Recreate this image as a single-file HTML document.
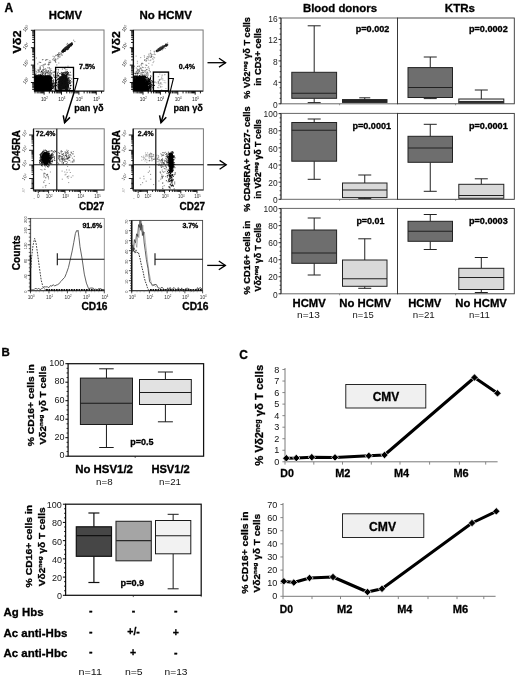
<!DOCTYPE html>
<html><head><meta charset="utf-8"><title>Figure</title>
<style>
html,body{margin:0;padding:0;background:#fff;}
body{width:520px;height:680px;overflow:hidden;font-family:'Liberation Sans', sans-serif;}
svg{display:block;font-family:"Liberation Sans",sans-serif;will-change:transform;}
</style></head><body>
<svg width="520" height="680" viewBox="0 0 520 680">
<rect width="520" height="680" fill="#fff"/>
<text x="4.60" y="11.60" font-size="12.0" font-weight="bold" stroke="#000" stroke-width="0.3">A</text>
<text x="48.80" y="19.00" font-size="11.2" font-weight="bold" stroke="#000" stroke-width="0.3" textLength="33.20" lengthAdjust="spacingAndGlyphs">HCMV</text>
<text x="139.60" y="19.00" font-size="11.2" font-weight="bold" stroke="#000" stroke-width="0.3" textLength="52.20" lengthAdjust="spacingAndGlyphs">No HCMV</text>
<text x="302.90" y="11.80" font-size="11.4" font-weight="bold" stroke="#000" stroke-width="0.3" textLength="74.20" lengthAdjust="spacingAndGlyphs">Blood donors</text>
<text x="444.80" y="11.80" font-size="11.5" font-weight="bold" stroke="#000" stroke-width="0.3" textLength="30.20" lengthAdjust="spacingAndGlyphs">KTRs</text>
<rect x="281.00" y="18.00" width="116.50" height="85.80" fill="none" stroke="#686868" stroke-width="1.0"/>
<rect x="397.50" y="18.00" width="116.80" height="85.80" fill="none" stroke="#333" stroke-width="0.9"/>
<line x1="281.00" y1="18.00" x2="281.00" y2="103.80" stroke="#333" stroke-width="0.9"/>
<line x1="339.60" y1="103.80" x2="339.60" y2="105.30" stroke="#555" stroke-width="0.6"/>
<line x1="455.60" y1="103.80" x2="455.60" y2="105.30" stroke="#555" stroke-width="0.6"/>
<rect x="281.00" y="113.40" width="116.50" height="85.90" fill="none" stroke="#686868" stroke-width="1.0"/>
<rect x="397.50" y="113.40" width="116.80" height="85.90" fill="none" stroke="#333" stroke-width="0.9"/>
<line x1="281.00" y1="113.40" x2="281.00" y2="199.30" stroke="#333" stroke-width="0.9"/>
<line x1="339.60" y1="199.30" x2="339.60" y2="200.80" stroke="#555" stroke-width="0.6"/>
<line x1="455.60" y1="199.30" x2="455.60" y2="200.80" stroke="#555" stroke-width="0.6"/>
<rect x="281.00" y="208.40" width="116.50" height="85.40" fill="none" stroke="#686868" stroke-width="1.0"/>
<rect x="397.50" y="208.40" width="116.80" height="85.40" fill="none" stroke="#333" stroke-width="0.9"/>
<line x1="281.00" y1="208.40" x2="281.00" y2="293.80" stroke="#333" stroke-width="0.9"/>
<line x1="339.60" y1="293.80" x2="339.60" y2="295.30" stroke="#555" stroke-width="0.6"/>
<line x1="455.60" y1="293.80" x2="455.60" y2="295.30" stroke="#555" stroke-width="0.6"/>
<line x1="278.60" y1="103.80" x2="281.00" y2="103.80" stroke="#111" stroke-width="0.9"/>
<text x="277.60" y="107.52" font-size="8.4" text-anchor="end" fill="#1a1a1a">0</text>
<line x1="279.60" y1="98.44" x2="281.00" y2="98.44" stroke="#111" stroke-width="0.7200000000000001"/>
<line x1="279.60" y1="93.08" x2="281.00" y2="93.08" stroke="#111" stroke-width="0.7200000000000001"/>
<line x1="279.60" y1="87.71" x2="281.00" y2="87.71" stroke="#111" stroke-width="0.7200000000000001"/>
<line x1="278.60" y1="82.35" x2="281.00" y2="82.35" stroke="#111" stroke-width="0.9"/>
<text x="277.60" y="86.07" font-size="8.4" text-anchor="end" fill="#1a1a1a">4</text>
<line x1="279.60" y1="76.99" x2="281.00" y2="76.99" stroke="#111" stroke-width="0.7200000000000001"/>
<line x1="279.60" y1="71.62" x2="281.00" y2="71.62" stroke="#111" stroke-width="0.7200000000000001"/>
<line x1="279.60" y1="66.26" x2="281.00" y2="66.26" stroke="#111" stroke-width="0.7200000000000001"/>
<line x1="278.60" y1="60.90" x2="281.00" y2="60.90" stroke="#111" stroke-width="0.9"/>
<text x="277.60" y="64.62" font-size="8.4" text-anchor="end" fill="#1a1a1a">8</text>
<line x1="279.60" y1="55.54" x2="281.00" y2="55.54" stroke="#111" stroke-width="0.7200000000000001"/>
<line x1="279.60" y1="50.17" x2="281.00" y2="50.17" stroke="#111" stroke-width="0.7200000000000001"/>
<line x1="279.60" y1="44.81" x2="281.00" y2="44.81" stroke="#111" stroke-width="0.7200000000000001"/>
<line x1="278.60" y1="39.45" x2="281.00" y2="39.45" stroke="#111" stroke-width="0.9"/>
<text x="277.60" y="43.17" font-size="8.4" text-anchor="end" fill="#1a1a1a">12</text>
<line x1="279.60" y1="34.09" x2="281.00" y2="34.09" stroke="#111" stroke-width="0.7200000000000001"/>
<line x1="279.60" y1="28.73" x2="281.00" y2="28.73" stroke="#111" stroke-width="0.7200000000000001"/>
<line x1="279.60" y1="23.36" x2="281.00" y2="23.36" stroke="#111" stroke-width="0.7200000000000001"/>
<line x1="278.60" y1="18.00" x2="281.00" y2="18.00" stroke="#111" stroke-width="0.9"/>
<text x="277.60" y="21.72" font-size="8.4" text-anchor="end" fill="#1a1a1a">16</text>
<line x1="278.60" y1="199.30" x2="281.00" y2="199.30" stroke="#111" stroke-width="0.9"/>
<text x="277.60" y="203.02" font-size="8.4" text-anchor="end" fill="#1a1a1a">0</text>
<line x1="279.60" y1="195.02" x2="281.00" y2="195.02" stroke="#111" stroke-width="0.7200000000000001"/>
<line x1="279.60" y1="190.73" x2="281.00" y2="190.73" stroke="#111" stroke-width="0.7200000000000001"/>
<line x1="279.60" y1="186.44" x2="281.00" y2="186.44" stroke="#111" stroke-width="0.7200000000000001"/>
<line x1="278.60" y1="182.16" x2="281.00" y2="182.16" stroke="#111" stroke-width="0.9"/>
<text x="277.60" y="185.88" font-size="8.4" text-anchor="end" fill="#1a1a1a">20</text>
<line x1="279.60" y1="177.88" x2="281.00" y2="177.88" stroke="#111" stroke-width="0.7200000000000001"/>
<line x1="279.60" y1="173.59" x2="281.00" y2="173.59" stroke="#111" stroke-width="0.7200000000000001"/>
<line x1="279.60" y1="169.31" x2="281.00" y2="169.31" stroke="#111" stroke-width="0.7200000000000001"/>
<line x1="278.60" y1="165.02" x2="281.00" y2="165.02" stroke="#111" stroke-width="0.9"/>
<text x="277.60" y="168.74" font-size="8.4" text-anchor="end" fill="#1a1a1a">40</text>
<line x1="279.60" y1="160.74" x2="281.00" y2="160.74" stroke="#111" stroke-width="0.7200000000000001"/>
<line x1="279.60" y1="156.45" x2="281.00" y2="156.45" stroke="#111" stroke-width="0.7200000000000001"/>
<line x1="279.60" y1="152.17" x2="281.00" y2="152.17" stroke="#111" stroke-width="0.7200000000000001"/>
<line x1="278.60" y1="147.88" x2="281.00" y2="147.88" stroke="#111" stroke-width="0.9"/>
<text x="277.60" y="151.60" font-size="8.4" text-anchor="end" fill="#1a1a1a">60</text>
<line x1="279.60" y1="143.59" x2="281.00" y2="143.59" stroke="#111" stroke-width="0.7200000000000001"/>
<line x1="279.60" y1="139.31" x2="281.00" y2="139.31" stroke="#111" stroke-width="0.7200000000000001"/>
<line x1="279.60" y1="135.02" x2="281.00" y2="135.02" stroke="#111" stroke-width="0.7200000000000001"/>
<line x1="278.60" y1="130.74" x2="281.00" y2="130.74" stroke="#111" stroke-width="0.9"/>
<text x="277.60" y="134.46" font-size="8.4" text-anchor="end" fill="#1a1a1a">80</text>
<line x1="279.60" y1="126.46" x2="281.00" y2="126.46" stroke="#111" stroke-width="0.7200000000000001"/>
<line x1="279.60" y1="122.17" x2="281.00" y2="122.17" stroke="#111" stroke-width="0.7200000000000001"/>
<line x1="279.60" y1="117.89" x2="281.00" y2="117.89" stroke="#111" stroke-width="0.7200000000000001"/>
<line x1="278.60" y1="113.60" x2="281.00" y2="113.60" stroke="#111" stroke-width="0.9"/>
<text x="277.60" y="117.32" font-size="8.4" text-anchor="end" fill="#1a1a1a">100</text>
<line x1="278.60" y1="293.80" x2="281.00" y2="293.80" stroke="#111" stroke-width="0.9"/>
<text x="277.60" y="297.52" font-size="8.4" text-anchor="end" fill="#1a1a1a">0</text>
<line x1="279.60" y1="289.54" x2="281.00" y2="289.54" stroke="#111" stroke-width="0.7200000000000001"/>
<line x1="279.60" y1="285.28" x2="281.00" y2="285.28" stroke="#111" stroke-width="0.7200000000000001"/>
<line x1="279.60" y1="281.02" x2="281.00" y2="281.02" stroke="#111" stroke-width="0.7200000000000001"/>
<line x1="278.60" y1="276.76" x2="281.00" y2="276.76" stroke="#111" stroke-width="0.9"/>
<text x="277.60" y="280.48" font-size="8.4" text-anchor="end" fill="#1a1a1a">20</text>
<line x1="279.60" y1="272.50" x2="281.00" y2="272.50" stroke="#111" stroke-width="0.7200000000000001"/>
<line x1="279.60" y1="268.24" x2="281.00" y2="268.24" stroke="#111" stroke-width="0.7200000000000001"/>
<line x1="279.60" y1="263.98" x2="281.00" y2="263.98" stroke="#111" stroke-width="0.7200000000000001"/>
<line x1="278.60" y1="259.72" x2="281.00" y2="259.72" stroke="#111" stroke-width="0.9"/>
<text x="277.60" y="263.44" font-size="8.4" text-anchor="end" fill="#1a1a1a">40</text>
<line x1="279.60" y1="255.46" x2="281.00" y2="255.46" stroke="#111" stroke-width="0.7200000000000001"/>
<line x1="279.60" y1="251.20" x2="281.00" y2="251.20" stroke="#111" stroke-width="0.7200000000000001"/>
<line x1="279.60" y1="246.94" x2="281.00" y2="246.94" stroke="#111" stroke-width="0.7200000000000001"/>
<line x1="278.60" y1="242.68" x2="281.00" y2="242.68" stroke="#111" stroke-width="0.9"/>
<text x="277.60" y="246.40" font-size="8.4" text-anchor="end" fill="#1a1a1a">60</text>
<line x1="279.60" y1="238.42" x2="281.00" y2="238.42" stroke="#111" stroke-width="0.7200000000000001"/>
<line x1="279.60" y1="234.16" x2="281.00" y2="234.16" stroke="#111" stroke-width="0.7200000000000001"/>
<line x1="279.60" y1="229.90" x2="281.00" y2="229.90" stroke="#111" stroke-width="0.7200000000000001"/>
<line x1="278.60" y1="225.64" x2="281.00" y2="225.64" stroke="#111" stroke-width="0.9"/>
<text x="277.60" y="229.36" font-size="8.4" text-anchor="end" fill="#1a1a1a">80</text>
<line x1="279.60" y1="221.38" x2="281.00" y2="221.38" stroke="#111" stroke-width="0.7200000000000001"/>
<line x1="279.60" y1="217.12" x2="281.00" y2="217.12" stroke="#111" stroke-width="0.7200000000000001"/>
<line x1="279.60" y1="212.86" x2="281.00" y2="212.86" stroke="#111" stroke-width="0.7200000000000001"/>
<line x1="278.60" y1="208.60" x2="281.00" y2="208.60" stroke="#111" stroke-width="0.9"/>
<text x="277.60" y="212.32" font-size="8.4" text-anchor="end" fill="#1a1a1a">100</text>
<line x1="314.20" y1="25.80" x2="314.20" y2="72.30" stroke="#222" stroke-width="1.0"/>
<line x1="307.70" y1="25.80" x2="320.70" y2="25.80" stroke="#222" stroke-width="1.0"/>
<line x1="314.20" y1="98.30" x2="314.20" y2="102.60" stroke="#222" stroke-width="1.0"/>
<line x1="307.70" y1="102.60" x2="320.70" y2="102.60" stroke="#222" stroke-width="1.0"/>
<rect x="291.80" y="72.30" width="44.80" height="26.00" fill="#6e6e6e" stroke="#222" stroke-width="1.0"/>
<line x1="291.80" y1="93.30" x2="336.60" y2="93.30" stroke="#222" stroke-width="1.1"/>
<line x1="364.75" y1="97.80" x2="364.75" y2="99.60" stroke="#222" stroke-width="1.0"/>
<line x1="359.25" y1="97.80" x2="370.25" y2="97.80" stroke="#222" stroke-width="1.0"/>
<rect x="342.50" y="99.60" width="44.50" height="2.80" fill="#2a2a2a" stroke="#222" stroke-width="1.0"/>
<line x1="342.50" y1="101.00" x2="387.00" y2="101.00" stroke="#222" stroke-width="1.1"/>
<line x1="430.25" y1="57.00" x2="430.25" y2="67.60" stroke="#222" stroke-width="1.0"/>
<line x1="423.75" y1="57.00" x2="436.75" y2="57.00" stroke="#222" stroke-width="1.0"/>
<line x1="430.25" y1="97.50" x2="430.25" y2="98.60" stroke="#222" stroke-width="1.0"/>
<line x1="423.75" y1="98.60" x2="436.75" y2="98.60" stroke="#222" stroke-width="1.0"/>
<rect x="408.00" y="67.60" width="44.50" height="29.90" fill="#6e6e6e" stroke="#222" stroke-width="1.0"/>
<line x1="408.00" y1="87.50" x2="452.50" y2="87.50" stroke="#222" stroke-width="1.1"/>
<line x1="481.30" y1="90.00" x2="481.30" y2="99.00" stroke="#222" stroke-width="1.0"/>
<line x1="474.80" y1="90.00" x2="487.80" y2="90.00" stroke="#222" stroke-width="1.0"/>
<rect x="458.80" y="99.00" width="45.00" height="4.00" fill="#efefef" stroke="#222" stroke-width="1.0"/>
<line x1="458.80" y1="101.60" x2="503.80" y2="101.60" stroke="#222" stroke-width="1.1"/>
<line x1="458.80" y1="102.20" x2="503.80" y2="102.20" stroke="#333" stroke-width="1.6"/>
<line x1="314.20" y1="119.00" x2="314.20" y2="122.50" stroke="#222" stroke-width="1.0"/>
<line x1="307.70" y1="119.00" x2="320.70" y2="119.00" stroke="#222" stroke-width="1.0"/>
<line x1="314.20" y1="161.20" x2="314.20" y2="179.30" stroke="#222" stroke-width="1.0"/>
<line x1="307.70" y1="179.30" x2="320.70" y2="179.30" stroke="#222" stroke-width="1.0"/>
<rect x="291.80" y="122.50" width="44.80" height="38.70" fill="#6e6e6e" stroke="#222" stroke-width="1.0"/>
<line x1="291.80" y1="130.20" x2="336.60" y2="130.20" stroke="#222" stroke-width="1.1"/>
<line x1="364.75" y1="175.00" x2="364.75" y2="183.00" stroke="#222" stroke-width="1.0"/>
<line x1="358.25" y1="175.00" x2="371.25" y2="175.00" stroke="#222" stroke-width="1.0"/>
<line x1="364.75" y1="197.60" x2="364.75" y2="198.60" stroke="#222" stroke-width="1.0"/>
<line x1="358.25" y1="198.60" x2="371.25" y2="198.60" stroke="#222" stroke-width="1.0"/>
<rect x="342.50" y="183.00" width="44.50" height="14.60" fill="#d9d9d9" stroke="#222" stroke-width="1.0"/>
<line x1="342.50" y1="190.00" x2="387.00" y2="190.00" stroke="#222" stroke-width="1.1"/>
<line x1="430.25" y1="124.30" x2="430.25" y2="136.30" stroke="#222" stroke-width="1.0"/>
<line x1="423.75" y1="124.30" x2="436.75" y2="124.30" stroke="#222" stroke-width="1.0"/>
<line x1="430.25" y1="162.30" x2="430.25" y2="191.30" stroke="#222" stroke-width="1.0"/>
<line x1="423.75" y1="191.30" x2="436.75" y2="191.30" stroke="#222" stroke-width="1.0"/>
<rect x="408.00" y="136.30" width="44.50" height="26.00" fill="#6e6e6e" stroke="#222" stroke-width="1.0"/>
<line x1="408.00" y1="148.00" x2="452.50" y2="148.00" stroke="#222" stroke-width="1.1"/>
<line x1="481.30" y1="178.80" x2="481.30" y2="184.30" stroke="#222" stroke-width="1.0"/>
<line x1="474.80" y1="178.80" x2="487.80" y2="178.80" stroke="#222" stroke-width="1.0"/>
<rect x="458.80" y="184.30" width="45.00" height="14.00" fill="#d9d9d9" stroke="#222" stroke-width="1.0"/>
<line x1="458.80" y1="195.50" x2="503.80" y2="195.50" stroke="#222" stroke-width="1.1"/>
<line x1="314.20" y1="218.00" x2="314.20" y2="230.00" stroke="#222" stroke-width="1.0"/>
<line x1="307.70" y1="218.00" x2="320.70" y2="218.00" stroke="#222" stroke-width="1.0"/>
<line x1="314.20" y1="263.30" x2="314.20" y2="275.00" stroke="#222" stroke-width="1.0"/>
<line x1="307.70" y1="275.00" x2="320.70" y2="275.00" stroke="#222" stroke-width="1.0"/>
<rect x="291.80" y="230.00" width="44.80" height="33.30" fill="#6e6e6e" stroke="#222" stroke-width="1.0"/>
<line x1="291.80" y1="253.00" x2="336.60" y2="253.00" stroke="#222" stroke-width="1.1"/>
<line x1="364.75" y1="238.80" x2="364.75" y2="260.00" stroke="#222" stroke-width="1.0"/>
<line x1="358.25" y1="238.80" x2="371.25" y2="238.80" stroke="#222" stroke-width="1.0"/>
<line x1="364.75" y1="286.30" x2="364.75" y2="288.30" stroke="#222" stroke-width="1.0"/>
<line x1="358.25" y1="288.30" x2="371.25" y2="288.30" stroke="#222" stroke-width="1.0"/>
<rect x="342.50" y="260.00" width="44.50" height="26.30" fill="#d9d9d9" stroke="#222" stroke-width="1.0"/>
<line x1="342.50" y1="278.70" x2="387.00" y2="278.70" stroke="#222" stroke-width="1.1"/>
<line x1="430.25" y1="214.50" x2="430.25" y2="221.30" stroke="#222" stroke-width="1.0"/>
<line x1="423.75" y1="214.50" x2="436.75" y2="214.50" stroke="#222" stroke-width="1.0"/>
<line x1="430.25" y1="241.30" x2="430.25" y2="249.50" stroke="#222" stroke-width="1.0"/>
<line x1="423.75" y1="249.50" x2="436.75" y2="249.50" stroke="#222" stroke-width="1.0"/>
<rect x="408.00" y="221.30" width="44.50" height="20.00" fill="#6e6e6e" stroke="#222" stroke-width="1.0"/>
<line x1="408.00" y1="231.30" x2="452.50" y2="231.30" stroke="#222" stroke-width="1.1"/>
<line x1="481.30" y1="257.50" x2="481.30" y2="268.30" stroke="#222" stroke-width="1.0"/>
<line x1="474.80" y1="257.50" x2="487.80" y2="257.50" stroke="#222" stroke-width="1.0"/>
<line x1="481.30" y1="289.50" x2="481.30" y2="292.50" stroke="#222" stroke-width="1.0"/>
<line x1="474.80" y1="292.50" x2="487.80" y2="292.50" stroke="#222" stroke-width="1.0"/>
<rect x="458.80" y="268.30" width="45.00" height="21.20" fill="#d9d9d9" stroke="#222" stroke-width="1.0"/>
<line x1="458.80" y1="277.50" x2="503.80" y2="277.50" stroke="#222" stroke-width="1.1"/>
<text x="355.80" y="31.80" font-size="8.8" font-weight="bold" stroke="#000" stroke-width="0.3" textLength="33.50" lengthAdjust="spacingAndGlyphs">p=0.002</text>
<text x="469.00" y="31.90" font-size="8.8" font-weight="bold" stroke="#000" stroke-width="0.3" textLength="38.70" lengthAdjust="spacingAndGlyphs">p=0.0002</text>
<text x="352.40" y="129.20" font-size="8.8" font-weight="bold" stroke="#000" stroke-width="0.3" textLength="38.70" lengthAdjust="spacingAndGlyphs">p=0.0001</text>
<text x="469.00" y="129.20" font-size="8.8" font-weight="bold" stroke="#000" stroke-width="0.3" textLength="38.70" lengthAdjust="spacingAndGlyphs">p=0.0001</text>
<text x="356.40" y="223.70" font-size="8.8" font-weight="bold" stroke="#000" stroke-width="0.3" textLength="28.00" lengthAdjust="spacingAndGlyphs">p=0.01</text>
<text x="469.00" y="223.70" font-size="8.8" font-weight="bold" stroke="#000" stroke-width="0.3" textLength="38.70" lengthAdjust="spacingAndGlyphs">p=0.0003</text>
<text x="292.50" y="306.50" font-size="11.6" font-weight="bold" stroke="#000" stroke-width="0.3" textLength="33.20" lengthAdjust="spacingAndGlyphs">HCMV</text>
<text x="339.30" y="306.50" font-size="11.6" font-weight="bold" stroke="#000" stroke-width="0.3" textLength="51.80" lengthAdjust="spacingAndGlyphs">No HCMV</text>
<text x="408.20" y="306.50" font-size="11.6" font-weight="bold" stroke="#000" stroke-width="0.3" textLength="33.20" lengthAdjust="spacingAndGlyphs">HCMV</text>
<text x="455.30" y="306.50" font-size="11.6" font-weight="bold" stroke="#000" stroke-width="0.3" textLength="51.60" lengthAdjust="spacingAndGlyphs">No HCMV</text>
<text x="297.00" y="318.00" font-size="9.6" fill="#151515" textLength="22.80" lengthAdjust="spacingAndGlyphs">n=13</text>
<text x="352.60" y="318.00" font-size="9.6" fill="#151515" textLength="21.20" lengthAdjust="spacingAndGlyphs">n=15</text>
<text x="412.80" y="318.00" font-size="9.6" fill="#151515" textLength="22.00" lengthAdjust="spacingAndGlyphs">n=21</text>
<text x="468.90" y="318.00" font-size="9.6" fill="#151515" textLength="20.90" lengthAdjust="spacingAndGlyphs">n=11</text>
<text transform="translate(250.30,98.70) rotate(-90)" font-size="9.1" font-weight="bold" stroke="#000" stroke-width="0.3" textLength="81.60" lengthAdjust="spacingAndGlyphs">% Vδ2<tspan font-size="5.64" dy="-3.00">neg</tspan><tspan dy="3.00"> </tspan>γδ T cells</text>
<text transform="translate(261.30,85.70) rotate(-90)" font-size="9.1" font-weight="bold" stroke="#000" stroke-width="0.3" textLength="57.60" lengthAdjust="spacingAndGlyphs">in CD3+ cells</text>
<text transform="translate(250.30,211.80) rotate(-90)" font-size="9.1" font-weight="bold" stroke="#000" stroke-width="0.3" textLength="105.40" lengthAdjust="spacingAndGlyphs">% CD45RA+ CD27- cells</text>
<text transform="translate(261.30,198.80) rotate(-90)" font-size="9.1" font-weight="bold" stroke="#000" stroke-width="0.3" textLength="79.60" lengthAdjust="spacingAndGlyphs">in Vδ2<tspan font-size="5.64" dy="-3.00">neg</tspan><tspan dy="3.00"> </tspan>γδ T cells</text>
<text transform="translate(250.30,294.50) rotate(-90)" font-size="9.1" font-weight="bold" stroke="#000" stroke-width="0.3" textLength="74.00" lengthAdjust="spacingAndGlyphs">% CD16+ cells in</text>
<text transform="translate(261.30,291.50) rotate(-90)" font-size="9.1" font-weight="bold" stroke="#000" stroke-width="0.3" textLength="68.50" lengthAdjust="spacingAndGlyphs">Vδ2<tspan font-size="5.64" dy="-3.00">neg</tspan><tspan dy="3.00"> </tspan>γδ T cells</text>
<rect x="34.50" y="30.00" width="69.50" height="61.10" fill="none" stroke="#777" stroke-width="1.0"/>
<line x1="34.50" y1="30.00" x2="34.50" y2="91.60" stroke="#111" stroke-width="1.3"/>
<line x1="34.50" y1="91.10" x2="104.00" y2="91.10" stroke="#333" stroke-width="1.1"/>
<line x1="35.00" y1="91.10" x2="35.00" y2="93.40" stroke="#000" stroke-width="0.9"/>
<line x1="37.18" y1="91.10" x2="37.18" y2="93.40" stroke="#000" stroke-width="0.9"/>
<line x1="38.86" y1="91.10" x2="38.86" y2="93.40" stroke="#000" stroke-width="0.9"/>
<line x1="40.24" y1="91.10" x2="40.24" y2="93.40" stroke="#000" stroke-width="0.9"/>
<line x1="41.40" y1="91.10" x2="41.40" y2="93.40" stroke="#000" stroke-width="0.9"/>
<line x1="42.41" y1="91.10" x2="42.41" y2="93.40" stroke="#000" stroke-width="0.9"/>
<line x1="43.30" y1="91.10" x2="43.30" y2="93.40" stroke="#000" stroke-width="0.9"/>
<line x1="44.10" y1="91.10" x2="44.10" y2="94.70" stroke="#000" stroke-width="0.9"/>
<line x1="49.34" y1="91.10" x2="49.34" y2="93.40" stroke="#000" stroke-width="0.9"/>
<line x1="52.40" y1="91.10" x2="52.40" y2="93.40" stroke="#000" stroke-width="0.9"/>
<line x1="54.58" y1="91.10" x2="54.58" y2="93.40" stroke="#000" stroke-width="0.9"/>
<line x1="56.26" y1="91.10" x2="56.26" y2="93.40" stroke="#000" stroke-width="0.9"/>
<line x1="57.64" y1="91.10" x2="57.64" y2="93.40" stroke="#000" stroke-width="0.9"/>
<line x1="58.80" y1="91.10" x2="58.80" y2="93.40" stroke="#000" stroke-width="0.9"/>
<line x1="59.81" y1="91.10" x2="59.81" y2="93.40" stroke="#000" stroke-width="0.9"/>
<line x1="60.70" y1="91.10" x2="60.70" y2="93.40" stroke="#000" stroke-width="0.9"/>
<line x1="61.50" y1="91.10" x2="61.50" y2="94.70" stroke="#000" stroke-width="0.9"/>
<line x1="66.74" y1="91.10" x2="66.74" y2="93.40" stroke="#000" stroke-width="0.9"/>
<line x1="69.80" y1="91.10" x2="69.80" y2="93.40" stroke="#000" stroke-width="0.9"/>
<line x1="71.98" y1="91.10" x2="71.98" y2="93.40" stroke="#000" stroke-width="0.9"/>
<line x1="73.66" y1="91.10" x2="73.66" y2="93.40" stroke="#000" stroke-width="0.9"/>
<line x1="75.04" y1="91.10" x2="75.04" y2="93.40" stroke="#000" stroke-width="0.9"/>
<line x1="76.20" y1="91.10" x2="76.20" y2="93.40" stroke="#000" stroke-width="0.9"/>
<line x1="77.21" y1="91.10" x2="77.21" y2="93.40" stroke="#000" stroke-width="0.9"/>
<line x1="78.10" y1="91.10" x2="78.10" y2="93.40" stroke="#000" stroke-width="0.9"/>
<line x1="78.90" y1="91.10" x2="78.90" y2="94.70" stroke="#000" stroke-width="0.9"/>
<line x1="84.14" y1="91.10" x2="84.14" y2="93.40" stroke="#000" stroke-width="0.9"/>
<line x1="87.20" y1="91.10" x2="87.20" y2="93.40" stroke="#000" stroke-width="0.9"/>
<line x1="89.38" y1="91.10" x2="89.38" y2="93.40" stroke="#000" stroke-width="0.9"/>
<line x1="91.06" y1="91.10" x2="91.06" y2="93.40" stroke="#000" stroke-width="0.9"/>
<line x1="92.44" y1="91.10" x2="92.44" y2="93.40" stroke="#000" stroke-width="0.9"/>
<line x1="93.60" y1="91.10" x2="93.60" y2="93.40" stroke="#000" stroke-width="0.9"/>
<line x1="94.61" y1="91.10" x2="94.61" y2="93.40" stroke="#000" stroke-width="0.9"/>
<line x1="95.50" y1="91.10" x2="95.50" y2="93.40" stroke="#000" stroke-width="0.9"/>
<line x1="96.30" y1="91.10" x2="96.30" y2="94.70" stroke="#000" stroke-width="0.9"/>
<line x1="101.54" y1="91.10" x2="101.54" y2="93.40" stroke="#000" stroke-width="0.9"/>
<line x1="32.20" y1="89.42" x2="34.50" y2="89.42" stroke="#000" stroke-width="0.9"/>
<line x1="32.20" y1="87.74" x2="34.50" y2="87.74" stroke="#000" stroke-width="0.9"/>
<line x1="32.20" y1="86.36" x2="34.50" y2="86.36" stroke="#000" stroke-width="0.9"/>
<line x1="32.20" y1="85.20" x2="34.50" y2="85.20" stroke="#000" stroke-width="0.9"/>
<line x1="32.20" y1="84.19" x2="34.50" y2="84.19" stroke="#000" stroke-width="0.9"/>
<line x1="32.20" y1="83.30" x2="34.50" y2="83.30" stroke="#000" stroke-width="0.9"/>
<line x1="30.90" y1="82.50" x2="34.50" y2="82.50" stroke="#000" stroke-width="0.9"/>
<line x1="32.20" y1="77.26" x2="34.50" y2="77.26" stroke="#000" stroke-width="0.9"/>
<line x1="32.20" y1="74.20" x2="34.50" y2="74.20" stroke="#000" stroke-width="0.9"/>
<line x1="32.20" y1="72.02" x2="34.50" y2="72.02" stroke="#000" stroke-width="0.9"/>
<line x1="32.20" y1="70.34" x2="34.50" y2="70.34" stroke="#000" stroke-width="0.9"/>
<line x1="32.20" y1="68.96" x2="34.50" y2="68.96" stroke="#000" stroke-width="0.9"/>
<line x1="32.20" y1="67.80" x2="34.50" y2="67.80" stroke="#000" stroke-width="0.9"/>
<line x1="32.20" y1="66.79" x2="34.50" y2="66.79" stroke="#000" stroke-width="0.9"/>
<line x1="32.20" y1="65.90" x2="34.50" y2="65.90" stroke="#000" stroke-width="0.9"/>
<line x1="30.90" y1="65.10" x2="34.50" y2="65.10" stroke="#000" stroke-width="0.9"/>
<line x1="32.20" y1="59.86" x2="34.50" y2="59.86" stroke="#000" stroke-width="0.9"/>
<line x1="32.20" y1="56.80" x2="34.50" y2="56.80" stroke="#000" stroke-width="0.9"/>
<line x1="32.20" y1="54.62" x2="34.50" y2="54.62" stroke="#000" stroke-width="0.9"/>
<line x1="32.20" y1="52.94" x2="34.50" y2="52.94" stroke="#000" stroke-width="0.9"/>
<line x1="32.20" y1="51.56" x2="34.50" y2="51.56" stroke="#000" stroke-width="0.9"/>
<line x1="32.20" y1="50.40" x2="34.50" y2="50.40" stroke="#000" stroke-width="0.9"/>
<line x1="32.20" y1="49.39" x2="34.50" y2="49.39" stroke="#000" stroke-width="0.9"/>
<line x1="32.20" y1="48.50" x2="34.50" y2="48.50" stroke="#000" stroke-width="0.9"/>
<line x1="30.90" y1="47.70" x2="34.50" y2="47.70" stroke="#000" stroke-width="0.9"/>
<line x1="32.20" y1="42.46" x2="34.50" y2="42.46" stroke="#000" stroke-width="0.9"/>
<line x1="32.20" y1="39.40" x2="34.50" y2="39.40" stroke="#000" stroke-width="0.9"/>
<line x1="32.20" y1="37.22" x2="34.50" y2="37.22" stroke="#000" stroke-width="0.9"/>
<line x1="32.20" y1="35.54" x2="34.50" y2="35.54" stroke="#000" stroke-width="0.9"/>
<line x1="32.20" y1="34.16" x2="34.50" y2="34.16" stroke="#000" stroke-width="0.9"/>
<line x1="32.20" y1="33.00" x2="34.50" y2="33.00" stroke="#000" stroke-width="0.9"/>
<line x1="32.20" y1="31.99" x2="34.50" y2="31.99" stroke="#000" stroke-width="0.9"/>
<line x1="32.20" y1="31.10" x2="34.50" y2="31.10" stroke="#000" stroke-width="0.9"/>
<line x1="30.90" y1="30.30" x2="34.50" y2="30.30" stroke="#000" stroke-width="0.9"/>
<text x="44.40" y="100.50" font-size="4.8" fill="#222" text-anchor="middle">10<tspan font-size="2.8" dy="-1.6">2</tspan></text>
<text transform="translate(27.10,81.70) rotate(-55)" font-size="4.8" fill="#222" text-anchor="middle">10<tspan font-size="2.8" dy="-1.6">2</tspan></text>
<text x="61.80" y="100.50" font-size="4.8" fill="#222" text-anchor="middle">10<tspan font-size="2.8" dy="-1.6">3</tspan></text>
<text transform="translate(27.10,64.30) rotate(-55)" font-size="4.8" fill="#222" text-anchor="middle">10<tspan font-size="2.8" dy="-1.6">3</tspan></text>
<text x="79.20" y="100.50" font-size="4.8" fill="#222" text-anchor="middle">10<tspan font-size="2.8" dy="-1.6">4</tspan></text>
<text transform="translate(27.10,46.90) rotate(-55)" font-size="4.8" fill="#222" text-anchor="middle">10<tspan font-size="2.8" dy="-1.6">4</tspan></text>
<text x="96.60" y="100.50" font-size="4.8" fill="#222" text-anchor="middle">10<tspan font-size="2.8" dy="-1.6">5</tspan></text>
<text transform="translate(27.10,29.50) rotate(-55)" font-size="4.8" fill="#222" text-anchor="middle">10<tspan font-size="2.8" dy="-1.6">5</tspan></text>
<rect x="133.40" y="30.00" width="69.70" height="61.10" fill="none" stroke="#777" stroke-width="1.0"/>
<line x1="133.40" y1="30.00" x2="133.40" y2="91.60" stroke="#111" stroke-width="1.3"/>
<line x1="133.40" y1="91.10" x2="203.10" y2="91.10" stroke="#333" stroke-width="1.1"/>
<line x1="133.90" y1="91.10" x2="133.90" y2="93.40" stroke="#000" stroke-width="0.9"/>
<line x1="136.08" y1="91.10" x2="136.08" y2="93.40" stroke="#000" stroke-width="0.9"/>
<line x1="137.76" y1="91.10" x2="137.76" y2="93.40" stroke="#000" stroke-width="0.9"/>
<line x1="139.14" y1="91.10" x2="139.14" y2="93.40" stroke="#000" stroke-width="0.9"/>
<line x1="140.30" y1="91.10" x2="140.30" y2="93.40" stroke="#000" stroke-width="0.9"/>
<line x1="141.31" y1="91.10" x2="141.31" y2="93.40" stroke="#000" stroke-width="0.9"/>
<line x1="142.20" y1="91.10" x2="142.20" y2="93.40" stroke="#000" stroke-width="0.9"/>
<line x1="143.00" y1="91.10" x2="143.00" y2="94.70" stroke="#000" stroke-width="0.9"/>
<line x1="148.24" y1="91.10" x2="148.24" y2="93.40" stroke="#000" stroke-width="0.9"/>
<line x1="151.30" y1="91.10" x2="151.30" y2="93.40" stroke="#000" stroke-width="0.9"/>
<line x1="153.48" y1="91.10" x2="153.48" y2="93.40" stroke="#000" stroke-width="0.9"/>
<line x1="155.16" y1="91.10" x2="155.16" y2="93.40" stroke="#000" stroke-width="0.9"/>
<line x1="156.54" y1="91.10" x2="156.54" y2="93.40" stroke="#000" stroke-width="0.9"/>
<line x1="157.70" y1="91.10" x2="157.70" y2="93.40" stroke="#000" stroke-width="0.9"/>
<line x1="158.71" y1="91.10" x2="158.71" y2="93.40" stroke="#000" stroke-width="0.9"/>
<line x1="159.60" y1="91.10" x2="159.60" y2="93.40" stroke="#000" stroke-width="0.9"/>
<line x1="160.40" y1="91.10" x2="160.40" y2="94.70" stroke="#000" stroke-width="0.9"/>
<line x1="165.64" y1="91.10" x2="165.64" y2="93.40" stroke="#000" stroke-width="0.9"/>
<line x1="168.70" y1="91.10" x2="168.70" y2="93.40" stroke="#000" stroke-width="0.9"/>
<line x1="170.88" y1="91.10" x2="170.88" y2="93.40" stroke="#000" stroke-width="0.9"/>
<line x1="172.56" y1="91.10" x2="172.56" y2="93.40" stroke="#000" stroke-width="0.9"/>
<line x1="173.94" y1="91.10" x2="173.94" y2="93.40" stroke="#000" stroke-width="0.9"/>
<line x1="175.10" y1="91.10" x2="175.10" y2="93.40" stroke="#000" stroke-width="0.9"/>
<line x1="176.11" y1="91.10" x2="176.11" y2="93.40" stroke="#000" stroke-width="0.9"/>
<line x1="177.00" y1="91.10" x2="177.00" y2="93.40" stroke="#000" stroke-width="0.9"/>
<line x1="177.80" y1="91.10" x2="177.80" y2="94.70" stroke="#000" stroke-width="0.9"/>
<line x1="183.04" y1="91.10" x2="183.04" y2="93.40" stroke="#000" stroke-width="0.9"/>
<line x1="186.10" y1="91.10" x2="186.10" y2="93.40" stroke="#000" stroke-width="0.9"/>
<line x1="188.28" y1="91.10" x2="188.28" y2="93.40" stroke="#000" stroke-width="0.9"/>
<line x1="189.96" y1="91.10" x2="189.96" y2="93.40" stroke="#000" stroke-width="0.9"/>
<line x1="191.34" y1="91.10" x2="191.34" y2="93.40" stroke="#000" stroke-width="0.9"/>
<line x1="192.50" y1="91.10" x2="192.50" y2="93.40" stroke="#000" stroke-width="0.9"/>
<line x1="193.51" y1="91.10" x2="193.51" y2="93.40" stroke="#000" stroke-width="0.9"/>
<line x1="194.40" y1="91.10" x2="194.40" y2="93.40" stroke="#000" stroke-width="0.9"/>
<line x1="195.20" y1="91.10" x2="195.20" y2="94.70" stroke="#000" stroke-width="0.9"/>
<line x1="200.44" y1="91.10" x2="200.44" y2="93.40" stroke="#000" stroke-width="0.9"/>
<line x1="131.10" y1="89.42" x2="133.40" y2="89.42" stroke="#000" stroke-width="0.9"/>
<line x1="131.10" y1="87.74" x2="133.40" y2="87.74" stroke="#000" stroke-width="0.9"/>
<line x1="131.10" y1="86.36" x2="133.40" y2="86.36" stroke="#000" stroke-width="0.9"/>
<line x1="131.10" y1="85.20" x2="133.40" y2="85.20" stroke="#000" stroke-width="0.9"/>
<line x1="131.10" y1="84.19" x2="133.40" y2="84.19" stroke="#000" stroke-width="0.9"/>
<line x1="131.10" y1="83.30" x2="133.40" y2="83.30" stroke="#000" stroke-width="0.9"/>
<line x1="129.80" y1="82.50" x2="133.40" y2="82.50" stroke="#000" stroke-width="0.9"/>
<line x1="131.10" y1="77.26" x2="133.40" y2="77.26" stroke="#000" stroke-width="0.9"/>
<line x1="131.10" y1="74.20" x2="133.40" y2="74.20" stroke="#000" stroke-width="0.9"/>
<line x1="131.10" y1="72.02" x2="133.40" y2="72.02" stroke="#000" stroke-width="0.9"/>
<line x1="131.10" y1="70.34" x2="133.40" y2="70.34" stroke="#000" stroke-width="0.9"/>
<line x1="131.10" y1="68.96" x2="133.40" y2="68.96" stroke="#000" stroke-width="0.9"/>
<line x1="131.10" y1="67.80" x2="133.40" y2="67.80" stroke="#000" stroke-width="0.9"/>
<line x1="131.10" y1="66.79" x2="133.40" y2="66.79" stroke="#000" stroke-width="0.9"/>
<line x1="131.10" y1="65.90" x2="133.40" y2="65.90" stroke="#000" stroke-width="0.9"/>
<line x1="129.80" y1="65.10" x2="133.40" y2="65.10" stroke="#000" stroke-width="0.9"/>
<line x1="131.10" y1="59.86" x2="133.40" y2="59.86" stroke="#000" stroke-width="0.9"/>
<line x1="131.10" y1="56.80" x2="133.40" y2="56.80" stroke="#000" stroke-width="0.9"/>
<line x1="131.10" y1="54.62" x2="133.40" y2="54.62" stroke="#000" stroke-width="0.9"/>
<line x1="131.10" y1="52.94" x2="133.40" y2="52.94" stroke="#000" stroke-width="0.9"/>
<line x1="131.10" y1="51.56" x2="133.40" y2="51.56" stroke="#000" stroke-width="0.9"/>
<line x1="131.10" y1="50.40" x2="133.40" y2="50.40" stroke="#000" stroke-width="0.9"/>
<line x1="131.10" y1="49.39" x2="133.40" y2="49.39" stroke="#000" stroke-width="0.9"/>
<line x1="131.10" y1="48.50" x2="133.40" y2="48.50" stroke="#000" stroke-width="0.9"/>
<line x1="129.80" y1="47.70" x2="133.40" y2="47.70" stroke="#000" stroke-width="0.9"/>
<line x1="131.10" y1="42.46" x2="133.40" y2="42.46" stroke="#000" stroke-width="0.9"/>
<line x1="131.10" y1="39.40" x2="133.40" y2="39.40" stroke="#000" stroke-width="0.9"/>
<line x1="131.10" y1="37.22" x2="133.40" y2="37.22" stroke="#000" stroke-width="0.9"/>
<line x1="131.10" y1="35.54" x2="133.40" y2="35.54" stroke="#000" stroke-width="0.9"/>
<line x1="131.10" y1="34.16" x2="133.40" y2="34.16" stroke="#000" stroke-width="0.9"/>
<line x1="131.10" y1="33.00" x2="133.40" y2="33.00" stroke="#000" stroke-width="0.9"/>
<line x1="131.10" y1="31.99" x2="133.40" y2="31.99" stroke="#000" stroke-width="0.9"/>
<line x1="131.10" y1="31.10" x2="133.40" y2="31.10" stroke="#000" stroke-width="0.9"/>
<line x1="129.80" y1="30.30" x2="133.40" y2="30.30" stroke="#000" stroke-width="0.9"/>
<text x="143.30" y="100.50" font-size="4.8" fill="#222" text-anchor="middle">10<tspan font-size="2.8" dy="-1.6">2</tspan></text>
<text transform="translate(126.00,81.70) rotate(-55)" font-size="4.8" fill="#222" text-anchor="middle">10<tspan font-size="2.8" dy="-1.6">2</tspan></text>
<text x="160.70" y="100.50" font-size="4.8" fill="#222" text-anchor="middle">10<tspan font-size="2.8" dy="-1.6">3</tspan></text>
<text transform="translate(126.00,64.30) rotate(-55)" font-size="4.8" fill="#222" text-anchor="middle">10<tspan font-size="2.8" dy="-1.6">3</tspan></text>
<text x="178.10" y="100.50" font-size="4.8" fill="#222" text-anchor="middle">10<tspan font-size="2.8" dy="-1.6">4</tspan></text>
<text transform="translate(126.00,46.90) rotate(-55)" font-size="4.8" fill="#222" text-anchor="middle">10<tspan font-size="2.8" dy="-1.6">4</tspan></text>
<text x="195.50" y="100.50" font-size="4.8" fill="#222" text-anchor="middle">10<tspan font-size="2.8" dy="-1.6">5</tspan></text>
<text transform="translate(126.00,29.50) rotate(-55)" font-size="4.8" fill="#222" text-anchor="middle">10<tspan font-size="2.8" dy="-1.6">5</tspan></text>
<path d="M34.5 91.1 L34.5 90.1 L34.5 89.2 L34.5 88.2 L34.5 87.3 L34.5 86.3 L34.5 85.3 L34.5 84.4 L34.5 83.4 L34.5 82.4 L34.5 81.5 L34.5 80.5 L34.5 79.6 L34.5 78.6 L35.3 77.3 L36.7 76.4 L37.6 76.7 L37.9 76.8 L38.9 76.6 L39.9 76.0 L41.4 77.0 L42.0 76.0 L43.7 77.1 L44.6 76.4 L46.2 76.0 L47.0 76.4 L47.0 76.3 L48.0 77.8 L48.5 78.1 L49.9 78.4 L50.0 79.1 L49.5 80.4 L50.6 81.8 L50.2 83.1 L50.4 83.7 L50.9 85.3 L50.1 86.1 L50.5 87.6 L50.8 87.8 L51.2 88.5 L50.4 90.4 L50.5 91.1 L49.6 91.1 L48.6 91.1 L47.7 91.1 L46.7 91.1 L45.8 91.1 L44.9 91.1 L43.9 91.1 L43.0 91.1 L42.0 91.1 L41.1 91.1 L40.1 91.1 L39.2 91.1 L38.3 91.1 L37.3 91.1 L36.4 91.1 L35.4 91.1 Z" fill="#000"/>
<path d="M46.4 88.4h.01M50.9 85.7h.01M43.2 78.0h.01M46.1 81.2h.01M39.9 78.2h.01M36.9 81.6h.01M50.0 74.7h.01M50.9 86.7h.01M44.6 80.6h.01M36.0 88.5h.01M48.9 84.7h.01M43.9 86.0h.01M51.7 86.8h.01M45.5 86.5h.01M48.0 86.4h.01M47.4 75.7h.01M41.4 88.7h.01M45.7 83.3h.01M44.4 87.0h.01M43.2 89.3h.01M38.7 82.1h.01M48.5 84.1h.01M37.4 88.4h.01M51.0 82.0h.01M41.6 82.6h.01M50.6 79.3h.01M49.8 78.2h.01M37.9 86.9h.01M49.0 88.0h.01M44.5 84.7h.01M43.4 86.6h.01M41.5 85.3h.01M45.8 84.0h.01M46.9 86.6h.01M54.2 85.5h.01M40.0 82.3h.01M42.4 88.2h.01M40.5 85.8h.01M53.2 72.2h.01M36.0 85.1h.01M44.8 85.1h.01M40.0 87.0h.01M44.1 81.6h.01M56.6 85.6h.01M39.3 83.5h.01M41.2 83.7h.01M48.3 78.6h.01M42.1 88.4h.01M40.5 86.9h.01M48.8 71.7h.01M48.8 77.3h.01M46.5 77.1h.01M43.5 89.5h.01M41.6 84.9h.01M47.1 84.7h.01M48.6 82.6h.01M58.4 78.7h.01M47.8 82.8h.01M43.3 87.2h.01M43.8 86.9h.01M46.1 79.6h.01M36.5 77.2h.01M49.8 87.4h.01M51.0 79.7h.01M42.5 78.8h.01M48.2 83.2h.01M41.9 81.2h.01M44.8 85.9h.01M51.2 79.3h.01M50.9 83.2h.01M38.2 88.7h.01M43.2 84.6h.01M50.8 82.8h.01M44.3 81.2h.01M42.4 87.8h.01M43.0 90.1h.01M42.1 88.8h.01M38.6 88.0h.01M35.4 83.9h.01M41.4 83.9h.01M39.1 85.1h.01M52.9 84.2h.01M45.6 88.6h.01M41.4 78.2h.01M39.3 88.9h.01M48.3 87.6h.01M42.5 87.7h.01M43.5 78.6h.01M47.9 81.4h.01M37.3 80.5h.01M35.7 85.7h.01M38.8 75.1h.01M46.7 82.7h.01M44.2 81.9h.01M47.0 87.4h.01M46.4 85.5h.01M50.2 87.0h.01M45.1 74.4h.01M47.7 90.0h.01M40.8 81.8h.01M53.8 75.9h.01M37.1 87.2h.01M53.4 83.4h.01M45.8 88.2h.01M37.2 83.6h.01M44.2 87.8h.01M42.3 83.1h.01M36.6 82.3h.01M47.7 84.5h.01M37.6 80.1h.01M58.0 89.2h.01M46.2 72.1h.01M46.1 86.2h.01M52.3 86.0h.01M42.1 86.4h.01M44.4 80.8h.01M44.2 84.8h.01M40.2 79.5h.01M54.8 88.8h.01M35.6 77.8h.01M52.4 88.6h.01M53.1 87.7h.01M37.4 85.2h.01M42.2 86.4h.01M38.3 83.4h.01M45.2 85.7h.01M46.2 85.0h.01M40.6 87.6h.01M42.8 80.2h.01M38.9 84.0h.01M41.9 84.7h.01M42.5 84.8h.01M41.7 78.2h.01M44.9 88.8h.01M45.0 83.1h.01M45.1 79.6h.01M37.1 87.4h.01M36.2 71.9h.01M40.3 77.7h.01M38.1 86.4h.01M45.4 84.8h.01M51.1 87.2h.01M42.4 86.7h.01M52.1 88.5h.01M48.4 79.0h.01M41.6 87.4h.01M40.8 88.9h.01M46.0 88.2h.01M49.7 83.0h.01M40.5 88.0h.01M48.2 84.0h.01M35.7 84.9h.01M44.6 89.2h.01M47.0 84.1h.01M47.5 86.5h.01M43.7 84.3h.01M41.1 87.2h.01M36.4 81.1h.01M42.5 77.3h.01M40.0 74.8h.01M38.5 86.6h.01M45.8 83.7h.01M41.2 77.5h.01M53.1 86.4h.01M48.8 79.9h.01M41.4 75.6h.01M47.0 88.3h.01M46.2 75.9h.01M38.9 77.5h.01M42.7 85.1h.01M46.2 87.2h.01M51.2 89.4h.01M36.4 79.0h.01M42.0 84.0h.01M45.3 76.7h.01M35.3 83.9h.01M41.3 82.6h.01M42.1 80.5h.01M46.6 85.6h.01M42.0 80.9h.01M41.5 71.5h.01M36.8 84.2h.01M43.4 77.7h.01M41.0 82.6h.01M45.2 86.8h.01M42.3 80.1h.01M41.7 83.7h.01M46.8 85.4h.01M38.3 77.8h.01M40.3 80.6h.01M36.1 83.5h.01M39.7 84.5h.01M45.5 82.1h.01M56.0 82.5h.01M48.9 84.6h.01M49.0 73.1h.01M38.1 85.1h.01M44.4 89.9h.01M46.9 88.4h.01M45.5 83.3h.01M45.5 79.0h.01M49.4 79.3h.01M41.2 84.1h.01M49.2 84.1h.01M37.8 85.2h.01M45.9 87.3h.01M52.2 84.1h.01M44.1 82.0h.01M50.7 80.8h.01M46.4 81.8h.01M38.5 87.3h.01M50.2 84.0h.01M38.6 87.7h.01M42.2 85.4h.01M51.3 89.2h.01M42.5 87.6h.01M38.7 83.8h.01M50.4 78.4h.01M49.3 81.9h.01M42.1 82.6h.01M41.8 79.0h.01M42.6 77.4h.01M42.1 85.4h.01M45.2 82.9h.01M37.3 84.7h.01M47.0 83.5h.01M39.8 80.8h.01M37.1 82.4h.01M44.2 86.4h.01M38.4 84.1h.01M58.7 75.4h.01M39.5 84.8h.01M43.4 85.9h.01M41.1 85.7h.01M42.8 87.5h.01M42.5 79.3h.01M36.4 86.9h.01M38.7 86.9h.01M46.8 85.4h.01M45.4 83.5h.01M45.1 81.6h.01M41.9 87.4h.01M37.4 86.9h.01M53.3 81.4h.01M43.3 83.3h.01M51.4 85.5h.01M47.7 80.8h.01M42.4 84.0h.01M47.7 76.0h.01M46.8 83.4h.01M45.1 85.7h.01M51.2 81.4h.01M36.6 77.7h.01M35.4 85.5h.01M52.3 86.0h.01M39.5 80.9h.01M45.6 86.5h.01M36.6 78.6h.01M44.2 85.1h.01M34.9 83.1h.01M39.4 86.1h.01M41.8 83.6h.01M40.4 88.8h.01M50.6 82.3h.01M47.4 80.5h.01M42.9 87.4h.01M51.3 82.2h.01M42.1 84.9h.01M38.6 85.7h.01M35.9 74.9h.01M42.7 85.2h.01M39.3 88.1h.01M40.9 81.2h.01M45.3 76.8h.01M38.6 83.9h.01M47.4 83.3h.01M44.3 81.0h.01M38.8 84.1h.01M43.5 88.7h.01M35.3 74.3h.01M46.0 87.7h.01M43.7 85.2h.01M47.9 85.7h.01M52.1 78.3h.01M40.3 68.2h.01M47.2 82.3h.01M42.5 82.8h.01M39.6 80.1h.01M38.8 86.9h.01M42.7 84.3h.01M41.5 88.2h.01M45.4 83.3h.01M46.4 83.3h.01M35.8 90.7h.01M45.2 79.6h.01M48.8 85.6h.01M44.4 88.1h.01M43.6 83.3h.01M42.7 82.7h.01M44.5 84.4h.01M46.4 82.3h.01M42.3 74.2h.01M40.0 87.1h.01M50.3 82.3h.01M40.6 87.4h.01M52.2 84.2h.01M49.6 80.7h.01M43.7 83.6h.01M43.2 89.2h.01M56.4 80.9h.01M39.2 86.3h.01M36.4 86.3h.01M45.8 82.7h.01M45.6 76.9h.01M46.9 76.9h.01M38.5 81.4h.01M40.2 88.0h.01M43.0 82.2h.01M42.5 85.7h.01M49.7 85.2h.01M55.3 74.9h.01M42.3 85.9h.01M48.1 87.1h.01M40.9 79.2h.01M43.1 88.8h.01M36.2 79.3h.01M42.4 75.1h.01M41.0 82.0h.01M45.1 80.8h.01M37.4 82.2h.01M42.2 80.9h.01M42.6 87.5h.01M38.0 82.1h.01M38.3 83.8h.01M45.5 77.8h.01M45.2 83.9h.01M49.4 75.4h.01M47.2 85.0h.01M45.3 86.0h.01M50.1 83.0h.01M47.6 82.1h.01M46.7 80.3h.01M45.1 83.3h.01M35.9 80.4h.01M43.6 88.3h.01M45.0 86.4h.01M42.3 90.2h.01M40.2 81.5h.01M47.7 84.3h.01M40.9 81.3h.01M41.0 86.9h.01M44.6 78.4h.01M45.0 84.8h.01M36.7 87.6h.01M40.9 82.5h.01M47.1 90.1h.01M38.5 86.0h.01M39.6 89.5h.01M38.7 87.7h.01M55.4 72.3h.01M40.0 86.3h.01M42.0 80.9h.01M55.0 84.4h.01M39.1 84.7h.01M49.8 84.5h.01M49.4 87.4h.01M37.8 88.0h.01M45.4 87.0h.01M47.7 87.4h.01M47.6 72.7h.01M43.5 86.3h.01M57.3 79.6h.01M40.6 84.2h.01M47.6 82.0h.01M49.2 80.4h.01M44.0 81.6h.01M43.4 80.8h.01M44.3 81.4h.01M43.7 88.6h.01M36.8 83.5h.01M45.6 86.4h.01M40.6 74.3h.01M49.7 85.5h.01M42.6 82.7h.01M44.0 82.0h.01M36.6 80.6h.01M39.0 81.2h.01M35.8 86.9h.01M34.9 87.0h.01M36.6 85.6h.01M50.5 84.9h.01M38.3 84.2h.01M43.4 76.0h.01M39.0 84.7h.01M39.8 84.4h.01M46.8 87.5h.01M47.8 86.7h.01M40.8 83.9h.01M40.9 82.6h.01M41.5 76.1h.01M40.6 83.9h.01M36.9 83.9h.01M45.5 83.2h.01M54.5 72.0h.01M41.3 75.6h.01M45.5 82.6h.01M45.7 73.7h.01M47.4 85.7h.01M42.6 81.3h.01M46.2 81.8h.01M43.8 81.7h.01M43.7 87.5h.01M37.4 83.8h.01M46.1 84.7h.01M37.2 75.2h.01M47.8 87.7h.01M38.9 80.7h.01M47.7 79.8h.01M38.5 80.6h.01M43.8 80.6h.01M51.1 77.2h.01M40.9 77.8h.01M42.2 75.9h.01M47.1 75.5h.01M48.4 76.2h.01M45.4 78.5h.01M44.5 77.5h.01M40.1 75.4h.01M35.6 75.9h.01M45.0 76.7h.01M43.4 78.2h.01M37.2 76.1h.01M45.6 75.5h.01M35.0 76.5h.01M36.7 76.5h.01M38.7 77.2h.01M44.6 76.0h.01M45.2 76.9h.01M37.2 78.3h.01M39.0 75.9h.01M36.6 77.4h.01M49.2 77.8h.01M41.6 76.2h.01M35.2 77.4h.01M44.2 76.5h.01M45.5 76.8h.01M50.3 77.7h.01M39.1 78.2h.01M35.7 77.0h.01M41.6 76.1h.01M36.0 77.8h.01M35.2 77.1h.01M50.3 75.8h.01M38.3 77.3h.01M43.3 77.4h.01M48.3 75.9h.01M40.0 76.3h.01M35.8 78.2h.01M47.8 77.6h.01M35.1 78.0h.01M47.1 76.8h.01M47.1 76.8h.01M38.7 75.7h.01M38.8 75.5h.01M40.5 77.7h.01M46.3 78.0h.01M46.6 76.2h.01M44.0 76.8h.01M47.9 77.0h.01M39.3 77.4h.01M50.7 76.1h.01M49.3 75.4h.01M39.2 76.1h.01M47.1 78.3h.01M47.2 76.4h.01M49.3 76.4h.01M38.9 78.2h.01M45.3 77.5h.01M45.8 78.4h.01M42.7 78.0h.01M46.4 78.1h.01M42.1 77.6h.01M44.3 76.4h.01M38.5 77.3h.01M36.3 78.2h.01M37.4 75.5h.01M36.7 78.3h.01M40.6 75.8h.01M35.5 75.5h.01M46.3 77.4h.01M46.4 77.7h.01M36.1 77.2h.01M40.9 77.9h.01M48.4 78.2h.01M36.1 78.1h.01M49.9 78.3h.01M36.7 76.0h.01M36.8 75.5h.01M48.8 77.9h.01M45.3 78.0h.01M45.3 76.3h.01M36.6 75.7h.01M47.3 76.0h.01M40.2 76.7h.01M35.3 76.2h.01M39.6 77.6h.01M41.0 76.4h.01M50.7 77.0h.01M48.9 77.3h.01M35.5 76.7h.01M42.1 77.8h.01M40.7 77.6h.01M43.8 76.1h.01M49.1 75.7h.01M48.4 75.9h.01M35.0 76.0h.01M47.4 78.4h.01M35.1 76.9h.01M43.0 77.9h.01M38.0 76.9h.01M40.7 78.0h.01M39.2 78.3h.01M39.6 76.1h.01M46.4 76.9h.01M36.8 77.4h.01M36.3 77.8h.01M46.4 77.8h.01M45.2 76.5h.01M41.5 76.6h.01M49.5 75.7h.01M49.5 75.5h.01M38.4 76.2h.01M49.7 77.0h.01M41.2 78.1h.01M38.8 76.8h.01M43.7 77.7h.01M47.3 77.4h.01M40.7 76.4h.01M37.5 78.0h.01M45.8 77.7h.01M37.8 76.8h.01M47.6 77.2h.01M37.1 76.8h.01M49.4 76.1h.01M38.1 76.3h.01M46.5 78.0h.01M37.5 75.9h.01M39.0 76.4h.01M43.5 75.9h.01M40.3 76.0h.01M50.9 77.7h.01M36.7 78.4h.01M36.7 76.6h.01M51.0 77.9h.01M47.0 76.7h.01M38.2 77.4h.01M36.7 76.0h.01M41.3 75.5h.01M41.5 77.9h.01M46.3 77.0h.01M45.3 76.8h.01M37.3 77.3h.01M41.6 77.7h.01M49.8 76.7h.01M44.4 77.7h.01M41.9 76.1h.01M46.8 78.1h.01M47.6 77.6h.01M48.9 77.5h.01M45.5 76.8h.01M40.1 77.3h.01M36.6 76.7h.01M47.8 77.6h.01M45.3 76.2h.01M41.9 76.8h.01M45.1 76.7h.01M46.0 78.3h.01M38.0 77.4h.01M47.7 76.6h.01M43.0 78.4h.01M35.6 77.1h.01M37.6 77.8h.01M50.3 77.0h.01M36.6 77.2h.01M43.8 77.6h.01M43.3 77.4h.01M48.5 77.0h.01M41.7 78.3h.01M38.4 77.5h.01M41.4 77.8h.01M37.0 78.5h.01M40.8 75.6h.01M39.5 76.6h.01M35.2 76.7h.01M41.9 77.6h.01M40.7 76.2h.01M38.7 77.7h.01M50.3 77.0h.01M38.6 77.9h.01M41.4 76.1h.01M37.1 77.8h.01M48.2 77.4h.01M42.6 77.1h.01M38.7 78.4h.01M40.8 77.4h.01M48.3 77.9h.01M42.6 76.3h.01M43.9 75.8h.01M48.6 76.5h.01M48.9 76.2h.01M41.1 76.2h.01M41.9 76.0h.01M35.0 77.6h.01M39.6 76.2h.01M39.9 76.9h.01M42.0 77.4h.01M45.7 76.5h.01M50.1 78.0h.01M35.9 78.0h.01M49.8 77.8h.01M49.4 88.5h.01M51.0 77.2h.01M49.0 90.1h.01M51.0 80.5h.01M49.3 79.0h.01M49.7 87.7h.01M50.1 79.1h.01M51.8 87.9h.01M49.5 89.3h.01M50.9 87.8h.01M51.1 89.3h.01M51.4 88.6h.01M49.6 86.6h.01M50.6 87.2h.01M50.4 89.2h.01M50.7 80.7h.01M49.7 78.9h.01M50.5 77.8h.01M50.4 79.0h.01M50.5 83.9h.01M50.7 88.9h.01M49.0 88.6h.01M50.5 84.8h.01M51.1 88.6h.01M50.2 82.8h.01M52.0 78.0h.01M51.0 85.8h.01M49.1 85.4h.01M51.1 89.9h.01M50.0 90.5h.01M50.6 83.7h.01M51.8 77.5h.01M51.2 85.6h.01M50.0 88.9h.01M50.1 83.5h.01M50.6 87.6h.01M49.7 83.0h.01M50.3 84.6h.01M51.6 81.0h.01M51.6 82.6h.01M50.6 80.7h.01M50.6 90.5h.01M51.0 87.9h.01M50.0 81.4h.01M49.9 85.1h.01M51.0 87.8h.01M49.1 87.0h.01M51.7 84.5h.01M49.2 81.1h.01M49.0 79.6h.01M51.9 85.4h.01M51.0 87.9h.01M51.8 85.4h.01M50.9 85.7h.01M51.2 85.2h.01M51.1 79.9h.01M51.1 83.3h.01M51.4 78.4h.01M49.6 77.5h.01M51.4 89.6h.01M51.0 82.1h.01M51.6 87.9h.01M50.7 80.6h.01M49.9 82.8h.01M50.0 82.9h.01M51.0 89.9h.01M49.2 84.8h.01M49.1 78.6h.01M51.5 84.9h.01M51.8 83.2h.01M49.0 82.3h.01M50.8 89.9h.01M52.0 83.6h.01M50.3 78.4h.01M51.0 79.9h.01M49.5 77.2h.01M49.0 86.4h.01M49.4 90.3h.01M49.3 89.0h.01M49.4 77.2h.01M51.2 80.3h.01M51.3 79.6h.01M49.2 87.7h.01M51.2 88.8h.01M51.3 78.2h.01M50.9 86.8h.01M50.4 89.9h.01M49.8 90.3h.01M51.2 77.2h.01M49.0 86.0h.01M51.5 78.1h.01M50.0 87.1h.01M49.5 88.9h.01M50.5 77.8h.01M50.1 84.9h.01M50.4 86.3h.01M49.4 88.0h.01M50.1 85.9h.01M51.0 82.8h.01M50.2 87.9h.01M51.9 87.8h.01M50.8 81.0h.01M49.2 90.4h.01M51.2 88.4h.01M50.0 85.4h.01M52.0 88.5h.01M50.9 81.3h.01M50.3 89.3h.01M50.2 86.5h.01M50.9 89.4h.01M51.5 80.9h.01M49.0 80.6h.01M50.3 85.1h.01M51.5 89.2h.01M49.1 88.5h.01M51.5 89.0h.01M50.8 80.8h.01M51.6 88.1h.01M51.1 89.6h.01M50.1 78.2h.01M50.7 88.0h.01M49.6 87.4h.01M51.9 80.2h.01M50.9 86.4h.01M50.4 79.9h.01M49.8 87.4h.01M51.5 83.3h.01M49.3 88.1h.01M51.4 80.2h.01M50.8 89.4h.01" stroke="#000" stroke-width="0.9" stroke-linecap="square" fill="none" opacity="1.0"/>
<path d="M59.3 90.2 L58.5 89.4 L58.0 87.8 L57.9 87.8 L58.2 86.6 L58.2 85.6 L57.7 83.9 L59.2 83.5 L57.6 83.1 L58.8 81.3 L58.4 80.7 L58.5 79.2 L57.8 80.0 L59.6 78.2 L59.3 76.9 L59.9 76.3 L61.1 76.2 L61.7 75.9 L61.6 73.6 L62.5 73.6 L63.3 73.2 L65.1 74.5 L65.7 75.1 L67.3 74.1 L67.6 75.2 L66.9 77.1 L67.3 77.4 L68.1 79.0 L68.3 78.9 L68.1 79.4 L69.1 81.9 L67.8 81.2 L68.0 82.7 L69.2 84.7 L69.1 84.2 L69.1 86.4 L68.7 87.9 L67.5 87.5 L68.6 89.9 L68.3 89.8 L67.2 90.7 L65.4 89.9 L64.7 89.5 L64.2 89.6 L62.8 89.6 L62.7 89.3 L61.8 89.7 L59.6 91.0 L59.0 91.0 Z" fill="#111"/>
<path d="M68.6 74.2h.01M66.0 86.2h.01M70.4 88.6h.01M66.3 76.1h.01M60.2 83.3h.01M65.3 76.9h.01M62.0 80.0h.01M63.6 83.7h.01M62.3 75.8h.01M68.0 90.0h.01M63.0 87.1h.01M65.0 85.3h.01M65.2 78.2h.01M65.5 87.1h.01M70.8 85.7h.01M62.1 79.0h.01M60.4 82.6h.01M63.3 85.4h.01M71.8 81.9h.01M65.9 84.4h.01M64.4 81.0h.01M62.9 77.9h.01M64.1 81.9h.01M64.6 77.7h.01M63.5 82.2h.01M65.6 76.7h.01M65.0 86.9h.01M65.6 80.2h.01M61.6 80.8h.01M66.1 89.8h.01M62.8 78.8h.01M64.8 83.0h.01M60.0 78.3h.01M63.0 85.4h.01M59.0 76.9h.01M65.2 75.9h.01M63.8 83.8h.01M63.0 76.9h.01M63.2 80.3h.01M64.6 77.8h.01M67.4 73.6h.01M62.7 82.0h.01M67.0 79.0h.01M65.4 79.2h.01M61.9 84.2h.01M60.0 86.9h.01M67.9 82.2h.01M59.2 84.0h.01M67.7 87.4h.01M66.4 72.8h.01M60.9 89.1h.01M58.9 87.7h.01M70.4 85.8h.01M67.5 80.3h.01M58.9 81.5h.01M62.7 81.8h.01M66.0 81.3h.01M64.1 84.1h.01M65.0 82.4h.01M62.6 78.9h.01M68.4 82.8h.01M59.4 79.2h.01M62.9 79.8h.01M67.4 76.2h.01M65.2 82.7h.01M59.0 82.2h.01M63.1 84.5h.01M61.7 83.5h.01M57.2 76.6h.01M66.3 87.2h.01M63.4 79.0h.01M67.4 71.5h.01M60.4 85.4h.01M65.8 76.8h.01M56.4 89.3h.01M64.0 77.5h.01M63.6 86.5h.01M66.1 71.6h.01M66.3 73.1h.01M67.6 84.0h.01M71.7 78.9h.01M63.4 87.2h.01M61.0 78.5h.01M62.0 81.6h.01M59.4 84.4h.01M65.4 82.4h.01M69.7 80.4h.01M68.2 79.3h.01M66.2 72.3h.01M64.1 81.1h.01M61.6 78.9h.01M62.1 78.4h.01M61.4 79.4h.01M59.5 81.3h.01M66.3 80.7h.01M61.6 88.8h.01M67.0 86.6h.01M67.7 80.4h.01M62.9 87.6h.01M61.3 81.4h.01M64.8 83.9h.01M62.4 86.9h.01M62.7 85.6h.01M67.4 85.3h.01M66.1 76.2h.01M58.5 78.9h.01M65.2 89.5h.01M58.9 83.5h.01M60.2 78.3h.01M62.4 85.5h.01M64.2 87.9h.01M59.8 86.4h.01M66.8 82.3h.01M65.2 79.2h.01M59.4 80.0h.01M61.6 90.3h.01M64.1 83.6h.01M66.2 78.1h.01M66.8 83.9h.01M57.8 85.0h.01M65.4 84.3h.01M69.3 79.9h.01M65.3 85.7h.01M60.1 88.0h.01M58.0 75.5h.01M65.3 76.6h.01M63.0 73.8h.01M63.7 76.3h.01M64.7 74.3h.01M65.1 80.7h.01M63.6 81.7h.01M63.9 75.4h.01M59.9 79.7h.01M65.0 72.1h.01M60.6 78.9h.01M59.5 83.6h.01M62.9 77.9h.01M59.8 86.0h.01M61.0 84.9h.01M65.1 72.5h.01M59.4 82.0h.01M64.7 85.9h.01M66.4 87.2h.01M62.0 80.9h.01M66.3 79.9h.01M67.3 74.1h.01M65.8 81.1h.01M64.6 82.1h.01M59.4 79.7h.01M69.0 77.9h.01M59.0 81.3h.01M61.9 77.4h.01M60.3 87.2h.01M61.4 76.5h.01M66.3 84.8h.01M59.5 85.7h.01M56.6 77.4h.01M67.6 80.7h.01M58.6 84.6h.01M66.8 81.9h.01M56.7 80.3h.01M64.9 85.8h.01M70.3 80.7h.01M61.6 81.8h.01M67.9 77.3h.01M66.4 78.6h.01M65.1 85.4h.01M59.0 81.6h.01M64.3 84.9h.01M60.0 77.0h.01M62.7 80.9h.01M57.9 86.6h.01M61.4 89.2h.01M66.6 82.1h.01M66.1 76.4h.01M62.2 79.1h.01M58.7 82.1h.01M62.9 89.2h.01M60.0 79.7h.01M65.0 84.0h.01M63.5 79.6h.01M65.2 83.8h.01M56.6 80.7h.01M58.3 76.1h.01M63.9 82.3h.01M63.8 77.6h.01M62.7 77.4h.01M64.8 85.4h.01M69.9 88.3h.01M60.4 79.7h.01M59.9 83.5h.01M70.7 85.5h.01M58.6 84.6h.01M63.4 83.5h.01M70.0 77.9h.01M64.7 78.1h.01M63.6 87.0h.01M62.9 78.5h.01M56.9 82.9h.01M63.5 85.1h.01M61.9 84.5h.01M66.4 81.3h.01M61.7 81.1h.01M59.8 81.0h.01M62.3 83.1h.01M68.3 88.5h.01M61.8 85.0h.01M64.5 85.8h.01M63.5 83.3h.01M61.7 78.1h.01M66.6 88.5h.01M65.9 84.2h.01M64.4 79.7h.01M56.8 85.3h.01M64.1 79.2h.01M59.8 88.4h.01M60.7 81.9h.01M61.5 82.8h.01M62.6 78.3h.01M67.4 78.1h.01M61.5 84.8h.01M61.4 79.8h.01M64.7 80.2h.01M58.8 81.5h.01M59.3 86.8h.01M60.5 80.2h.01M62.2 83.4h.01M61.0 88.6h.01M67.1 86.1h.01M60.6 86.5h.01M63.0 83.8h.01M62.4 85.3h.01M67.5 87.7h.01M62.6 87.0h.01M68.8 77.3h.01M68.8 75.3h.01M65.4 85.0h.01M68.9 83.4h.01M61.6 78.0h.01M58.8 85.8h.01M62.5 78.4h.01M65.4 78.2h.01M61.8 79.7h.01M69.5 89.3h.01M62.8 74.1h.01M64.4 82.4h.01M64.7 84.8h.01M62.2 86.6h.01M66.5 83.1h.01M61.9 79.6h.01M66.0 76.5h.01M62.8 78.3h.01M58.2 85.0h.01M63.3 82.2h.01M66.6 74.5h.01M63.2 83.4h.01M66.5 76.6h.01M66.0 83.1h.01M68.4 87.7h.01M63.4 79.9h.01M62.1 77.3h.01M63.3 72.6h.01M63.1 84.1h.01M67.1 80.3h.01M68.5 78.7h.01M62.9 72.6h.01M60.6 78.0h.01M68.8 84.6h.01M59.4 84.6h.01M65.1 80.9h.01M63.5 80.5h.01M61.4 73.3h.01M63.1 88.3h.01M68.6 80.6h.01M60.7 81.0h.01M66.6 83.7h.01M61.3 83.8h.01M62.7 84.5h.01M61.9 74.8h.01M63.6 85.7h.01M59.4 81.5h.01M66.6 80.2h.01M66.4 87.0h.01M60.0 90.0h.01M57.4 79.5h.01M66.1 88.5h.01M60.1 78.8h.01M64.1 72.6h.01M65.7 84.7h.01M61.8 84.6h.01M66.2 83.5h.01M65.3 89.4h.01M61.7 82.8h.01M61.5 87.0h.01M61.9 84.3h.01M63.9 82.3h.01M69.6 81.6h.01M68.5 86.0h.01M68.1 81.2h.01M66.7 85.7h.01M61.2 83.3h.01M62.9 81.8h.01M68.1 78.5h.01M57.4 73.6h.01M61.8 78.9h.01M63.5 84.7h.01M69.7 83.5h.01M65.1 78.5h.01M65.5 88.6h.01M68.2 72.6h.01M66.6 89.6h.01M66.3 74.8h.01M62.3 84.8h.01M64.9 78.1h.01M60.2 86.7h.01M58.6 88.9h.01M63.5 83.4h.01M58.6 79.1h.01M65.9 74.9h.01M70.8 75.2h.01M59.0 82.2h.01M65.1 85.5h.01M62.1 81.0h.01M62.6 79.2h.01M64.3 82.8h.01M61.2 83.2h.01M63.4 81.6h.01M67.3 73.7h.01M64.3 76.9h.01M62.3 89.2h.01M64.0 79.7h.01M61.5 80.0h.01M66.2 87.1h.01M69.6 75.0h.01M60.9 80.1h.01M64.7 78.4h.01M59.4 73.6h.01M61.3 80.4h.01M70.6 88.6h.01M69.1 89.8h.01M70.5 83.3h.01M68.3 73.1h.01M66.3 83.1h.01M60.9 82.5h.01M70.3 80.8h.01M65.9 77.5h.01M61.5 88.2h.01M57.0 75.5h.01M66.4 80.2h.01M57.8 84.1h.01M62.0 82.6h.01M62.6 81.7h.01M64.7 79.3h.01M58.2 75.3h.01M69.4 82.0h.01M58.2 87.8h.01M60.3 73.7h.01M64.2 76.6h.01M63.6 82.1h.01M59.9 82.5h.01M58.2 81.4h.01M65.1 73.5h.01M62.5 73.3h.01M62.9 87.8h.01M64.5 85.1h.01M67.5 74.1h.01M70.9 85.2h.01M58.1 87.2h.01M62.2 75.1h.01M70.4 82.3h.01M67.8 74.5h.01M67.8 73.1h.01M60.0 78.8h.01M56.8 82.9h.01M59.7 77.5h.01M66.8 79.8h.01M69.4 83.4h.01M69.2 82.3h.01M69.8 87.9h.01M59.0 85.6h.01M61.5 86.0h.01M66.4 87.1h.01M58.4 78.8h.01M67.2 89.3h.01M67.0 72.8h.01M65.3 73.8h.01M64.5 86.7h.01M58.2 88.9h.01M66.3 76.7h.01M59.4 80.2h.01M68.7 82.6h.01M58.2 72.4h.01M58.2 86.7h.01M59.3 82.1h.01M60.8 84.6h.01M62.1 74.6h.01M69.2 81.9h.01M66.5 86.8h.01M70.3 72.3h.01M61.5 74.8h.01M63.8 88.0h.01M68.1 72.6h.01M59.2 87.0h.01M66.4 79.2h.01M63.5 74.9h.01M68.8 79.2h.01M69.2 83.2h.01M57.7 78.0h.01M59.7 88.4h.01M65.1 72.8h.01M59.0 78.6h.01M63.3 82.6h.01M62.2 78.5h.01M56.7 82.6h.01M61.4 72.4h.01M63.2 90.1h.01M57.3 74.7h.01M66.3 77.0h.01M60.5 81.2h.01M60.4 82.4h.01" stroke="#111" stroke-width="0.8" stroke-linecap="square" fill="none" opacity="1.0"/>
<path d="M50.4 83.2h.01M53.9 84.9h.01M51.5 82.4h.01M55.2 80.0h.01M52.4 80.8h.01M52.9 87.5h.01M54.3 77.2h.01M55.4 82.7h.01M53.5 80.2h.01M52.8 82.2h.01M52.3 83.7h.01M54.7 86.3h.01M52.4 85.4h.01M53.6 87.9h.01M53.2 86.8h.01M56.2 85.4h.01M52.2 86.3h.01M52.6 83.6h.01M53.8 86.3h.01M53.2 88.3h.01M53.4 80.0h.01M54.7 83.6h.01M55.1 82.5h.01M54.3 86.2h.01M50.2 79.3h.01M52.2 90.4h.01M51.2 88.5h.01M55.0 86.9h.01M54.4 83.1h.01M53.6 85.9h.01M54.1 87.7h.01M53.3 82.3h.01M52.9 86.6h.01M51.5 80.2h.01M53.1 82.9h.01M53.3 74.8h.01M53.2 84.0h.01M54.6 77.4h.01M53.2 86.8h.01M54.2 89.6h.01" stroke="#111" stroke-width="0.65" stroke-linecap="square" fill="none" opacity="1.0"/>
<path d="M49.6 69.0h.01M47.0 70.9h.01M38.0 75.9h.01M39.1 69.5h.01M40.5 69.5h.01M49.3 72.8h.01M51.8 72.9h.01M39.2 74.6h.01M38.9 70.6h.01M42.0 71.9h.01M50.5 70.2h.01M45.2 71.7h.01M35.1 68.9h.01M41.6 72.9h.01M45.0 73.1h.01M43.3 70.6h.01M45.7 69.1h.01M38.3 70.3h.01M42.7 69.6h.01M40.4 67.2h.01M43.9 69.4h.01M45.5 64.2h.01M38.0 72.5h.01M43.6 72.1h.01M43.9 69.2h.01M47.7 71.7h.01M43.1 70.6h.01M46.4 72.1h.01M50.1 73.0h.01M39.1 71.2h.01M48.8 70.8h.01M45.4 73.2h.01M41.9 65.5h.01M43.8 72.4h.01M43.9 69.7h.01M50.6 71.4h.01M39.1 69.9h.01M45.3 68.8h.01M51.2 74.7h.01M51.6 73.4h.01M50.8 73.1h.01M51.6 70.5h.01M43.8 73.9h.01M42.5 74.8h.01M43.5 73.7h.01M43.5 67.8h.01M44.8 75.4h.01M46.5 70.2h.01M43.1 66.6h.01M41.8 74.3h.01M48.2 75.4h.01M37.2 70.0h.01M35.8 75.5h.01M45.7 70.5h.01M56.8 64.9h.01M42.6 72.4h.01M57.3 72.2h.01M49.2 75.5h.01M46.2 72.8h.01M41.8 70.7h.01M40.2 66.1h.01M44.7 71.7h.01M42.3 71.1h.01M38.3 71.7h.01M40.2 72.4h.01M48.5 74.0h.01M47.5 74.0h.01M47.3 75.6h.01M49.4 75.5h.01M39.8 71.8h.01M38.4 74.4h.01M48.3 70.5h.01M50.8 68.8h.01M42.4 73.5h.01M42.8 72.9h.01M50.5 72.7h.01M36.1 73.7h.01M42.4 72.1h.01M39.4 68.0h.01M35.1 70.8h.01M55.3 59.0h.01M43.4 64.8h.01M43.1 65.2h.01M45.0 64.0h.01M48.7 63.0h.01M36.4 58.0h.01M47.7 67.8h.01M44.5 64.8h.01M49.0 64.6h.01M54.3 57.9h.01M49.7 62.4h.01M46.0 60.1h.01M43.0 59.5h.01M58.8 63.0h.01M52.7 59.7h.01M48.9 67.9h.01M47.7 59.6h.01M46.5 59.6h.01M39.2 62.2h.01M45.5 60.2h.01M42.4 59.8h.01M49.5 67.8h.01M37.8 63.9h.01M40.7 62.5h.01M48.6 64.9h.01M55.2 61.1h.01M40.1 62.4h.01M49.9 60.6h.01M67.5 71.5h.01M58.5 69.5h.01M68.0 66.2h.01M64.8 68.7h.01M58.5 70.9h.01M64.8 68.3h.01M65.7 69.9h.01M67.0 69.8h.01M65.6 67.3h.01M62.4 69.2h.01M62.5 67.5h.01M56.9 69.4h.01M64.1 68.1h.01M62.4 67.7h.01" stroke="#333" stroke-width="0.6" stroke-linecap="square" fill="none" opacity="1.0"/>
<path d="M61.2 50.9 L61.7 50.5 L62.3 49.6 L62.7 49.6 L63.1 48.6 L64.4 48.2 L64.6 47.6 L65.8 46.9 L66.1 47.2 L66.3 46.2 L67.6 45.9 L67.7 44.8 L68.4 44.6 L69.3 44.0 L69.6 43.9 L70.7 43.1 L70.9 42.8 L72.1 41.9 L72.7 43.1 L72.6 43.8 L73.1 43.8 L72.9 44.8 L72.1 45.5 L71.8 46.3 L70.2 46.8 L70.1 47.2 L69.8 47.7 L68.8 48.8 L68.1 49.0 L67.6 49.9 L67.1 50.4 L66.1 50.1 L65.8 51.3 L65.2 52.0 L63.9 52.0 L63.2 53.2 L62.6 52.9 L62.7 52.7 L61.3 52.1 Z" fill="#0a0a0a"/>
<path d="M65.7 47.0h.01M71.2 45.0h.01M64.8 50.3h.01M71.8 43.7h.01M67.9 46.3h.01M66.4 49.5h.01M74.8 41.6h.01M67.4 48.3h.01M66.9 48.6h.01M68.5 44.9h.01M64.5 49.4h.01M69.4 46.0h.01M69.3 43.9h.01M68.0 45.9h.01M67.7 47.5h.01M64.7 49.1h.01M64.5 49.9h.01M64.8 48.6h.01M67.3 46.4h.01M69.6 44.7h.01M69.5 46.0h.01M64.5 49.2h.01M64.9 48.7h.01M67.7 49.4h.01M67.2 49.5h.01M67.4 45.4h.01M62.0 52.4h.01M62.8 51.8h.01M70.0 45.7h.01M66.5 47.6h.01M67.6 46.6h.01M65.7 48.1h.01M69.6 44.6h.01M67.4 45.7h.01M64.6 47.6h.01M67.2 48.4h.01M67.6 46.4h.01M68.5 45.9h.01M68.3 46.9h.01M66.9 44.3h.01M64.5 50.6h.01M68.4 49.5h.01M66.3 47.4h.01M71.2 45.0h.01M72.1 44.2h.01M67.2 48.4h.01M65.0 48.5h.01M65.7 48.3h.01M68.8 45.5h.01M67.7 46.4h.01M67.5 43.4h.01M66.8 47.9h.01M65.3 50.3h.01M68.6 48.1h.01M70.0 46.1h.01M66.1 46.8h.01M66.4 47.4h.01M67.5 46.5h.01M73.6 40.2h.01M69.7 44.8h.01M67.2 48.6h.01M66.4 46.4h.01M68.1 46.4h.01M62.3 51.5h.01M55.9 55.4h.01M59.5 54.2h.01M59.8 57.3h.01M58.6 53.3h.01M58.7 54.1h.01M53.1 56.3h.01M57.7 58.8h.01M57.8 54.6h.01M58.3 56.5h.01M59.9 56.3h.01M61.2 55.1h.01M58.5 55.2h.01M57.5 55.1h.01M54.8 56.6h.01M56.1 55.3h.01M60.8 53.1h.01M61.3 53.7h.01M60.9 54.3h.01M58.0 56.3h.01M57.4 54.5h.01M62.4 55.1h.01M58.2 57.9h.01M59.1 52.5h.01M59.2 54.6h.01M53.4 58.8h.01M50.1 62.7h.01M55.9 59.2h.01M55.8 60.0h.01M50.7 62.0h.01M54.9 60.6h.01M54.0 60.3h.01M55.8 62.4h.01M48.0 64.6h.01M58.9 55.1h.01M49.0 64.0h.01M49.0 62.2h.01M55.5 61.7h.01M54.8 59.9h.01" stroke="#2a2a2a" stroke-width="0.6" stroke-linecap="square" fill="none" opacity="1.0"/>
<rect x="55.60" y="67.40" width="17.90" height="23.20" fill="none" stroke="#000" stroke-width="1.3"/>
<polyline points="73.5,78.5 77.9,78.5 74.3,91.6" fill="none" stroke="#000" stroke-width="1.1"/>
<line x1="74.30" y1="91.60" x2="64.60" y2="122.80" stroke="#000" stroke-width="1.5"/>
<polyline points="63.25,115.32 64.60,122.80 69.95,117.40" fill="none" stroke="#000" stroke-width="1.5"/>
<text x="79.00" y="69.20" font-size="7.1" font-weight="bold" stroke="#000" stroke-width="0.3">7.5%</text>
<text x="74.20" y="110.50" font-size="9.9" font-weight="bold" stroke="#000" stroke-width="0.3" textLength="29.40" lengthAdjust="spacingAndGlyphs">pan γδ</text>
<text transform="translate(20.60,53.60) rotate(-90)" font-size="10.8" font-weight="bold" stroke="#000" stroke-width="0.3" textLength="23.20" lengthAdjust="spacingAndGlyphs">Vδ2</text>
<path d="M133.4 91.1 L133.4 90.2 L133.4 89.3 L133.4 88.4 L133.4 87.5 L133.4 86.6 L133.4 85.7 L133.4 84.7 L133.4 83.8 L133.4 82.9 L133.4 82.0 L133.4 81.1 L133.4 80.2 L133.5 79.4 L135.0 78.6 L136.4 77.6 L136.9 77.5 L137.9 78.0 L139.0 76.6 L139.3 77.1 L141.3 75.9 L141.8 77.4 L143.2 77.3 L144.3 77.9 L145.0 78.1 L145.6 79.5 L145.3 79.8 L145.7 81.6 L146.9 81.5 L146.7 82.5 L146.9 83.6 L147.4 85.7 L148.8 86.4 L148.4 87.0 L149.0 88.6 L149.2 89.3 L148.5 90.3 L149.2 91.1 L148.3 91.1 L147.3 91.1 L146.4 91.1 L145.5 91.1 L144.6 91.1 L143.6 91.1 L142.7 91.1 L141.8 91.1 L140.8 91.1 L139.9 91.1 L139.0 91.1 L138.0 91.1 L137.1 91.1 L136.2 91.1 L135.3 91.1 L134.3 91.1 Z" fill="#000"/>
<path d="M146.5 77.8h.01M148.3 88.5h.01M139.0 86.7h.01M149.1 83.0h.01M140.8 82.0h.01M147.1 75.0h.01M148.5 80.2h.01M145.9 77.3h.01M135.9 81.9h.01M145.4 77.3h.01M144.1 81.7h.01M147.6 83.1h.01M143.5 83.7h.01M150.6 82.9h.01M141.3 87.5h.01M136.9 85.4h.01M137.4 77.8h.01M143.2 77.8h.01M150.7 81.4h.01M138.9 85.6h.01M134.8 77.3h.01M136.9 89.7h.01M146.0 77.5h.01M147.4 84.7h.01M143.6 84.7h.01M143.1 80.1h.01M136.0 81.4h.01M138.9 87.2h.01M137.5 81.9h.01M144.7 86.4h.01M139.1 79.8h.01M135.5 77.4h.01M147.1 89.3h.01M151.0 86.7h.01M142.7 87.9h.01M146.0 83.4h.01M135.7 87.8h.01M147.3 83.0h.01M144.5 84.3h.01M142.5 82.1h.01M140.8 84.5h.01M140.9 88.8h.01M146.6 88.0h.01M145.3 80.3h.01M147.4 80.3h.01M147.9 87.5h.01M135.6 89.7h.01M137.2 81.2h.01M146.4 81.5h.01M150.9 87.6h.01M138.0 79.1h.01M147.9 79.8h.01M140.9 83.3h.01M139.5 86.7h.01M152.2 81.7h.01M145.5 89.3h.01M139.4 83.8h.01M138.0 81.6h.01M141.3 80.7h.01M135.3 83.2h.01M148.9 83.6h.01M143.7 78.0h.01M138.8 77.7h.01M140.3 87.2h.01M142.3 80.4h.01M145.2 88.8h.01M143.3 82.6h.01M140.6 81.7h.01M140.2 85.9h.01M139.3 88.8h.01M154.9 82.1h.01M142.8 88.2h.01M144.4 83.4h.01M138.3 89.0h.01M144.3 86.7h.01M136.6 87.3h.01M145.2 83.7h.01M134.6 78.4h.01M139.6 86.9h.01M141.2 79.3h.01M141.0 80.8h.01M136.4 83.8h.01M137.9 81.9h.01M141.1 83.2h.01M144.3 79.2h.01M140.5 87.9h.01M147.3 87.0h.01M141.1 77.6h.01M144.6 87.0h.01M135.2 79.2h.01M141.8 79.9h.01M149.5 81.7h.01M137.9 88.4h.01M142.7 80.5h.01M134.2 83.4h.01M135.1 75.8h.01M144.3 87.6h.01M146.2 86.4h.01M137.3 79.2h.01M134.9 87.9h.01M143.5 76.0h.01M145.8 90.1h.01M141.1 79.1h.01M150.5 78.6h.01M140.4 76.0h.01M134.1 76.9h.01M146.8 89.8h.01M138.7 78.4h.01M140.6 86.2h.01M140.3 87.7h.01M141.3 86.5h.01M134.1 73.3h.01M142.6 80.4h.01M140.2 82.8h.01M143.5 81.0h.01M148.8 84.6h.01M143.8 87.3h.01M146.6 86.3h.01M151.1 86.6h.01M144.0 86.6h.01M137.4 81.5h.01M137.4 89.7h.01M143.4 79.2h.01M150.4 86.0h.01M147.4 85.5h.01M139.1 85.3h.01M134.7 79.1h.01M136.0 82.1h.01M151.0 84.3h.01M145.8 83.5h.01M143.0 84.3h.01M137.9 84.8h.01M139.3 79.6h.01M138.9 87.0h.01M137.2 86.6h.01M134.9 84.0h.01M142.3 87.9h.01M150.1 83.2h.01M152.8 81.2h.01M139.4 77.3h.01M144.4 85.7h.01M152.0 85.2h.01M139.5 78.1h.01M140.4 88.8h.01M145.0 90.1h.01M145.7 84.3h.01M144.2 85.3h.01M143.0 79.7h.01M143.0 85.8h.01M149.4 80.2h.01M142.8 86.1h.01M134.8 82.4h.01M142.0 87.9h.01M153.0 85.8h.01M137.6 73.8h.01M146.9 83.9h.01M140.3 80.0h.01M145.0 76.3h.01M141.5 85.1h.01M142.6 90.4h.01M140.4 84.9h.01M145.7 77.4h.01M139.3 84.8h.01M146.2 80.8h.01M145.4 86.3h.01M142.0 87.8h.01M145.5 82.0h.01M146.8 88.2h.01M143.5 86.7h.01M135.2 79.1h.01M139.0 85.1h.01M140.6 83.0h.01M135.3 85.4h.01M136.8 78.1h.01M138.6 79.6h.01M139.3 83.5h.01M141.6 89.1h.01M143.4 76.2h.01M134.8 78.9h.01M143.3 85.0h.01M150.9 83.3h.01M142.6 84.8h.01M148.1 81.7h.01M144.7 82.8h.01M141.5 85.2h.01M141.0 82.3h.01M149.6 83.3h.01M144.4 89.2h.01M148.7 89.5h.01M150.5 78.0h.01M151.8 84.6h.01M142.6 85.2h.01M136.4 83.4h.01M140.3 84.8h.01M140.9 83.5h.01M145.8 77.1h.01M138.1 85.1h.01M138.7 82.0h.01M138.5 85.5h.01M147.9 83.6h.01M139.4 86.1h.01M139.5 75.6h.01M142.4 82.8h.01M137.7 87.4h.01M141.1 81.9h.01M141.0 84.0h.01M143.4 85.5h.01M138.2 78.7h.01M134.8 83.9h.01M134.5 88.0h.01M139.8 76.3h.01M150.0 79.9h.01M140.6 83.4h.01M136.3 76.4h.01M140.8 88.4h.01M138.0 87.8h.01M145.9 87.3h.01M149.0 83.7h.01M149.5 81.3h.01M150.2 71.9h.01M141.0 80.8h.01M140.9 89.2h.01M144.9 84.9h.01M150.4 77.7h.01M142.7 75.0h.01M142.8 79.1h.01M149.2 89.8h.01M137.8 90.4h.01M136.2 88.7h.01M144.1 83.9h.01M135.5 73.3h.01M144.2 86.2h.01M145.2 84.8h.01M137.3 70.9h.01M143.6 88.9h.01M137.6 78.0h.01M140.7 76.8h.01M140.9 88.0h.01M149.4 85.7h.01M142.0 87.9h.01M148.7 83.0h.01M134.0 80.9h.01M133.9 80.4h.01M140.2 86.1h.01M141.8 84.8h.01M138.9 86.4h.01M145.9 88.0h.01M149.3 83.2h.01M142.0 86.4h.01M139.0 89.0h.01M138.6 79.9h.01M140.6 82.5h.01M145.6 82.8h.01M141.6 83.5h.01M142.8 81.6h.01M147.1 78.0h.01M138.7 81.2h.01M144.5 84.7h.01M143.6 83.0h.01M136.9 79.4h.01M139.0 82.0h.01M142.5 86.1h.01M146.4 84.0h.01M136.7 79.6h.01M141.2 86.2h.01M151.8 85.3h.01M135.0 90.1h.01M147.3 90.7h.01M140.8 88.9h.01M138.2 84.2h.01M139.7 88.9h.01M141.3 81.2h.01M142.3 87.5h.01M136.9 87.4h.01M136.9 80.5h.01M142.1 83.4h.01M135.4 77.0h.01M141.0 85.6h.01M138.3 85.4h.01M143.2 85.8h.01M137.5 84.9h.01M141.6 89.4h.01M142.4 85.7h.01M136.8 88.5h.01M147.5 82.2h.01M144.5 85.9h.01M140.6 78.6h.01M150.7 75.9h.01M142.6 82.8h.01M147.3 82.6h.01M141.1 87.3h.01M143.5 82.1h.01M144.7 86.3h.01M146.4 82.2h.01M140.6 82.7h.01M136.2 85.7h.01M139.1 86.3h.01M147.3 84.0h.01M141.3 85.1h.01M137.0 80.0h.01M147.1 85.3h.01M140.5 78.8h.01M141.6 89.9h.01M134.5 80.4h.01M149.6 82.0h.01M144.2 81.1h.01M143.8 82.8h.01M142.0 90.6h.01M142.8 83.4h.01M141.2 85.7h.01M138.0 85.4h.01M134.0 88.5h.01M154.5 85.4h.01M141.6 89.7h.01M138.1 82.3h.01M142.8 81.8h.01M147.1 84.5h.01M138.4 88.7h.01M136.3 90.2h.01M146.3 85.1h.01M148.6 84.5h.01M140.6 89.6h.01M143.6 87.1h.01M142.7 86.5h.01M142.4 83.5h.01M141.2 87.3h.01M135.6 81.9h.01M135.0 76.7h.01M145.2 83.5h.01M146.3 82.8h.01M152.7 87.8h.01M141.7 85.0h.01M139.8 88.2h.01M152.0 82.6h.01M134.9 87.2h.01M146.8 77.7h.01M137.1 80.0h.01M144.0 86.8h.01M136.8 79.4h.01M144.7 75.2h.01M144.5 83.8h.01M151.5 89.0h.01M137.7 83.3h.01M139.4 81.2h.01M141.4 88.9h.01M149.1 87.9h.01M136.4 80.8h.01M136.2 77.2h.01M147.2 84.8h.01M137.1 78.0h.01M138.8 82.2h.01M150.4 82.4h.01M141.5 89.4h.01M144.6 83.7h.01M144.2 82.5h.01M140.4 80.2h.01M135.9 77.8h.01M143.7 86.8h.01M141.9 88.0h.01M143.9 85.1h.01M136.0 87.2h.01M147.4 87.4h.01M147.8 82.4h.01M135.5 90.2h.01M137.7 85.6h.01M139.9 84.6h.01M139.4 82.1h.01M142.0 75.8h.01M135.9 79.4h.01M136.8 73.0h.01M139.5 87.9h.01M144.2 78.9h.01M147.6 76.9h.01M137.7 82.9h.01M147.8 85.0h.01M140.2 80.9h.01M141.4 84.7h.01M144.9 90.8h.01M144.9 84.6h.01M142.0 84.4h.01M144.0 84.0h.01M137.4 89.3h.01M138.4 88.8h.01M136.6 85.0h.01M143.1 85.2h.01M142.2 86.2h.01M134.7 79.5h.01M140.2 80.3h.01M137.3 84.7h.01M147.4 82.0h.01M144.0 85.3h.01M139.0 80.3h.01M140.1 81.3h.01M143.8 76.6h.01M147.1 87.9h.01M144.2 76.8h.01M141.2 86.5h.01M137.2 79.4h.01M143.3 86.8h.01M138.6 83.4h.01M138.1 82.0h.01M140.6 89.3h.01M149.7 85.9h.01M141.7 88.3h.01M135.4 79.1h.01M142.3 88.3h.01M138.6 81.5h.01M143.1 87.3h.01M142.3 76.0h.01M137.9 73.1h.01M142.2 80.7h.01M148.1 86.7h.01M142.4 85.3h.01M137.7 84.3h.01M151.3 80.6h.01M137.3 85.2h.01M145.8 88.2h.01M135.6 83.9h.01M139.5 79.0h.01M141.3 82.3h.01M134.7 77.5h.01M139.5 77.0h.01M141.6 76.9h.01M137.6 77.9h.01M142.1 79.1h.01M138.2 77.8h.01M144.6 79.7h.01M141.0 76.4h.01M139.1 78.5h.01M137.1 76.1h.01M145.2 79.6h.01M135.4 77.9h.01M141.0 77.2h.01M134.7 79.0h.01M142.8 77.7h.01M134.9 77.6h.01M135.0 79.9h.01M134.5 77.2h.01M142.7 76.5h.01M135.1 76.3h.01M135.8 78.1h.01M143.5 76.7h.01M135.9 79.1h.01M138.8 77.4h.01M135.3 77.0h.01M145.1 76.5h.01M136.9 79.0h.01M144.2 79.6h.01M139.3 79.8h.01M140.8 77.2h.01M139.3 78.9h.01M142.3 76.5h.01M136.1 79.8h.01M135.1 79.3h.01M137.8 77.0h.01M136.8 77.9h.01M145.3 76.6h.01M143.7 77.3h.01M135.9 79.0h.01M137.8 76.8h.01M138.7 79.3h.01M143.8 78.3h.01M134.0 79.1h.01M140.9 79.6h.01M144.8 77.3h.01M143.7 79.3h.01M137.0 77.5h.01M138.2 77.4h.01M138.2 76.4h.01M136.5 79.6h.01M138.6 78.5h.01M144.1 79.0h.01M136.7 79.7h.01M143.1 80.0h.01M142.3 79.0h.01M143.2 77.0h.01M141.4 77.5h.01M143.6 76.5h.01M140.1 77.3h.01M143.3 77.4h.01M143.6 79.4h.01M144.0 76.6h.01M144.7 79.0h.01M141.7 78.6h.01M134.5 79.5h.01M140.2 77.8h.01M137.8 79.1h.01M142.9 79.5h.01M136.4 77.4h.01M136.8 76.4h.01M137.7 76.1h.01M143.1 76.9h.01M134.7 76.3h.01M142.4 76.8h.01M139.2 77.6h.01M143.1 79.8h.01M137.5 78.5h.01M144.2 77.9h.01M144.2 78.9h.01M137.5 79.5h.01M140.5 76.4h.01M140.7 79.3h.01M139.9 77.9h.01M138.7 79.5h.01M141.6 76.8h.01M138.1 77.5h.01M144.9 78.8h.01M135.3 79.7h.01M134.3 78.4h.01M138.9 78.9h.01M138.8 76.4h.01M139.9 79.3h.01M143.0 77.4h.01M136.5 79.0h.01M143.1 76.9h.01M144.1 80.0h.01M138.9 77.5h.01M142.1 79.7h.01M136.2 77.2h.01M137.7 78.9h.01M136.0 78.2h.01M139.7 78.7h.01M135.5 79.8h.01M145.4 78.2h.01M143.0 76.7h.01M144.4 78.2h.01M142.6 79.5h.01M138.1 79.7h.01M136.3 76.1h.01M139.7 79.6h.01M144.3 79.8h.01M139.8 79.7h.01M140.3 76.6h.01M141.2 79.2h.01M138.8 78.4h.01M136.9 77.1h.01M138.7 78.1h.01M139.3 76.4h.01M134.0 77.4h.01M142.1 79.0h.01M136.6 77.0h.01M139.8 76.7h.01M140.8 79.6h.01M136.2 78.3h.01M142.2 79.0h.01M142.1 78.8h.01M137.0 79.4h.01M144.5 76.2h.01M144.8 77.8h.01M134.9 76.3h.01M149.4 86.7h.01M144.5 83.9h.01M148.2 90.8h.01M145.9 87.8h.01M145.2 80.5h.01M144.6 83.2h.01M148.0 81.9h.01M144.6 80.8h.01M144.0 80.5h.01M145.8 84.5h.01M144.8 84.1h.01M146.7 90.5h.01M147.0 90.1h.01M146.9 80.5h.01M147.8 79.9h.01M144.7 78.9h.01M148.7 90.4h.01M146.4 82.5h.01M146.6 82.5h.01M148.6 83.0h.01M144.5 89.1h.01M147.7 78.1h.01M149.8 87.3h.01M146.1 86.1h.01M150.3 83.1h.01M146.6 81.8h.01M147.6 86.5h.01M148.9 90.2h.01M144.5 82.7h.01M149.8 88.1h.01M147.8 86.7h.01M146.0 90.1h.01M147.5 83.2h.01M144.8 79.5h.01M150.1 88.2h.01M143.6 82.1h.01M147.0 84.3h.01M146.1 89.5h.01M146.0 84.8h.01M150.4 86.2h.01M147.0 82.3h.01M146.3 85.8h.01M149.3 81.3h.01M146.2 83.0h.01M146.1 89.7h.01M147.4 81.5h.01M145.9 88.5h.01M144.6 86.8h.01M143.6 80.5h.01M143.8 88.3h.01M144.5 80.9h.01M143.8 81.4h.01M148.9 87.2h.01M150.2 90.1h.01M147.5 89.8h.01M144.1 89.8h.01M146.7 80.5h.01M149.0 89.0h.01M146.3 79.2h.01M149.9 87.6h.01M147.9 90.5h.01M143.7 78.7h.01M144.3 78.3h.01M148.7 86.1h.01M144.2 80.1h.01M144.8 85.8h.01M148.4 90.4h.01M146.1 90.5h.01M146.7 83.0h.01M145.3 81.0h.01M150.7 90.7h.01M148.7 80.2h.01M144.7 79.9h.01M146.0 87.4h.01M143.8 84.8h.01M148.5 78.4h.01M146.7 88.1h.01M147.7 83.8h.01M150.0 85.7h.01M145.9 83.1h.01M150.5 89.0h.01M150.3 85.2h.01M144.5 80.2h.01M146.3 86.8h.01M143.4 88.3h.01M149.3 84.6h.01M143.4 88.2h.01M146.5 86.6h.01M147.7 87.3h.01M146.5 90.3h.01M150.6 89.9h.01M148.0 82.0h.01M146.2 81.4h.01M150.2 88.1h.01M149.3 88.5h.01M150.8 86.8h.01M145.8 87.7h.01M145.4 85.8h.01M144.6 89.0h.01M147.1 81.5h.01M150.3 79.1h.01M150.4 87.7h.01M144.5 87.7h.01M147.7 89.6h.01M147.8 83.5h.01M150.4 79.1h.01M149.2 79.3h.01M145.5 79.5h.01M149.9 83.7h.01M148.8 81.3h.01M148.9 86.3h.01M144.1 84.3h.01M148.8 80.7h.01M148.3 81.6h.01M146.2 89.8h.01M150.5 90.8h.01M146.6 85.3h.01M149.5 87.7h.01M146.8 89.1h.01M146.4 90.2h.01M146.9 79.5h.01M149.0 79.9h.01M148.5 78.7h.01M150.8 84.9h.01M149.0 79.7h.01M148.2 82.8h.01M145.3 88.4h.01M143.6 84.1h.01M144.1 88.9h.01M150.1 78.4h.01M146.9 84.0h.01M148.8 87.3h.01M146.0 89.9h.01M144.8 79.7h.01M149.5 79.5h.01M144.8 84.4h.01M145.9 80.1h.01M150.4 84.1h.01M149.3 81.2h.01M150.2 80.8h.01M150.2 85.8h.01M150.7 87.9h.01M148.1 84.8h.01M149.8 83.7h.01M144.1 89.7h.01M149.4 86.7h.01M149.0 81.0h.01M146.9 88.5h.01M150.6 89.8h.01M144.6 86.8h.01" stroke="#000" stroke-width="0.9" stroke-linecap="square" fill="none" opacity="1.0"/>
<path d="M137.2 69.0h.01M143.3 72.6h.01M136.3 71.5h.01M141.5 74.7h.01M134.0 68.0h.01M139.5 69.1h.01M145.6 67.7h.01M146.2 75.0h.01M146.8 69.6h.01M137.9 69.4h.01M145.3 71.0h.01M144.9 73.0h.01M137.6 66.4h.01M149.2 68.4h.01M137.8 66.4h.01M146.8 65.5h.01M137.6 75.1h.01M142.6 70.7h.01M138.8 69.5h.01M139.5 70.4h.01M145.9 64.9h.01M137.4 61.3h.01M149.5 70.2h.01M141.9 70.2h.01M147.0 71.9h.01M146.3 69.8h.01M141.4 70.3h.01M134.1 66.1h.01M145.4 70.7h.01M146.1 78.0h.01M151.3 76.6h.01M137.6 70.1h.01M147.0 69.6h.01M141.4 68.9h.01M148.4 75.2h.01M141.6 73.0h.01M137.2 75.4h.01M149.0 70.3h.01M140.3 68.4h.01M141.1 65.0h.01M135.2 77.8h.01M141.9 72.9h.01M143.6 72.6h.01M134.4 66.3h.01M145.2 74.9h.01M136.3 68.0h.01M136.7 73.4h.01M143.7 70.6h.01M138.8 72.0h.01M142.2 67.2h.01M143.7 67.6h.01M146.8 73.3h.01M138.6 73.1h.01M142.3 67.4h.01M137.4 63.2h.01M136.3 72.0h.01M148.0 67.7h.01M142.8 72.0h.01M145.9 72.4h.01M148.1 73.9h.01M138.2 72.2h.01M142.1 73.0h.01M140.5 74.2h.01M148.6 66.8h.01M139.3 71.6h.01M144.5 71.1h.01M146.2 65.3h.01M145.9 75.6h.01M147.6 72.4h.01M140.8 72.3h.01M141.6 63.5h.01M139.0 70.3h.01M139.4 66.4h.01M140.8 68.9h.01M142.3 70.3h.01M142.9 74.9h.01M142.7 72.3h.01M140.0 73.5h.01M140.3 67.8h.01M135.8 74.4h.01M139.4 71.6h.01M147.7 72.9h.01M146.8 73.6h.01M138.7 70.7h.01M139.2 66.0h.01M148.3 57.7h.01M154.6 57.8h.01M144.6 60.3h.01M144.7 60.2h.01M144.3 55.7h.01M136.1 56.1h.01M153.8 61.3h.01M147.7 58.6h.01M146.3 60.9h.01M140.7 57.6h.01M143.0 63.8h.01M142.2 63.5h.01M146.6 60.1h.01M153.1 62.6h.01M151.2 56.8h.01M152.1 65.0h.01M146.5 58.5h.01M142.1 63.1h.01M148.3 60.0h.01M141.4 64.9h.01M150.9 59.9h.01M153.6 57.1h.01M151.0 57.0h.01M153.3 59.2h.01M152.5 58.8h.01M148.8 63.4h.01" stroke="#444" stroke-width="0.55" stroke-linecap="square" fill="none" opacity="1.0"/>
<path d="M158.5 82.4h.01M158.7 85.7h.01M159.4 80.4h.01M160.6 87.1h.01M158.1 81.9h.01M160.2 79.6h.01M158.8 81.3h.01M161.8 75.2h.01M161.9 76.8h.01M158.3 81.7h.01M160.4 86.3h.01M159.8 74.1h.01M156.4 82.8h.01M162.0 86.7h.01M159.6 84.9h.01M158.0 87.7h.01M161.0 79.0h.01M161.7 89.7h.01M158.7 76.5h.01M158.2 76.9h.01M161.0 83.5h.01M160.7 82.9h.01M164.8 80.7h.01M161.9 79.0h.01M160.5 83.8h.01M162.6 75.1h.01M158.3 82.3h.01M160.8 87.0h.01M164.7 74.8h.01M158.3 83.7h.01M161.9 84.4h.01M162.8 78.8h.01M165.0 74.6h.01M159.4 83.3h.01M161.6 77.8h.01M165.9 88.5h.01M158.4 83.6h.01M159.3 80.1h.01M164.2 82.6h.01M160.9 82.5h.01M157.7 87.4h.01M158.9 87.8h.01M159.8 80.0h.01M165.7 82.8h.01M159.3 79.6h.01M163.0 80.3h.01" stroke="#666" stroke-width="0.5" stroke-linecap="square" fill="none" opacity="1.0"/>
<path d="M155.7 50.7 L156.1 49.7 L156.9 49.8 L157.8 49.2 L158.1 48.4 L159.0 48.1 L159.7 48.2 L160.2 47.8 L161.0 47.2 L161.8 46.4 L162.6 45.4 L163.7 45.8 L163.9 45.3 L164.8 45.0 L165.1 44.0 L166.0 43.8 L167.3 43.5 L167.6 44.1 L168.5 44.8 L167.3 46.0 L166.7 46.7 L165.7 46.7 L165.1 46.7 L164.3 47.3 L163.9 48.1 L163.3 48.5 L162.8 49.2 L162.4 49.3 L161.2 50.0 L160.3 50.8 L159.4 51.3 L158.8 51.2 L158.4 51.8 L157.3 51.8 L157.3 52.5 L155.8 51.8 Z" fill="#151515"/>
<path d="M159.7 48.8h.01M160.5 50.5h.01M161.0 49.2h.01M164.2 46.0h.01M160.9 48.6h.01M159.4 47.7h.01M159.7 49.4h.01M163.4 48.8h.01M157.6 50.8h.01M159.6 50.4h.01M163.8 46.6h.01M165.6 45.0h.01M160.1 47.5h.01M160.4 48.7h.01M164.4 47.7h.01M160.9 47.4h.01M160.9 47.7h.01M160.6 48.0h.01M159.7 48.9h.01M160.6 48.2h.01M158.5 49.8h.01M163.8 47.3h.01M160.0 47.5h.01M158.1 48.6h.01M160.2 48.3h.01M157.8 50.9h.01M157.7 49.4h.01M160.6 49.4h.01M166.5 44.5h.01M161.1 47.7h.01M161.4 47.8h.01M167.7 42.9h.01M161.3 47.1h.01M162.6 46.6h.01M162.9 45.8h.01M167.5 44.6h.01M157.9 50.9h.01M160.2 47.3h.01M162.9 46.5h.01M163.6 46.0h.01M164.4 46.3h.01M163.0 47.2h.01M160.9 47.9h.01M163.5 47.5h.01M162.1 50.1h.01M165.7 44.0h.01M164.7 45.9h.01M162.2 46.6h.01M165.8 44.4h.01M161.4 47.1h.01M167.6 45.7h.01M158.4 49.2h.01M162.7 46.7h.01M160.6 47.2h.01M162.1 46.3h.01M165.3 48.4h.01M162.0 49.5h.01M162.6 46.5h.01M160.6 47.3h.01M162.6 48.0h.01M154.3 51.7h.01M150.0 55.1h.01M156.4 51.3h.01M150.6 50.8h.01M152.2 54.7h.01M151.9 56.5h.01M150.6 53.1h.01M151.3 54.1h.01M154.2 51.2h.01M148.8 56.0h.01M155.1 54.6h.01M151.6 57.0h.01M154.4 53.0h.01M150.2 53.4h.01M151.5 56.0h.01M154.0 54.4h.01M151.5 55.0h.01M150.1 60.6h.01M145.0 59.6h.01M146.9 58.1h.01M147.3 56.6h.01M148.7 54.2h.01M144.5 57.1h.01M146.0 61.1h.01M149.0 56.7h.01M150.3 57.4h.01" stroke="#3a3a3a" stroke-width="0.55" stroke-linecap="square" fill="none" opacity="1.0"/>
<rect x="153.40" y="72.10" width="15.10" height="18.80" fill="none" stroke="#000" stroke-width="1.4"/>
<polyline points="168.5,78.5 173.4,78.5 170.2,91.6" fill="none" stroke="#000" stroke-width="1.1"/>
<line x1="170.20" y1="91.60" x2="161.00" y2="122.80" stroke="#000" stroke-width="1.5"/>
<polyline points="159.54,115.34 161.00,122.80 166.27,117.33" fill="none" stroke="#000" stroke-width="1.5"/>
<text x="178.80" y="69.20" font-size="7.1" font-weight="bold" stroke="#000" stroke-width="0.3">0.4%</text>
<text x="173.40" y="110.50" font-size="9.9" font-weight="bold" stroke="#000" stroke-width="0.3" textLength="29.40" lengthAdjust="spacingAndGlyphs">pan γδ</text>
<text transform="translate(120.40,53.60) rotate(-90)" font-size="10.8" font-weight="bold" stroke="#000" stroke-width="0.3" textLength="22.40" lengthAdjust="spacingAndGlyphs">Vδ2</text>
<line x1="207.50" y1="62.70" x2="225.60" y2="62.70" stroke="#000" stroke-width="1.3"/>
<polyline points="219.00,58.30 225.60,62.70 219.00,67.10" fill="none" stroke="#000" stroke-width="1.3"/>
<rect x="33.50" y="128.80" width="70.70" height="61.20" fill="none" stroke="#777" stroke-width="1.0"/>
<line x1="33.50" y1="128.80" x2="33.50" y2="190.50" stroke="#111" stroke-width="1.3"/>
<line x1="33.50" y1="190.00" x2="104.20" y2="190.00" stroke="#333" stroke-width="1.1"/>
<line x1="56.80" y1="128.80" x2="56.80" y2="190.00" stroke="#111" stroke-width="1.2"/>
<line x1="33.50" y1="164.80" x2="104.20" y2="164.80" stroke="#111" stroke-width="1.1"/>
<line x1="38.30" y1="190.00" x2="38.30" y2="193.40" stroke="#000" stroke-width="0.85"/>
<line x1="48.60" y1="190.00" x2="48.60" y2="193.40" stroke="#000" stroke-width="0.85"/>
<line x1="65.00" y1="190.00" x2="65.00" y2="193.40" stroke="#000" stroke-width="0.85"/>
<line x1="80.40" y1="190.00" x2="80.40" y2="193.40" stroke="#000" stroke-width="0.85"/>
<line x1="97.00" y1="190.00" x2="97.00" y2="193.40" stroke="#000" stroke-width="0.85"/>
<line x1="53.54" y1="190.00" x2="53.54" y2="192.00" stroke="#000" stroke-width="0.85"/>
<line x1="56.42" y1="190.00" x2="56.42" y2="192.00" stroke="#000" stroke-width="0.85"/>
<line x1="58.47" y1="190.00" x2="58.47" y2="192.00" stroke="#000" stroke-width="0.85"/>
<line x1="60.06" y1="190.00" x2="60.06" y2="192.00" stroke="#000" stroke-width="0.85"/>
<line x1="61.36" y1="190.00" x2="61.36" y2="192.00" stroke="#000" stroke-width="0.85"/>
<line x1="62.46" y1="190.00" x2="62.46" y2="192.00" stroke="#000" stroke-width="0.85"/>
<line x1="63.41" y1="190.00" x2="63.41" y2="192.00" stroke="#000" stroke-width="0.85"/>
<line x1="64.25" y1="190.00" x2="64.25" y2="192.00" stroke="#000" stroke-width="0.85"/>
<line x1="69.64" y1="190.00" x2="69.64" y2="192.00" stroke="#000" stroke-width="0.85"/>
<line x1="72.35" y1="190.00" x2="72.35" y2="192.00" stroke="#000" stroke-width="0.85"/>
<line x1="74.27" y1="190.00" x2="74.27" y2="192.00" stroke="#000" stroke-width="0.85"/>
<line x1="75.76" y1="190.00" x2="75.76" y2="192.00" stroke="#000" stroke-width="0.85"/>
<line x1="76.98" y1="190.00" x2="76.98" y2="192.00" stroke="#000" stroke-width="0.85"/>
<line x1="78.01" y1="190.00" x2="78.01" y2="192.00" stroke="#000" stroke-width="0.85"/>
<line x1="78.91" y1="190.00" x2="78.91" y2="192.00" stroke="#000" stroke-width="0.85"/>
<line x1="79.70" y1="190.00" x2="79.70" y2="192.00" stroke="#000" stroke-width="0.85"/>
<line x1="85.40" y1="190.00" x2="85.40" y2="192.00" stroke="#000" stroke-width="0.85"/>
<line x1="88.32" y1="190.00" x2="88.32" y2="192.00" stroke="#000" stroke-width="0.85"/>
<line x1="90.39" y1="190.00" x2="90.39" y2="192.00" stroke="#000" stroke-width="0.85"/>
<line x1="92.00" y1="190.00" x2="92.00" y2="192.00" stroke="#000" stroke-width="0.85"/>
<line x1="93.32" y1="190.00" x2="93.32" y2="192.00" stroke="#000" stroke-width="0.85"/>
<line x1="94.43" y1="190.00" x2="94.43" y2="192.00" stroke="#000" stroke-width="0.85"/>
<line x1="95.39" y1="190.00" x2="95.39" y2="192.00" stroke="#000" stroke-width="0.85"/>
<line x1="96.24" y1="190.00" x2="96.24" y2="192.00" stroke="#000" stroke-width="0.85"/>
<line x1="39.59" y1="190.00" x2="39.59" y2="192.00" stroke="#000" stroke-width="0.85"/>
<line x1="40.88" y1="190.00" x2="40.88" y2="192.00" stroke="#000" stroke-width="0.85"/>
<line x1="42.16" y1="190.00" x2="42.16" y2="192.00" stroke="#000" stroke-width="0.85"/>
<line x1="43.45" y1="190.00" x2="43.45" y2="192.00" stroke="#000" stroke-width="0.85"/>
<line x1="44.74" y1="190.00" x2="44.74" y2="192.00" stroke="#000" stroke-width="0.85"/>
<line x1="46.02" y1="190.00" x2="46.02" y2="192.00" stroke="#000" stroke-width="0.85"/>
<line x1="47.31" y1="190.00" x2="47.31" y2="192.00" stroke="#000" stroke-width="0.85"/>
<line x1="36.90" y1="190.00" x2="36.90" y2="192.00" stroke="#000" stroke-width="0.85"/>
<line x1="35.50" y1="190.00" x2="35.50" y2="192.00" stroke="#000" stroke-width="0.85"/>
<line x1="34.10" y1="190.00" x2="34.10" y2="192.00" stroke="#000" stroke-width="0.85"/>
<text x="38.30" y="198.40" font-size="4.6" fill="#333" text-anchor="middle">0</text>
<text x="34.10" y="198.60" font-size="4.0" fill="#777" text-anchor="middle">-</text>
<text x="49.10" y="198.40" font-size="4.6" fill="#333" text-anchor="middle">10<tspan font-size="2.8" dy="-1.6">2</tspan></text>
<text x="65.50" y="198.40" font-size="4.6" fill="#333" text-anchor="middle">10<tspan font-size="2.8" dy="-1.6">3</tspan></text>
<text x="80.90" y="198.40" font-size="4.6" fill="#333" text-anchor="middle">10<tspan font-size="2.8" dy="-1.6">4</tspan></text>
<text x="97.50" y="198.40" font-size="4.6" fill="#333" text-anchor="middle">10<tspan font-size="2.8" dy="-1.6">5</tspan></text>
<line x1="30.50" y1="188.50" x2="33.50" y2="188.50" stroke="#000" stroke-width="0.85"/>
<line x1="29.10" y1="178.50" x2="33.50" y2="178.50" stroke="#000" stroke-width="0.85"/>
<line x1="29.10" y1="165.00" x2="33.50" y2="165.00" stroke="#000" stroke-width="0.85"/>
<line x1="29.10" y1="150.30" x2="33.50" y2="150.30" stroke="#000" stroke-width="0.85"/>
<line x1="29.10" y1="135.00" x2="33.50" y2="135.00" stroke="#000" stroke-width="0.85"/>
<line x1="31.50" y1="174.44" x2="33.50" y2="174.44" stroke="#000" stroke-width="0.85"/>
<line x1="31.50" y1="172.06" x2="33.50" y2="172.06" stroke="#000" stroke-width="0.85"/>
<line x1="31.50" y1="170.37" x2="33.50" y2="170.37" stroke="#000" stroke-width="0.85"/>
<line x1="31.50" y1="169.06" x2="33.50" y2="169.06" stroke="#000" stroke-width="0.85"/>
<line x1="31.50" y1="167.99" x2="33.50" y2="167.99" stroke="#000" stroke-width="0.85"/>
<line x1="31.50" y1="167.09" x2="33.50" y2="167.09" stroke="#000" stroke-width="0.85"/>
<line x1="31.50" y1="166.31" x2="33.50" y2="166.31" stroke="#000" stroke-width="0.85"/>
<line x1="31.50" y1="165.62" x2="33.50" y2="165.62" stroke="#000" stroke-width="0.85"/>
<line x1="31.50" y1="160.57" x2="33.50" y2="160.57" stroke="#000" stroke-width="0.85"/>
<line x1="31.50" y1="157.99" x2="33.50" y2="157.99" stroke="#000" stroke-width="0.85"/>
<line x1="31.50" y1="156.15" x2="33.50" y2="156.15" stroke="#000" stroke-width="0.85"/>
<line x1="31.50" y1="154.73" x2="33.50" y2="154.73" stroke="#000" stroke-width="0.85"/>
<line x1="31.50" y1="153.56" x2="33.50" y2="153.56" stroke="#000" stroke-width="0.85"/>
<line x1="31.50" y1="152.58" x2="33.50" y2="152.58" stroke="#000" stroke-width="0.85"/>
<line x1="31.50" y1="151.72" x2="33.50" y2="151.72" stroke="#000" stroke-width="0.85"/>
<line x1="31.50" y1="150.97" x2="33.50" y2="150.97" stroke="#000" stroke-width="0.85"/>
<line x1="31.50" y1="145.69" x2="33.50" y2="145.69" stroke="#000" stroke-width="0.85"/>
<line x1="31.50" y1="143.00" x2="33.50" y2="143.00" stroke="#000" stroke-width="0.85"/>
<line x1="31.50" y1="141.09" x2="33.50" y2="141.09" stroke="#000" stroke-width="0.85"/>
<line x1="31.50" y1="139.61" x2="33.50" y2="139.61" stroke="#000" stroke-width="0.85"/>
<line x1="31.50" y1="138.39" x2="33.50" y2="138.39" stroke="#000" stroke-width="0.85"/>
<line x1="31.50" y1="137.37" x2="33.50" y2="137.37" stroke="#000" stroke-width="0.85"/>
<line x1="31.50" y1="136.48" x2="33.50" y2="136.48" stroke="#000" stroke-width="0.85"/>
<line x1="31.50" y1="135.70" x2="33.50" y2="135.70" stroke="#000" stroke-width="0.85"/>
<line x1="31.50" y1="187.25" x2="33.50" y2="187.25" stroke="#000" stroke-width="0.85"/>
<line x1="31.50" y1="186.00" x2="33.50" y2="186.00" stroke="#000" stroke-width="0.85"/>
<line x1="31.50" y1="184.75" x2="33.50" y2="184.75" stroke="#000" stroke-width="0.85"/>
<line x1="31.50" y1="183.50" x2="33.50" y2="183.50" stroke="#000" stroke-width="0.85"/>
<line x1="31.50" y1="182.25" x2="33.50" y2="182.25" stroke="#000" stroke-width="0.85"/>
<line x1="31.50" y1="181.00" x2="33.50" y2="181.00" stroke="#000" stroke-width="0.85"/>
<line x1="31.50" y1="179.75" x2="33.50" y2="179.75" stroke="#000" stroke-width="0.85"/>
<text transform="translate(25.90,177.90) rotate(-55)" font-size="4.6" fill="#333" text-anchor="middle">10<tspan font-size="2.8" dy="-1.6">2</tspan></text>
<text transform="translate(25.90,164.40) rotate(-55)" font-size="4.6" fill="#333" text-anchor="middle">10<tspan font-size="2.8" dy="-1.6">3</tspan></text>
<text transform="translate(25.90,149.70) rotate(-55)" font-size="4.6" fill="#333" text-anchor="middle">10<tspan font-size="2.8" dy="-1.6">4</tspan></text>
<text transform="translate(25.90,134.40) rotate(-55)" font-size="4.6" fill="#333" text-anchor="middle">10<tspan font-size="2.8" dy="-1.6">5</tspan></text>
<text transform="translate(24.90,190.50) rotate(-90)" font-size="3.6" fill="#999" text-anchor="middle">-67</text>
<path d="M41.8 158.5 L41.5 158.5 L41.8 156.5 L41.7 156.1 L41.8 155.0 L42.9 154.2 L43.4 154.0 L43.3 153.4 L44.9 152.0 L47.0 152.5 L47.5 152.5 L48.6 153.1 L49.3 153.4 L49.3 155.0 L49.2 155.7 L49.0 156.9 L50.1 157.1 L49.7 158.9 L48.8 160.1 L49.7 160.0 L48.6 161.0 L48.2 162.0 L48.0 163.3 L47.2 164.5 L46.8 166.0 L46.2 165.2 L44.4 165.1 L43.9 164.3 L43.7 164.3 L43.5 162.6 L41.9 162.4 L42.2 161.6 L41.9 159.7 Z" fill="#000"/>
<path d="M52.3 161.8h.01M42.6 157.7h.01M41.1 160.3h.01M47.5 154.5h.01M47.1 161.2h.01M48.2 155.7h.01M43.8 154.2h.01M42.0 159.1h.01M45.9 162.5h.01M46.6 156.9h.01M41.6 163.3h.01M46.3 157.9h.01M42.8 154.5h.01M47.7 154.7h.01M47.5 160.2h.01M44.7 152.5h.01M47.0 162.8h.01M43.4 153.7h.01M49.0 158.5h.01M44.0 162.2h.01M45.0 159.6h.01M44.6 155.5h.01M46.4 155.1h.01M40.6 156.2h.01M49.4 161.8h.01M52.2 161.4h.01M50.6 158.9h.01M44.5 159.6h.01M43.0 160.5h.01M44.5 158.9h.01M43.3 157.6h.01M48.7 157.3h.01M43.8 159.0h.01M48.4 157.4h.01M42.4 152.7h.01M41.9 161.7h.01M45.5 159.7h.01M49.0 159.0h.01M47.2 156.3h.01M41.1 160.2h.01M45.5 160.0h.01M42.7 157.6h.01M51.7 155.2h.01M46.1 162.5h.01M45.1 158.5h.01M39.5 160.7h.01M44.5 162.4h.01M45.5 156.8h.01M47.1 157.2h.01M44.3 163.3h.01M48.7 158.4h.01M48.2 160.8h.01M47.5 158.2h.01M46.0 159.4h.01M47.5 159.2h.01M44.2 157.8h.01M47.1 154.7h.01M45.8 160.6h.01M46.3 157.1h.01M45.7 156.4h.01M48.7 156.8h.01M40.9 154.0h.01M46.7 158.8h.01M44.4 153.6h.01M45.4 155.2h.01M43.9 158.0h.01M43.5 159.1h.01M43.6 156.5h.01M45.1 163.0h.01M50.4 161.2h.01M43.6 158.1h.01M48.5 160.8h.01M41.0 157.9h.01M43.6 160.6h.01M47.7 156.3h.01M52.1 157.1h.01M53.0 157.5h.01M45.6 164.4h.01M44.3 156.5h.01M50.1 157.9h.01M47.2 153.8h.01M51.1 161.3h.01M46.8 160.4h.01M44.3 156.5h.01M41.2 159.3h.01M49.4 160.9h.01M48.5 160.4h.01M43.1 153.7h.01M47.7 158.6h.01M48.7 157.1h.01M43.2 159.5h.01M44.2 152.6h.01M44.0 155.1h.01M42.5 156.2h.01M48.6 165.9h.01M50.9 156.7h.01M49.2 157.8h.01M47.0 155.8h.01M45.6 152.5h.01M51.1 155.5h.01M47.5 156.1h.01M46.6 154.1h.01M44.7 161.1h.01M47.5 151.6h.01M48.3 153.7h.01M46.6 159.8h.01M43.9 157.0h.01M45.1 159.4h.01M48.5 162.6h.01M46.8 164.7h.01M43.0 164.0h.01M45.0 160.6h.01M45.4 158.3h.01M43.1 159.3h.01M51.7 158.6h.01M45.7 158.1h.01M47.9 157.4h.01M45.8 158.8h.01M49.6 161.2h.01M42.7 156.0h.01M45.9 160.9h.01M48.6 157.4h.01M52.0 157.5h.01M49.9 162.8h.01M50.5 158.7h.01M47.5 153.0h.01M40.6 156.0h.01M47.9 161.6h.01M45.5 161.5h.01M47.5 163.1h.01M41.1 155.3h.01M43.0 154.6h.01M50.6 155.0h.01M43.4 156.7h.01M48.4 156.5h.01M48.0 159.9h.01M43.9 150.2h.01M43.1 153.9h.01M50.6 155.7h.01M42.7 159.3h.01M46.0 154.9h.01M49.0 161.1h.01M46.6 155.5h.01M43.2 151.2h.01M46.9 159.4h.01M43.1 158.1h.01M40.8 160.1h.01M44.5 156.4h.01M47.6 157.6h.01M48.7 159.8h.01M49.2 158.4h.01M40.8 161.5h.01M46.5 153.4h.01M46.0 161.0h.01M42.8 158.2h.01M43.6 154.7h.01M44.0 162.3h.01M47.8 157.9h.01M45.6 158.5h.01M46.6 158.7h.01M40.7 161.1h.01M47.9 154.0h.01M45.4 157.7h.01M44.1 159.8h.01M45.0 157.1h.01M43.0 157.1h.01M42.7 158.2h.01M49.7 161.4h.01M47.1 153.5h.01M48.8 161.1h.01M51.9 150.6h.01M45.8 156.9h.01M49.0 154.4h.01M44.7 165.8h.01M48.7 151.4h.01M45.9 162.6h.01M44.0 160.0h.01M46.1 153.2h.01M44.0 161.8h.01M49.3 156.0h.01M49.1 155.7h.01M46.5 158.0h.01M42.1 159.1h.01M43.4 155.2h.01M43.3 154.8h.01M48.4 158.3h.01M46.6 157.1h.01M46.0 157.2h.01M42.6 153.0h.01M46.0 161.4h.01M46.5 163.4h.01M41.8 157.1h.01M44.0 162.1h.01M50.8 156.3h.01M48.0 157.2h.01M42.9 157.7h.01M42.7 163.2h.01M47.5 162.0h.01M48.2 158.3h.01M48.8 163.7h.01M42.8 160.7h.01M46.8 157.4h.01M45.0 159.8h.01M47.5 160.2h.01M44.6 153.6h.01M49.7 162.4h.01M44.1 157.9h.01M48.2 152.1h.01M47.3 166.1h.01M46.6 155.7h.01M51.8 158.0h.01M46.4 156.6h.01M46.3 152.0h.01M42.0 153.1h.01M48.5 157.7h.01M49.2 151.2h.01M44.0 162.9h.01M43.5 151.8h.01M43.6 156.9h.01M45.8 162.4h.01M49.7 163.2h.01M47.5 156.3h.01M44.3 153.1h.01M49.6 162.2h.01M46.1 155.0h.01M47.8 159.6h.01M46.3 154.1h.01M46.5 156.1h.01M48.0 160.0h.01M47.1 156.6h.01M50.3 160.6h.01M49.5 160.8h.01M47.8 159.3h.01M42.6 151.9h.01M43.0 160.1h.01M48.5 158.6h.01M46.1 164.2h.01M44.6 152.0h.01M41.2 156.9h.01M47.9 160.5h.01M45.1 160.7h.01M45.7 155.6h.01M44.7 160.5h.01M48.6 154.2h.01M42.9 158.4h.01M52.1 154.1h.01M42.1 159.4h.01M47.3 156.0h.01M45.7 159.6h.01M40.7 157.9h.01M47.6 161.1h.01M49.2 157.8h.01M41.6 162.5h.01M48.1 155.9h.01M48.8 161.5h.01M45.4 150.1h.01M44.4 155.5h.01M43.3 157.7h.01M42.6 159.3h.01M51.4 154.0h.01M48.9 156.2h.01M47.4 157.6h.01M49.6 155.6h.01M48.0 155.4h.01M46.5 158.0h.01M49.0 152.7h.01M41.8 162.7h.01M46.9 163.7h.01M42.8 158.7h.01M47.6 163.9h.01M45.6 156.5h.01M47.9 157.7h.01M43.6 160.6h.01M40.2 154.6h.01M49.8 156.3h.01M44.9 159.2h.01M49.1 159.8h.01M43.0 156.1h.01M48.9 157.6h.01M43.9 160.9h.01M49.2 165.3h.01M42.6 155.6h.01M43.8 159.2h.01M44.4 161.7h.01M43.9 157.1h.01M47.5 158.7h.01M42.8 163.0h.01M47.5 156.4h.01M46.4 154.3h.01M42.2 157.0h.01M46.9 158.3h.01M43.5 153.4h.01M40.9 163.4h.01M46.9 155.3h.01M49.3 159.8h.01M44.6 155.9h.01M49.1 159.1h.01M50.6 159.2h.01M44.1 156.0h.01M43.7 158.9h.01M46.5 160.0h.01M47.1 154.5h.01M45.2 154.8h.01M47.2 153.6h.01M44.1 155.1h.01M44.0 157.1h.01M50.2 157.1h.01M41.6 157.0h.01M48.0 159.9h.01M46.5 164.7h.01M49.0 158.3h.01M49.4 153.5h.01M45.3 155.1h.01M46.3 163.4h.01M44.4 163.3h.01M42.8 162.8h.01M40.9 155.2h.01M48.7 157.7h.01M46.2 158.0h.01M46.3 157.4h.01M42.9 157.0h.01M46.1 155.0h.01M47.2 163.9h.01M41.0 156.2h.01M45.0 158.1h.01M46.1 155.6h.01M45.7 158.0h.01M45.5 163.2h.01M46.2 153.0h.01M41.2 160.0h.01M44.8 155.9h.01M41.8 157.0h.01M45.5 155.7h.01M44.8 161.0h.01M48.1 159.8h.01M45.3 153.4h.01M48.1 163.0h.01M49.5 161.9h.01M46.6 159.3h.01M45.8 162.2h.01M45.0 165.2h.01M48.1 156.9h.01M45.8 152.6h.01M43.7 157.0h.01M52.9 155.3h.01M48.5 158.3h.01M44.9 160.1h.01M40.0 161.2h.01M51.4 159.0h.01M45.6 158.5h.01M47.7 156.4h.01M46.2 159.7h.01M44.8 159.3h.01M46.8 160.4h.01M42.9 156.2h.01M44.6 162.0h.01M46.5 152.4h.01M42.1 164.5h.01M46.8 153.7h.01M43.1 158.5h.01M50.0 163.4h.01M44.7 157.0h.01M51.4 154.7h.01M50.4 159.1h.01M46.1 162.3h.01M47.2 155.2h.01M41.4 158.1h.01M47.3 162.6h.01M47.6 163.1h.01M48.1 158.7h.01M47.1 159.3h.01M44.0 157.6h.01M46.2 156.5h.01M41.5 153.1h.01M47.3 159.8h.01M46.1 154.1h.01M48.3 156.7h.01M39.8 163.3h.01M41.5 165.6h.01M47.4 156.5h.01M50.1 162.6h.01M46.6 152.2h.01M44.7 157.0h.01M47.1 157.6h.01M46.8 152.5h.01M43.9 162.8h.01M41.6 161.1h.01M52.5 160.2h.01M41.8 162.2h.01M40.4 159.1h.01M44.6 162.2h.01M49.2 158.6h.01M51.0 161.3h.01M44.4 154.7h.01M53.0 156.6h.01M47.0 157.6h.01M44.4 152.6h.01M45.4 157.6h.01M48.7 156.3h.01M41.2 154.4h.01M45.7 158.8h.01M47.9 156.7h.01M47.4 158.5h.01M50.7 157.8h.01M46.2 159.9h.01M49.4 154.9h.01M44.4 157.1h.01M39.6 162.4h.01M48.9 158.1h.01M51.7 163.3h.01M48.4 153.2h.01M50.3 159.4h.01M42.3 158.2h.01M48.0 161.3h.01M46.3 156.2h.01M48.0 155.4h.01M45.6 160.6h.01M41.6 159.3h.01M40.1 154.9h.01M42.2 157.7h.01M50.6 157.3h.01M51.4 157.9h.01M46.6 159.4h.01M46.5 158.0h.01M52.0 155.3h.01M52.4 153.2h.01M46.6 150.8h.01M45.2 163.6h.01M49.0 162.4h.01M41.2 153.6h.01M49.5 160.7h.01M51.1 151.0h.01M49.7 157.2h.01M48.0 159.3h.01M46.3 151.0h.01M42.9 151.9h.01M41.9 157.0h.01M53.1 154.7h.01M44.2 153.1h.01M40.1 157.8h.01M45.4 156.6h.01M43.4 159.4h.01M42.4 159.6h.01M44.7 160.5h.01M43.7 159.2h.01M49.4 157.2h.01M54.5 158.2h.01M43.7 160.2h.01M44.0 155.4h.01M47.6 158.2h.01M54.8 150.8h.01M46.4 161.9h.01M46.8 158.7h.01M54.0 152.7h.01M47.7 160.6h.01M45.0 150.7h.01M43.2 158.3h.01M48.3 164.6h.01M53.2 151.5h.01M51.9 161.0h.01M54.4 156.9h.01M45.1 158.1h.01M54.1 159.9h.01M54.8 160.5h.01M45.0 153.6h.01M55.4 151.6h.01M46.0 156.3h.01M43.6 155.3h.01M47.5 166.7h.01M47.2 155.5h.01M48.0 161.1h.01M44.0 155.9h.01M40.0 160.2h.01M50.4 163.3h.01M42.4 165.9h.01M51.2 156.4h.01M45.8 156.3h.01M42.3 160.5h.01M44.9 154.7h.01M49.7 157.9h.01" stroke="#000" stroke-width="0.8" stroke-linecap="square" fill="none" opacity="1.0"/>
<path d="M61.8 156.3h.01M62.3 161.2h.01M70.5 154.8h.01M64.8 161.2h.01M63.4 162.5h.01M67.4 159.1h.01M66.9 158.8h.01M67.6 158.6h.01M62.2 159.8h.01M65.3 153.8h.01M59.4 157.5h.01M66.8 150.2h.01M61.7 158.7h.01M72.7 162.0h.01M59.5 160.8h.01M58.4 158.0h.01M65.9 158.9h.01M60.6 161.1h.01M64.6 156.9h.01M63.5 153.7h.01M68.9 158.0h.01M67.5 162.8h.01M60.3 156.1h.01M65.0 159.7h.01M64.0 159.9h.01M67.5 151.5h.01M61.3 150.7h.01M63.4 155.7h.01M68.2 157.5h.01M64.7 160.9h.01M68.3 153.2h.01M61.2 158.0h.01M74.3 156.4h.01M64.1 157.8h.01M69.3 156.7h.01M66.6 155.7h.01M62.0 154.5h.01M68.6 155.3h.01M68.0 158.3h.01M59.7 153.2h.01M64.1 159.5h.01M72.4 158.2h.01M62.9 158.7h.01M65.0 158.9h.01M59.4 153.6h.01M61.5 156.9h.01M66.9 155.9h.01M66.9 159.1h.01M58.7 156.7h.01M69.9 154.8h.01M69.9 157.3h.01M69.7 160.4h.01M65.6 155.4h.01M62.0 163.0h.01M64.0 155.6h.01M61.1 151.8h.01M62.3 158.0h.01M62.3 154.6h.01M67.2 158.4h.01M62.6 158.0h.01M59.7 159.7h.01M59.6 156.0h.01M65.7 155.7h.01M58.7 163.5h.01M73.3 151.6h.01M65.7 153.1h.01M66.7 152.9h.01M68.2 158.7h.01M74.3 160.8h.01M62.5 159.9h.01M62.5 156.6h.01M62.3 151.5h.01M68.3 150.7h.01M63.7 158.6h.01M65.6 152.1h.01M61.4 159.1h.01M71.0 162.0h.01M62.4 159.4h.01M68.9 155.0h.01M63.0 153.9h.01M71.1 152.9h.01M60.0 156.0h.01M63.3 163.6h.01M66.5 154.4h.01M68.2 158.1h.01M66.5 156.8h.01M67.5 153.3h.01M58.4 155.7h.01M59.0 159.2h.01M67.4 158.1h.01M61.3 153.0h.01M68.0 152.4h.01M66.7 156.6h.01M69.1 157.2h.01M65.6 155.2h.01M68.8 160.3h.01M72.5 153.9h.01M59.9 159.2h.01M66.7 152.3h.01M62.0 161.9h.01M65.6 161.4h.01M63.6 162.5h.01M68.8 156.9h.01M66.8 161.5h.01M66.3 163.5h.01M57.7 162.7h.01M69.3 157.4h.01M71.5 152.9h.01M63.1 160.3h.01M71.1 155.8h.01M73.9 159.4h.01M58.3 152.6h.01M58.9 158.4h.01M62.9 154.4h.01M64.9 152.0h.01M72.5 161.9h.01M66.8 156.8h.01M62.7 158.8h.01M63.3 163.7h.01M73.3 160.4h.01M71.1 152.0h.01M59.6 155.5h.01M59.7 156.5h.01M73.8 161.8h.01M73.3 153.9h.01M61.2 151.3h.01" stroke="#2a2a2a" stroke-width="0.6" stroke-linecap="square" fill="none" opacity="1.0"/>
<path d="M45.7 178.0h.01M43.8 175.1h.01M44.4 169.2h.01M44.1 173.1h.01M45.5 166.9h.01M45.2 169.4h.01M43.9 177.1h.01M48.4 177.7h.01M44.7 173.4h.01M48.9 166.5h.01M48.5 167.2h.01M44.3 176.3h.01M45.3 185.7h.01M47.0 175.7h.01M48.0 176.2h.01M43.9 182.6h.01M49.3 183.5h.01M43.0 187.2h.01M44.8 180.5h.01M42.0 170.0h.01M48.6 178.9h.01M46.8 174.9h.01M45.8 177.4h.01M47.6 174.4h.01M43.7 173.9h.01M40.9 169.5h.01M50.4 172.0h.01M45.6 187.1h.01M48.3 176.7h.01M47.5 174.4h.01M43.7 181.9h.01M46.1 185.4h.01M45.2 173.8h.01M46.6 174.9h.01M66.6 169.9h.01M68.2 178.2h.01M72.9 175.8h.01M62.3 179.2h.01M65.1 174.9h.01M69.2 170.0h.01M62.1 171.1h.01M71.2 177.3h.01M66.0 174.2h.01M70.3 172.5h.01M68.7 182.6h.01M64.8 172.0h.01M68.8 176.1h.01M67.1 172.4h.01M67.6 176.6h.01M67.6 166.5h.01M67.1 177.0h.01" stroke="#333" stroke-width="0.55" stroke-linecap="square" fill="none" opacity="1.0"/>
<text x="35.80" y="136.20" font-size="6.9" font-weight="bold" stroke="#000" stroke-width="0.3">72.4%</text>
<text transform="translate(20.40,170.40) rotate(-90)" font-size="10.3" font-weight="bold" stroke="#000" stroke-width="0.3" textLength="40.20" lengthAdjust="spacingAndGlyphs">CD45RA</text>
<text x="79.00" y="209.90" font-size="10.4" font-weight="bold" stroke="#000" stroke-width="0.3" textLength="25.40" lengthAdjust="spacingAndGlyphs">CD27</text>
<rect x="133.20" y="128.80" width="70.20" height="61.20" fill="none" stroke="#777" stroke-width="1.0"/>
<line x1="133.20" y1="128.80" x2="133.20" y2="190.50" stroke="#111" stroke-width="1.3"/>
<line x1="133.20" y1="190.00" x2="203.40" y2="190.00" stroke="#333" stroke-width="1.1"/>
<line x1="155.80" y1="128.80" x2="155.80" y2="190.00" stroke="#111" stroke-width="1.2"/>
<line x1="133.20" y1="164.70" x2="203.40" y2="164.70" stroke="#111" stroke-width="1.1"/>
<line x1="138.20" y1="190.00" x2="138.20" y2="193.40" stroke="#000" stroke-width="0.85"/>
<line x1="147.40" y1="190.00" x2="147.40" y2="193.40" stroke="#000" stroke-width="0.85"/>
<line x1="164.60" y1="190.00" x2="164.60" y2="193.40" stroke="#000" stroke-width="0.85"/>
<line x1="180.80" y1="190.00" x2="180.80" y2="193.40" stroke="#000" stroke-width="0.85"/>
<line x1="197.00" y1="190.00" x2="197.00" y2="193.40" stroke="#000" stroke-width="0.85"/>
<line x1="152.58" y1="190.00" x2="152.58" y2="192.00" stroke="#000" stroke-width="0.85"/>
<line x1="155.61" y1="190.00" x2="155.61" y2="192.00" stroke="#000" stroke-width="0.85"/>
<line x1="157.76" y1="190.00" x2="157.76" y2="192.00" stroke="#000" stroke-width="0.85"/>
<line x1="159.42" y1="190.00" x2="159.42" y2="192.00" stroke="#000" stroke-width="0.85"/>
<line x1="160.78" y1="190.00" x2="160.78" y2="192.00" stroke="#000" stroke-width="0.85"/>
<line x1="161.94" y1="190.00" x2="161.94" y2="192.00" stroke="#000" stroke-width="0.85"/>
<line x1="162.93" y1="190.00" x2="162.93" y2="192.00" stroke="#000" stroke-width="0.85"/>
<line x1="163.81" y1="190.00" x2="163.81" y2="192.00" stroke="#000" stroke-width="0.85"/>
<line x1="169.48" y1="190.00" x2="169.48" y2="192.00" stroke="#000" stroke-width="0.85"/>
<line x1="172.33" y1="190.00" x2="172.33" y2="192.00" stroke="#000" stroke-width="0.85"/>
<line x1="174.35" y1="190.00" x2="174.35" y2="192.00" stroke="#000" stroke-width="0.85"/>
<line x1="175.92" y1="190.00" x2="175.92" y2="192.00" stroke="#000" stroke-width="0.85"/>
<line x1="177.21" y1="190.00" x2="177.21" y2="192.00" stroke="#000" stroke-width="0.85"/>
<line x1="178.29" y1="190.00" x2="178.29" y2="192.00" stroke="#000" stroke-width="0.85"/>
<line x1="179.23" y1="190.00" x2="179.23" y2="192.00" stroke="#000" stroke-width="0.85"/>
<line x1="180.06" y1="190.00" x2="180.06" y2="192.00" stroke="#000" stroke-width="0.85"/>
<line x1="185.68" y1="190.00" x2="185.68" y2="192.00" stroke="#000" stroke-width="0.85"/>
<line x1="188.53" y1="190.00" x2="188.53" y2="192.00" stroke="#000" stroke-width="0.85"/>
<line x1="190.55" y1="190.00" x2="190.55" y2="192.00" stroke="#000" stroke-width="0.85"/>
<line x1="192.12" y1="190.00" x2="192.12" y2="192.00" stroke="#000" stroke-width="0.85"/>
<line x1="193.41" y1="190.00" x2="193.41" y2="192.00" stroke="#000" stroke-width="0.85"/>
<line x1="194.49" y1="190.00" x2="194.49" y2="192.00" stroke="#000" stroke-width="0.85"/>
<line x1="195.43" y1="190.00" x2="195.43" y2="192.00" stroke="#000" stroke-width="0.85"/>
<line x1="196.26" y1="190.00" x2="196.26" y2="192.00" stroke="#000" stroke-width="0.85"/>
<line x1="139.35" y1="190.00" x2="139.35" y2="192.00" stroke="#000" stroke-width="0.85"/>
<line x1="140.50" y1="190.00" x2="140.50" y2="192.00" stroke="#000" stroke-width="0.85"/>
<line x1="141.65" y1="190.00" x2="141.65" y2="192.00" stroke="#000" stroke-width="0.85"/>
<line x1="142.80" y1="190.00" x2="142.80" y2="192.00" stroke="#000" stroke-width="0.85"/>
<line x1="143.95" y1="190.00" x2="143.95" y2="192.00" stroke="#000" stroke-width="0.85"/>
<line x1="145.10" y1="190.00" x2="145.10" y2="192.00" stroke="#000" stroke-width="0.85"/>
<line x1="146.25" y1="190.00" x2="146.25" y2="192.00" stroke="#000" stroke-width="0.85"/>
<line x1="136.80" y1="190.00" x2="136.80" y2="192.00" stroke="#000" stroke-width="0.85"/>
<line x1="135.40" y1="190.00" x2="135.40" y2="192.00" stroke="#000" stroke-width="0.85"/>
<line x1="134.00" y1="190.00" x2="134.00" y2="192.00" stroke="#000" stroke-width="0.85"/>
<text x="138.20" y="198.40" font-size="4.6" fill="#333" text-anchor="middle">0</text>
<text x="134.00" y="198.60" font-size="4.0" fill="#777" text-anchor="middle">-</text>
<text x="147.90" y="198.40" font-size="4.6" fill="#333" text-anchor="middle">10<tspan font-size="2.8" dy="-1.6">2</tspan></text>
<text x="165.10" y="198.40" font-size="4.6" fill="#333" text-anchor="middle">10<tspan font-size="2.8" dy="-1.6">3</tspan></text>
<text x="181.30" y="198.40" font-size="4.6" fill="#333" text-anchor="middle">10<tspan font-size="2.8" dy="-1.6">4</tspan></text>
<text x="197.50" y="198.40" font-size="4.6" fill="#333" text-anchor="middle">10<tspan font-size="2.8" dy="-1.6">5</tspan></text>
<line x1="130.20" y1="188.50" x2="133.20" y2="188.50" stroke="#000" stroke-width="0.85"/>
<line x1="128.80" y1="178.50" x2="133.20" y2="178.50" stroke="#000" stroke-width="0.85"/>
<line x1="128.80" y1="165.00" x2="133.20" y2="165.00" stroke="#000" stroke-width="0.85"/>
<line x1="128.80" y1="150.30" x2="133.20" y2="150.30" stroke="#000" stroke-width="0.85"/>
<line x1="128.80" y1="135.00" x2="133.20" y2="135.00" stroke="#000" stroke-width="0.85"/>
<line x1="131.20" y1="174.44" x2="133.20" y2="174.44" stroke="#000" stroke-width="0.85"/>
<line x1="131.20" y1="172.06" x2="133.20" y2="172.06" stroke="#000" stroke-width="0.85"/>
<line x1="131.20" y1="170.37" x2="133.20" y2="170.37" stroke="#000" stroke-width="0.85"/>
<line x1="131.20" y1="169.06" x2="133.20" y2="169.06" stroke="#000" stroke-width="0.85"/>
<line x1="131.20" y1="167.99" x2="133.20" y2="167.99" stroke="#000" stroke-width="0.85"/>
<line x1="131.20" y1="167.09" x2="133.20" y2="167.09" stroke="#000" stroke-width="0.85"/>
<line x1="131.20" y1="166.31" x2="133.20" y2="166.31" stroke="#000" stroke-width="0.85"/>
<line x1="131.20" y1="165.62" x2="133.20" y2="165.62" stroke="#000" stroke-width="0.85"/>
<line x1="131.20" y1="160.57" x2="133.20" y2="160.57" stroke="#000" stroke-width="0.85"/>
<line x1="131.20" y1="157.99" x2="133.20" y2="157.99" stroke="#000" stroke-width="0.85"/>
<line x1="131.20" y1="156.15" x2="133.20" y2="156.15" stroke="#000" stroke-width="0.85"/>
<line x1="131.20" y1="154.73" x2="133.20" y2="154.73" stroke="#000" stroke-width="0.85"/>
<line x1="131.20" y1="153.56" x2="133.20" y2="153.56" stroke="#000" stroke-width="0.85"/>
<line x1="131.20" y1="152.58" x2="133.20" y2="152.58" stroke="#000" stroke-width="0.85"/>
<line x1="131.20" y1="151.72" x2="133.20" y2="151.72" stroke="#000" stroke-width="0.85"/>
<line x1="131.20" y1="150.97" x2="133.20" y2="150.97" stroke="#000" stroke-width="0.85"/>
<line x1="131.20" y1="145.69" x2="133.20" y2="145.69" stroke="#000" stroke-width="0.85"/>
<line x1="131.20" y1="143.00" x2="133.20" y2="143.00" stroke="#000" stroke-width="0.85"/>
<line x1="131.20" y1="141.09" x2="133.20" y2="141.09" stroke="#000" stroke-width="0.85"/>
<line x1="131.20" y1="139.61" x2="133.20" y2="139.61" stroke="#000" stroke-width="0.85"/>
<line x1="131.20" y1="138.39" x2="133.20" y2="138.39" stroke="#000" stroke-width="0.85"/>
<line x1="131.20" y1="137.37" x2="133.20" y2="137.37" stroke="#000" stroke-width="0.85"/>
<line x1="131.20" y1="136.48" x2="133.20" y2="136.48" stroke="#000" stroke-width="0.85"/>
<line x1="131.20" y1="135.70" x2="133.20" y2="135.70" stroke="#000" stroke-width="0.85"/>
<line x1="131.20" y1="187.25" x2="133.20" y2="187.25" stroke="#000" stroke-width="0.85"/>
<line x1="131.20" y1="186.00" x2="133.20" y2="186.00" stroke="#000" stroke-width="0.85"/>
<line x1="131.20" y1="184.75" x2="133.20" y2="184.75" stroke="#000" stroke-width="0.85"/>
<line x1="131.20" y1="183.50" x2="133.20" y2="183.50" stroke="#000" stroke-width="0.85"/>
<line x1="131.20" y1="182.25" x2="133.20" y2="182.25" stroke="#000" stroke-width="0.85"/>
<line x1="131.20" y1="181.00" x2="133.20" y2="181.00" stroke="#000" stroke-width="0.85"/>
<line x1="131.20" y1="179.75" x2="133.20" y2="179.75" stroke="#000" stroke-width="0.85"/>
<text transform="translate(125.60,177.90) rotate(-55)" font-size="4.6" fill="#333" text-anchor="middle">10<tspan font-size="2.8" dy="-1.6">2</tspan></text>
<text transform="translate(125.60,164.40) rotate(-55)" font-size="4.6" fill="#333" text-anchor="middle">10<tspan font-size="2.8" dy="-1.6">3</tspan></text>
<text transform="translate(125.60,149.70) rotate(-55)" font-size="4.6" fill="#333" text-anchor="middle">10<tspan font-size="2.8" dy="-1.6">4</tspan></text>
<text transform="translate(125.60,134.40) rotate(-55)" font-size="4.6" fill="#333" text-anchor="middle">10<tspan font-size="2.8" dy="-1.6">5</tspan></text>
<text transform="translate(124.60,190.50) rotate(-90)" font-size="3.6" fill="#999" text-anchor="middle">-67</text>
<path d="M168.5 155.7 L169.0 155.3 L168.9 152.9 L170.5 152.7 L171.1 152.9 L172.9 153.5 L173.0 154.4 L172.8 155.2 L173.5 156.1 L173.7 156.8 L172.9 158.3 L173.3 159.6 L172.9 160.3 L173.6 160.8 L172.9 162.1 L173.6 163.0 L173.3 164.2 L173.4 164.9 L172.9 166.0 L173.3 167.5 L173.8 168.1 L172.7 168.6 L172.8 170.1 L172.1 171.0 L172.7 171.5 L172.3 172.5 L171.0 172.2 L169.4 170.8 L170.2 169.5 L169.2 169.0 L169.6 168.2 L169.6 167.2 L168.4 165.5 L168.2 164.9 L168.2 164.1 L168.9 162.8 L169.2 162.2 L169.3 161.2 L168.8 160.6 L168.4 159.9 L168.1 158.4 L168.4 158.3 L168.6 156.3 Z" fill="#000"/>
<path d="M170.2 168.6h.01M171.2 159.1h.01M171.2 156.2h.01M169.2 160.6h.01M166.4 167.7h.01M174.0 155.6h.01M170.7 153.2h.01M171.2 162.6h.01M172.1 154.4h.01M170.0 158.1h.01M170.5 173.6h.01M170.6 161.3h.01M170.1 165.7h.01M174.9 167.7h.01M173.3 155.8h.01M172.6 161.6h.01M172.9 167.1h.01M171.9 152.6h.01M171.1 158.9h.01M171.6 161.7h.01M172.5 153.0h.01M169.7 161.1h.01M171.4 159.4h.01M170.9 161.8h.01M172.5 160.9h.01M171.3 151.9h.01M166.8 153.7h.01M171.5 161.0h.01M170.9 157.6h.01M170.2 165.9h.01M171.5 161.4h.01M170.1 162.6h.01M172.8 161.4h.01M170.3 155.3h.01M171.1 156.6h.01M168.6 166.1h.01M169.8 171.3h.01M170.7 154.5h.01M169.2 165.3h.01M171.5 162.6h.01M170.6 164.1h.01M173.3 164.1h.01M170.6 154.1h.01M171.6 169.8h.01M171.9 154.8h.01M171.2 168.4h.01M169.9 164.1h.01M172.8 170.2h.01M168.4 152.2h.01M171.5 165.2h.01M170.3 161.4h.01M170.3 167.9h.01M167.4 162.9h.01M168.9 157.9h.01M168.5 156.7h.01M170.9 161.6h.01M173.7 160.3h.01M171.4 163.4h.01M171.3 169.3h.01M171.1 162.3h.01M170.7 161.5h.01M170.8 166.8h.01M170.9 161.9h.01M170.8 165.5h.01M170.2 166.5h.01M170.0 165.2h.01M173.9 162.7h.01M170.8 155.2h.01M172.1 161.6h.01M172.3 158.0h.01M171.7 171.1h.01M171.5 159.8h.01M168.8 161.5h.01M171.9 164.7h.01M169.1 156.0h.01M169.4 156.1h.01M170.5 162.9h.01M173.9 162.5h.01M173.2 152.7h.01M173.3 165.8h.01M171.6 165.9h.01M171.9 171.7h.01M172.2 152.2h.01M168.1 170.1h.01M170.8 168.5h.01M170.4 158.0h.01M170.4 163.2h.01M171.2 158.2h.01M171.7 164.8h.01M169.5 155.6h.01M167.8 159.9h.01M170.9 157.8h.01M169.9 160.8h.01M170.9 164.5h.01M172.2 163.8h.01M172.7 156.3h.01M171.9 163.5h.01M169.3 157.9h.01M171.6 161.9h.01M168.9 158.6h.01M173.3 166.0h.01M171.0 168.7h.01M169.5 160.6h.01M172.4 159.7h.01M169.1 164.6h.01M171.1 154.8h.01M170.4 154.0h.01M175.0 157.9h.01M171.0 157.7h.01M169.3 159.1h.01M171.2 170.9h.01M171.4 169.9h.01M169.2 161.9h.01M170.2 153.1h.01M171.3 157.5h.01M170.0 156.0h.01M172.5 159.4h.01M170.7 162.5h.01M169.0 162.7h.01M170.6 163.9h.01M170.3 161.7h.01M171.7 166.7h.01M169.8 166.7h.01M169.3 160.5h.01M171.1 162.3h.01M167.0 156.3h.01M170.6 166.4h.01M169.8 169.6h.01M168.0 161.9h.01M171.8 161.6h.01M171.3 166.5h.01M169.6 164.6h.01M172.6 160.3h.01M167.2 155.1h.01M169.5 155.9h.01M171.6 157.2h.01M174.8 164.5h.01M168.8 160.0h.01M173.3 165.1h.01M169.3 167.0h.01M170.1 173.3h.01M170.0 164.7h.01M171.8 159.1h.01M170.7 167.7h.01M171.7 161.2h.01M171.6 170.8h.01M172.4 164.0h.01M171.4 153.2h.01M171.1 158.9h.01M172.1 158.3h.01M171.6 155.9h.01M172.3 157.6h.01M170.9 164.6h.01M170.4 161.5h.01M172.6 170.9h.01M168.0 156.7h.01M172.0 166.5h.01M170.2 162.0h.01M170.6 173.6h.01M170.6 155.1h.01M168.4 154.7h.01M173.0 159.4h.01M174.0 164.9h.01M171.5 164.9h.01M172.1 166.4h.01M169.4 158.5h.01M170.0 162.1h.01M170.5 154.9h.01M169.8 171.0h.01M174.3 156.9h.01M171.5 161.3h.01M169.6 165.3h.01M170.8 170.4h.01M171.6 159.8h.01M166.7 161.0h.01M172.2 157.7h.01M172.3 165.1h.01M168.1 160.5h.01M171.4 165.5h.01M171.1 161.4h.01M170.4 160.0h.01M170.9 155.8h.01M171.9 159.8h.01M171.7 158.8h.01M171.5 162.2h.01M172.3 164.0h.01M172.4 160.6h.01M170.8 160.1h.01M168.9 160.8h.01M172.6 165.6h.01M169.6 163.1h.01M172.1 154.3h.01M171.5 163.3h.01M172.1 162.9h.01M174.0 159.4h.01M172.9 168.2h.01M171.0 155.4h.01M173.1 161.3h.01M171.7 164.0h.01M172.4 166.9h.01M168.7 154.0h.01M171.1 161.5h.01M172.1 160.8h.01M170.6 172.3h.01M173.1 167.7h.01M172.5 157.3h.01M170.8 161.1h.01M169.2 156.9h.01M171.2 155.0h.01M171.8 164.0h.01M170.5 159.7h.01M171.9 164.1h.01M171.5 155.0h.01M168.3 172.4h.01M169.9 159.6h.01M168.0 157.3h.01M169.7 165.7h.01M166.7 154.0h.01M170.2 158.9h.01M169.7 159.2h.01M168.4 162.9h.01M172.8 162.3h.01M170.1 168.2h.01M171.7 156.0h.01M170.0 158.3h.01M170.8 167.9h.01M169.8 160.7h.01M171.1 155.2h.01M170.1 164.8h.01M172.7 151.5h.01M172.0 160.0h.01M172.9 164.8h.01M174.0 163.1h.01M170.3 157.1h.01M168.6 164.4h.01M171.7 165.8h.01M171.5 153.6h.01M170.3 160.2h.01M171.2 165.6h.01M173.1 163.0h.01M167.6 156.1h.01M167.5 157.4h.01M169.0 162.8h.01M170.6 167.4h.01M172.6 159.1h.01M172.4 161.6h.01M171.6 168.6h.01M169.1 161.1h.01M173.3 157.5h.01M171.2 162.2h.01M170.2 154.6h.01M169.8 156.3h.01M172.6 162.8h.01M172.0 155.2h.01M171.7 162.3h.01M172.6 157.7h.01M172.2 168.8h.01M173.8 156.6h.01M169.1 153.7h.01M172.4 164.7h.01M171.4 156.9h.01M172.9 170.0h.01M170.8 160.9h.01M172.8 164.2h.01M173.0 159.4h.01M171.4 159.7h.01M170.0 159.9h.01M170.5 164.2h.01M170.4 161.9h.01M169.6 155.0h.01M173.2 156.3h.01M173.8 166.5h.01M167.3 158.1h.01M170.2 161.6h.01M170.6 158.3h.01M172.9 160.8h.01M172.4 157.9h.01M169.8 168.6h.01M170.5 155.7h.01M170.6 167.1h.01M170.6 157.7h.01M171.9 166.7h.01M170.6 159.8h.01M170.3 175.8h.01M170.6 170.7h.01M170.7 163.6h.01M167.7 162.4h.01M171.0 159.8h.01M170.3 154.3h.01M168.5 162.4h.01M169.9 161.0h.01M170.6 158.8h.01M169.8 171.3h.01M169.2 158.8h.01M170.4 155.4h.01M169.4 166.1h.01M172.4 162.2h.01M172.9 157.2h.01M172.6 170.4h.01M170.3 171.1h.01M169.6 155.5h.01M170.8 157.2h.01M171.9 155.7h.01M170.9 167.1h.01M170.5 163.2h.01M172.6 155.7h.01M168.9 161.9h.01M171.3 160.1h.01M169.4 167.9h.01M169.1 160.1h.01M170.8 165.3h.01M170.2 157.2h.01M174.1 157.0h.01M172.2 160.7h.01M170.2 161.3h.01M170.5 163.1h.01M166.9 161.4h.01M171.0 156.4h.01M170.3 173.8h.01M173.8 164.9h.01M171.3 159.9h.01M173.1 159.1h.01M169.6 165.2h.01M169.4 157.3h.01M173.2 153.0h.01M170.8 162.1h.01M171.3 153.8h.01M170.5 159.7h.01M173.9 166.8h.01M169.7 166.1h.01M172.0 176.3h.01M170.4 175.4h.01M168.1 173.3h.01M172.5 185.5h.01M174.1 174.8h.01M171.9 162.9h.01M170.3 169.6h.01M172.3 167.3h.01M169.0 170.5h.01M171.5 181.9h.01M169.2 187.6h.01M171.1 172.1h.01M171.4 176.9h.01M172.3 179.0h.01M174.7 183.9h.01M169.7 181.6h.01M172.2 171.1h.01M169.5 172.3h.01M166.4 180.7h.01M170.4 184.2h.01M169.8 177.4h.01M172.1 182.7h.01M171.4 170.9h.01M174.7 182.1h.01M173.2 186.5h.01M173.3 179.4h.01M171.6 180.7h.01M168.1 181.8h.01M169.1 179.5h.01M169.0 181.2h.01M171.2 180.0h.01M169.2 175.3h.01M170.7 175.3h.01M170.0 171.9h.01M172.2 174.8h.01M169.4 179.1h.01M169.4 176.0h.01M169.9 171.6h.01M170.4 172.2h.01M168.6 179.1h.01M170.3 168.4h.01M170.1 178.1h.01M171.6 179.2h.01M171.3 180.5h.01M169.9 172.3h.01M171.9 174.6h.01M170.8 180.8h.01M172.5 184.2h.01M169.6 174.8h.01M171.8 168.6h.01M168.6 180.6h.01M169.7 171.6h.01M172.2 180.1h.01M172.4 175.1h.01M170.3 175.0h.01M171.3 165.1h.01M169.6 181.1h.01M169.4 176.6h.01M171.0 180.0h.01M170.0 170.4h.01M175.2 172.8h.01M173.8 166.7h.01M171.0 175.9h.01M174.2 188.9h.01M172.5 171.1h.01M169.4 172.6h.01M169.9 178.5h.01M169.4 175.6h.01M173.4 185.4h.01M167.5 171.5h.01M170.2 184.6h.01M170.2 188.1h.01M171.5 185.4h.01M169.3 175.2h.01M172.6 180.3h.01M167.5 175.4h.01M171.1 180.7h.01M169.7 187.2h.01M171.1 185.5h.01M171.5 177.5h.01M170.3 170.2h.01M172.3 181.4h.01M172.5 174.8h.01M169.0 174.8h.01M170.3 176.9h.01M172.6 171.7h.01M170.0 181.0h.01M171.7 172.1h.01M169.0 172.4h.01M170.9 178.5h.01M170.7 173.4h.01M170.5 176.6h.01M171.9 177.5h.01M169.4 170.2h.01M173.4 176.5h.01M170.5 176.9h.01M172.8 175.2h.01M171.1 175.6h.01M171.8 171.1h.01M171.2 183.0h.01M172.9 180.6h.01M171.3 186.2h.01M172.1 185.1h.01M168.7 170.6h.01M172.2 175.5h.01M170.1 171.5h.01M173.4 170.1h.01M171.0 168.9h.01M175.1 174.1h.01M169.0 186.5h.01" stroke="#000" stroke-width="0.78" stroke-linecap="square" fill="none" opacity="1.0"/>
<path d="M145.6 152.9h.01M153.3 154.7h.01M141.8 160.2h.01M146.4 154.7h.01M152.2 156.9h.01M158.2 157.6h.01M161.2 160.3h.01M162.4 160.2h.01M151.5 158.8h.01M151.2 153.5h.01M143.6 159.3h.01M142.9 157.2h.01M144.5 158.0h.01M149.8 156.2h.01M151.6 154.2h.01M149.2 158.3h.01M157.8 159.2h.01M160.5 153.8h.01M155.4 161.4h.01M153.6 154.6h.01M153.6 156.1h.01M147.0 160.1h.01M150.0 154.6h.01M146.8 162.3h.01M145.7 159.1h.01M152.2 160.3h.01M149.3 155.0h.01M147.0 154.8h.01M149.1 160.6h.01M155.3 156.9h.01M155.1 158.1h.01M158.3 161.6h.01M149.1 157.3h.01M149.9 160.5h.01M153.5 159.4h.01M156.8 155.8h.01M151.9 160.9h.01M157.0 159.4h.01M149.3 156.5h.01M145.7 156.7h.01M150.7 153.8h.01M158.5 155.5h.01M152.7 158.9h.01M147.6 152.9h.01M157.2 158.4h.01M149.5 160.3h.01M156.8 155.0h.01M150.6 153.0h.01M149.4 161.0h.01M145.8 159.5h.01M141.5 156.7h.01M157.1 161.7h.01M154.0 159.3h.01M166.8 158.9h.01M151.5 158.1h.01M151.3 155.9h.01M151.0 157.1h.01M155.4 159.1h.01M157.3 158.9h.01M145.0 160.9h.01M153.2 156.1h.01M163.0 154.7h.01M143.7 156.1h.01M153.8 159.4h.01M151.8 159.1h.01M146.7 155.9h.01M151.9 154.0h.01M152.3 156.4h.01M155.4 154.9h.01M147.8 156.0h.01M148.8 154.9h.01M149.5 154.0h.01M154.5 159.1h.01M151.0 156.9h.01M145.5 155.0h.01M149.7 155.1h.01M143.7 157.8h.01M151.0 156.4h.01" stroke="#555" stroke-width="0.5" stroke-linecap="square" fill="none" opacity="1.0"/>
<path d="M160.7 165.6h.01M161.0 162.3h.01M163.6 172.3h.01M165.3 160.7h.01M166.6 156.0h.01M162.5 177.4h.01M162.0 162.8h.01M159.5 164.8h.01M161.8 159.5h.01M166.5 159.3h.01M168.0 173.3h.01M164.9 160.9h.01M163.8 163.7h.01M164.2 160.2h.01M164.5 153.0h.01M166.8 163.0h.01M162.6 152.6h.01M160.1 172.2h.01M160.9 165.7h.01M162.6 183.3h.01M165.6 154.5h.01M161.7 156.0h.01M159.0 160.1h.01M166.2 166.4h.01M165.0 164.8h.01M161.8 166.7h.01M162.8 182.8h.01M168.3 169.3h.01M162.7 186.8h.01M160.7 173.1h.01M166.6 162.6h.01M162.4 162.1h.01M165.4 166.2h.01M167.4 176.3h.01M163.0 188.6h.01M162.1 160.7h.01M162.4 158.4h.01M161.8 165.4h.01M165.6 152.3h.01M159.0 159.3h.01M162.2 170.0h.01M160.8 179.2h.01M161.5 164.1h.01M163.2 176.2h.01M163.9 166.2h.01M161.5 167.5h.01M164.2 163.0h.01M161.5 176.3h.01M167.2 165.4h.01M162.5 188.4h.01M161.8 174.8h.01M161.3 178.0h.01M166.4 156.7h.01M162.4 155.5h.01M163.8 162.5h.01M158.7 156.9h.01M163.7 152.7h.01M166.2 169.9h.01M162.5 178.2h.01M160.4 172.0h.01M159.1 163.2h.01M164.9 161.3h.01M162.7 171.7h.01M167.4 177.4h.01M164.4 163.7h.01M158.9 181.0h.01M165.5 165.6h.01M165.1 168.8h.01M162.5 166.0h.01M162.9 176.2h.01M162.3 161.3h.01M164.9 171.6h.01M164.3 168.5h.01M167.3 175.7h.01M163.6 164.2h.01M161.5 159.8h.01M163.5 162.6h.01M164.2 185.7h.01M163.0 163.2h.01M166.6 173.3h.01M165.7 176.6h.01M162.0 160.2h.01M161.0 166.9h.01M165.9 156.8h.01M161.5 154.3h.01M163.7 155.4h.01M160.1 160.4h.01M163.1 154.9h.01M162.4 176.7h.01M163.1 166.9h.01M162.6 159.9h.01M159.0 165.4h.01M160.1 161.2h.01M158.4 165.2h.01M165.7 158.6h.01M149.6 167.1h.01M150.8 179.2h.01M146.2 181.2h.01M143.8 176.3h.01M142.6 182.7h.01M150.6 174.4h.01M140.7 184.7h.01M149.5 171.0h.01M153.6 184.6h.01M144.0 178.8h.01M140.1 178.2h.01M148.3 172.3h.01" stroke="#2a2a2a" stroke-width="0.58" stroke-linecap="square" fill="none" opacity="1.0"/>
<text x="137.80" y="136.20" font-size="6.9" font-weight="bold" stroke="#000" stroke-width="0.3">2.4%</text>
<text transform="translate(120.40,170.40) rotate(-90)" font-size="10.3" font-weight="bold" stroke="#000" stroke-width="0.3" textLength="40.20" lengthAdjust="spacingAndGlyphs">CD45RA</text>
<text x="179.60" y="209.90" font-size="10.4" font-weight="bold" stroke="#000" stroke-width="0.3" textLength="25.40" lengthAdjust="spacingAndGlyphs">CD27</text>
<line x1="207.30" y1="164.80" x2="226.20" y2="164.80" stroke="#000" stroke-width="1.3"/>
<polyline points="219.60,160.40 226.20,164.80 219.60,169.20" fill="none" stroke="#000" stroke-width="1.3"/>
<rect x="30.50" y="218.40" width="73.80" height="72.30" fill="none" stroke="#888" stroke-width="0.9"/>
<line x1="30.50" y1="218.40" x2="30.50" y2="255.00" stroke="#222" stroke-width="1.4" stroke-dasharray="1.2 0.8"/>
<line x1="30.50" y1="255.00" x2="30.50" y2="291.50" stroke="#111" stroke-width="1.6"/>
<line x1="30.50" y1="290.70" x2="104.30" y2="290.70" stroke="#333" stroke-width="1.0"/>
<line x1="30.50" y1="290.70" x2="30.50" y2="293.30" stroke="#222" stroke-width="0.8"/>
<text x="31.10" y="298.70" font-size="4.8" fill="#333" text-anchor="middle">10<tspan font-size="2.8" dy="-1.6">0</tspan></text>
<line x1="48.95" y1="290.70" x2="48.95" y2="293.30" stroke="#222" stroke-width="0.8"/>
<text x="49.55" y="298.70" font-size="4.8" fill="#333" text-anchor="middle">10<tspan font-size="2.8" dy="-1.6">1</tspan></text>
<line x1="67.40" y1="290.70" x2="67.40" y2="293.30" stroke="#222" stroke-width="0.8"/>
<text x="68.00" y="298.70" font-size="4.8" fill="#333" text-anchor="middle">10<tspan font-size="2.8" dy="-1.6">2</tspan></text>
<line x1="85.85" y1="290.70" x2="85.85" y2="293.30" stroke="#222" stroke-width="0.8"/>
<text x="86.45" y="298.70" font-size="4.8" fill="#333" text-anchor="middle">10<tspan font-size="2.8" dy="-1.6">3</tspan></text>
<line x1="104.30" y1="290.70" x2="104.30" y2="293.30" stroke="#222" stroke-width="0.8"/>
<text x="104.90" y="298.70" font-size="4.8" fill="#333" text-anchor="middle">10<tspan font-size="2.8" dy="-1.6">4</tspan></text>
<line x1="36.05" y1="290.70" x2="36.05" y2="292.30" stroke="#777" stroke-width="0.5"/>
<line x1="39.30" y1="290.70" x2="39.30" y2="292.30" stroke="#777" stroke-width="0.5"/>
<line x1="43.40" y1="290.70" x2="43.40" y2="292.30" stroke="#777" stroke-width="0.5"/>
<line x1="54.50" y1="290.70" x2="54.50" y2="292.30" stroke="#777" stroke-width="0.5"/>
<line x1="57.75" y1="290.70" x2="57.75" y2="292.30" stroke="#777" stroke-width="0.5"/>
<line x1="61.85" y1="290.70" x2="61.85" y2="292.30" stroke="#777" stroke-width="0.5"/>
<line x1="72.95" y1="290.70" x2="72.95" y2="292.30" stroke="#777" stroke-width="0.5"/>
<line x1="76.20" y1="290.70" x2="76.20" y2="292.30" stroke="#777" stroke-width="0.5"/>
<line x1="80.30" y1="290.70" x2="80.30" y2="292.30" stroke="#777" stroke-width="0.5"/>
<line x1="91.40" y1="290.70" x2="91.40" y2="292.30" stroke="#777" stroke-width="0.5"/>
<line x1="94.65" y1="290.70" x2="94.65" y2="292.30" stroke="#777" stroke-width="0.5"/>
<line x1="98.75" y1="290.70" x2="98.75" y2="292.30" stroke="#777" stroke-width="0.5"/>
<line x1="27.70" y1="290.70" x2="30.50" y2="290.70" stroke="#111" stroke-width="0.8"/>
<text transform="translate(27.10,291.70) rotate(-90)" font-size="4.0" fill="#444" text-anchor="middle">0</text>
<line x1="28.80" y1="286.88" x2="30.50" y2="286.88" stroke="#222" stroke-width="0.7"/>
<line x1="28.80" y1="283.05" x2="30.50" y2="283.05" stroke="#222" stroke-width="0.7"/>
<line x1="28.80" y1="279.22" x2="30.50" y2="279.22" stroke="#222" stroke-width="0.7"/>
<line x1="27.70" y1="275.40" x2="30.50" y2="275.40" stroke="#111" stroke-width="0.8"/>
<text transform="translate(27.10,276.40) rotate(-90)" font-size="4.0" fill="#444" text-anchor="middle">40</text>
<line x1="28.80" y1="271.57" x2="30.50" y2="271.57" stroke="#222" stroke-width="0.7"/>
<line x1="28.80" y1="267.75" x2="30.50" y2="267.75" stroke="#222" stroke-width="0.7"/>
<line x1="28.80" y1="263.92" x2="30.50" y2="263.92" stroke="#222" stroke-width="0.7"/>
<line x1="27.70" y1="260.10" x2="30.50" y2="260.10" stroke="#111" stroke-width="0.8"/>
<text transform="translate(27.10,261.10) rotate(-90)" font-size="4.0" fill="#444" text-anchor="middle">80</text>
<line x1="28.80" y1="256.27" x2="30.50" y2="256.27" stroke="#222" stroke-width="0.7"/>
<line x1="28.80" y1="252.45" x2="30.50" y2="252.45" stroke="#222" stroke-width="0.7"/>
<line x1="28.80" y1="248.62" x2="30.50" y2="248.62" stroke="#222" stroke-width="0.7"/>
<line x1="27.70" y1="244.80" x2="30.50" y2="244.80" stroke="#111" stroke-width="0.8"/>
<text transform="translate(27.10,245.80) rotate(-90)" font-size="4.0" fill="#444" text-anchor="middle">120</text>
<line x1="28.80" y1="240.97" x2="30.50" y2="240.97" stroke="#222" stroke-width="0.7"/>
<line x1="28.80" y1="237.15" x2="30.50" y2="237.15" stroke="#222" stroke-width="0.7"/>
<line x1="28.80" y1="233.32" x2="30.50" y2="233.32" stroke="#222" stroke-width="0.7"/>
<line x1="27.70" y1="229.50" x2="30.50" y2="229.50" stroke="#111" stroke-width="0.8"/>
<text transform="translate(27.10,230.50) rotate(-90)" font-size="4.0" fill="#444" text-anchor="middle">160</text>
<line x1="28.80" y1="225.68" x2="30.50" y2="225.68" stroke="#222" stroke-width="0.7"/>
<line x1="28.80" y1="221.85" x2="30.50" y2="221.85" stroke="#222" stroke-width="0.7"/>
<line x1="27.70" y1="218.70" x2="30.50" y2="218.70" stroke="#111" stroke-width="0.8"/>
<text transform="translate(27.10,219.70) rotate(-90)" font-size="4.0" fill="#444" text-anchor="middle">200</text>
<polyline points="30.9,267.9 31.6,257.5 33.0,245.7 34.6,238.4 36.0,242.7 37.6,254.0 39.4,267.6 41.2,280.2 43.0,286.9 44.0,287.9 45.0,289.6 46.0,289.4 47.0,289.3 48.0,290.0" fill="none" stroke="#444" stroke-width="1.0" stroke-linejoin="round" stroke-dasharray="1.7 1.2"/>
<line x1="46.00" y1="290.00" x2="104.30" y2="290.00" stroke="#111" stroke-width="2.0" stroke-dasharray="1.7 0.8"/>
<polyline points="31.1,289.9 32.4,289.7 33.6,289.9 34.9,288.6 36.2,288.5 37.5,289.3 38.7,288.1 40.0,289.8 41.3,288.8 42.7,288.2 44.0,286.8 45.6,286.9 47.3,286.8 48.9,287.7 50.4,285.6 52.0,286.2 53.3,284.6 54.7,286.1 56.0,285.1 57.3,284.8 58.7,284.1 60.0,282.3 61.5,280.9 63.0,279.0 64.7,277.4 66.3,273.6 68.5,267.3 70.6,258.0 72.2,250.9 73.8,242.3 75.4,233.5 76.6,230.6 77.2,231.3 78.0,230.2 79.0,237.7 80.0,246.7 82.0,258.1 84.3,274.1 86.4,283.1 88.6,288.7 90.3,288.1 92.0,288.0 93.3,288.2 94.6,289.6 95.9,289.1 97.2,289.8 98.6,288.6 99.9,288.8 101.2,288.7 102.5,290.1 103.8,289.4" fill="none" stroke="#505050" stroke-width="0.9" stroke-linejoin="round"/>
<line x1="57.30" y1="259.30" x2="104.30" y2="259.30" stroke="#111" stroke-width="1.1"/>
<line x1="57.30" y1="253.20" x2="57.30" y2="265.20" stroke="#111" stroke-width="1.1"/>
<text x="82.40" y="227.80" font-size="7.0" font-weight="bold" stroke="#000" stroke-width="0.3">91.6%</text>
<text transform="translate(19.60,270.30) rotate(-90)" font-size="10.3" font-weight="bold" stroke="#000" stroke-width="0.3" textLength="35.00" lengthAdjust="spacingAndGlyphs">Counts</text>
<text x="81.50" y="309.50" font-size="10.0" font-weight="bold" stroke="#000" stroke-width="0.3" textLength="26.00" lengthAdjust="spacingAndGlyphs">CD16</text>
<rect x="131.70" y="220.40" width="70.90" height="70.30" fill="none" stroke="#444" stroke-width="0.9"/>
<line x1="131.70" y1="220.40" x2="131.70" y2="291.50" stroke="#111" stroke-width="1.5"/>
<line x1="131.70" y1="290.70" x2="202.60" y2="290.70" stroke="#333" stroke-width="1.0"/>
<line x1="131.70" y1="290.70" x2="131.70" y2="293.30" stroke="#222" stroke-width="0.8"/>
<text x="132.30" y="298.70" font-size="4.8" fill="#333" text-anchor="middle">10<tspan font-size="2.8" dy="-1.6">0</tspan></text>
<line x1="149.42" y1="290.70" x2="149.42" y2="293.30" stroke="#222" stroke-width="0.8"/>
<text x="150.02" y="298.70" font-size="4.8" fill="#333" text-anchor="middle">10<tspan font-size="2.8" dy="-1.6">1</tspan></text>
<line x1="167.15" y1="290.70" x2="167.15" y2="293.30" stroke="#222" stroke-width="0.8"/>
<text x="167.75" y="298.70" font-size="4.8" fill="#333" text-anchor="middle">10<tspan font-size="2.8" dy="-1.6">2</tspan></text>
<line x1="184.88" y1="290.70" x2="184.88" y2="293.30" stroke="#222" stroke-width="0.8"/>
<text x="185.47" y="298.70" font-size="4.8" fill="#333" text-anchor="middle">10<tspan font-size="2.8" dy="-1.6">3</tspan></text>
<line x1="202.60" y1="290.70" x2="202.60" y2="293.30" stroke="#222" stroke-width="0.8"/>
<text x="203.20" y="298.70" font-size="4.8" fill="#333" text-anchor="middle">10<tspan font-size="2.8" dy="-1.6">4</tspan></text>
<line x1="137.04" y1="290.70" x2="137.04" y2="292.30" stroke="#777" stroke-width="0.5"/>
<line x1="140.16" y1="290.70" x2="140.16" y2="292.30" stroke="#777" stroke-width="0.5"/>
<line x1="144.09" y1="290.70" x2="144.09" y2="292.30" stroke="#777" stroke-width="0.5"/>
<line x1="154.76" y1="290.70" x2="154.76" y2="292.30" stroke="#777" stroke-width="0.5"/>
<line x1="157.88" y1="290.70" x2="157.88" y2="292.30" stroke="#777" stroke-width="0.5"/>
<line x1="161.81" y1="290.70" x2="161.81" y2="292.30" stroke="#777" stroke-width="0.5"/>
<line x1="172.49" y1="290.70" x2="172.49" y2="292.30" stroke="#777" stroke-width="0.5"/>
<line x1="175.61" y1="290.70" x2="175.61" y2="292.30" stroke="#777" stroke-width="0.5"/>
<line x1="179.54" y1="290.70" x2="179.54" y2="292.30" stroke="#777" stroke-width="0.5"/>
<line x1="190.21" y1="290.70" x2="190.21" y2="292.30" stroke="#777" stroke-width="0.5"/>
<line x1="193.33" y1="290.70" x2="193.33" y2="292.30" stroke="#777" stroke-width="0.5"/>
<line x1="197.26" y1="290.70" x2="197.26" y2="292.30" stroke="#777" stroke-width="0.5"/>
<line x1="128.90" y1="290.70" x2="131.70" y2="290.70" stroke="#111" stroke-width="0.8"/>
<text transform="translate(128.30,291.70) rotate(-90)" font-size="4.0" fill="#444" text-anchor="middle">0</text>
<line x1="130.00" y1="288.20" x2="131.70" y2="288.20" stroke="#222" stroke-width="0.7"/>
<line x1="130.00" y1="285.70" x2="131.70" y2="285.70" stroke="#222" stroke-width="0.7"/>
<line x1="130.00" y1="283.20" x2="131.70" y2="283.20" stroke="#222" stroke-width="0.7"/>
<line x1="128.90" y1="280.70" x2="131.70" y2="280.70" stroke="#111" stroke-width="0.8"/>
<text transform="translate(128.30,281.70) rotate(-90)" font-size="4.0" fill="#444" text-anchor="middle">10</text>
<line x1="130.00" y1="278.20" x2="131.70" y2="278.20" stroke="#222" stroke-width="0.7"/>
<line x1="130.00" y1="275.70" x2="131.70" y2="275.70" stroke="#222" stroke-width="0.7"/>
<line x1="130.00" y1="273.20" x2="131.70" y2="273.20" stroke="#222" stroke-width="0.7"/>
<line x1="128.90" y1="270.70" x2="131.70" y2="270.70" stroke="#111" stroke-width="0.8"/>
<text transform="translate(128.30,271.70) rotate(-90)" font-size="4.0" fill="#444" text-anchor="middle">20</text>
<line x1="130.00" y1="268.20" x2="131.70" y2="268.20" stroke="#222" stroke-width="0.7"/>
<line x1="130.00" y1="265.70" x2="131.70" y2="265.70" stroke="#222" stroke-width="0.7"/>
<line x1="130.00" y1="263.20" x2="131.70" y2="263.20" stroke="#222" stroke-width="0.7"/>
<line x1="128.90" y1="260.70" x2="131.70" y2="260.70" stroke="#111" stroke-width="0.8"/>
<text transform="translate(128.30,261.70) rotate(-90)" font-size="4.0" fill="#444" text-anchor="middle">30</text>
<line x1="130.00" y1="258.20" x2="131.70" y2="258.20" stroke="#222" stroke-width="0.7"/>
<line x1="130.00" y1="255.70" x2="131.70" y2="255.70" stroke="#222" stroke-width="0.7"/>
<line x1="130.00" y1="253.20" x2="131.70" y2="253.20" stroke="#222" stroke-width="0.7"/>
<line x1="128.90" y1="250.70" x2="131.70" y2="250.70" stroke="#111" stroke-width="0.8"/>
<text transform="translate(128.30,251.70) rotate(-90)" font-size="4.0" fill="#444" text-anchor="middle">40</text>
<line x1="130.00" y1="248.20" x2="131.70" y2="248.20" stroke="#222" stroke-width="0.7"/>
<line x1="130.00" y1="245.70" x2="131.70" y2="245.70" stroke="#222" stroke-width="0.7"/>
<line x1="130.00" y1="243.20" x2="131.70" y2="243.20" stroke="#222" stroke-width="0.7"/>
<line x1="128.90" y1="240.70" x2="131.70" y2="240.70" stroke="#111" stroke-width="0.8"/>
<text transform="translate(128.30,241.70) rotate(-90)" font-size="4.0" fill="#444" text-anchor="middle">50</text>
<line x1="130.00" y1="238.20" x2="131.70" y2="238.20" stroke="#222" stroke-width="0.7"/>
<line x1="130.00" y1="235.70" x2="131.70" y2="235.70" stroke="#222" stroke-width="0.7"/>
<line x1="130.00" y1="233.20" x2="131.70" y2="233.20" stroke="#222" stroke-width="0.7"/>
<line x1="128.90" y1="230.70" x2="131.70" y2="230.70" stroke="#111" stroke-width="0.8"/>
<text transform="translate(128.30,231.70) rotate(-90)" font-size="4.0" fill="#444" text-anchor="middle">60</text>
<line x1="130.00" y1="228.20" x2="131.70" y2="228.20" stroke="#222" stroke-width="0.7"/>
<line x1="130.00" y1="225.70" x2="131.70" y2="225.70" stroke="#222" stroke-width="0.7"/>
<line x1="130.00" y1="223.20" x2="131.70" y2="223.20" stroke="#222" stroke-width="0.7"/>
<line x1="128.90" y1="220.70" x2="131.70" y2="220.70" stroke="#111" stroke-width="0.8"/>
<text transform="translate(128.30,221.70) rotate(-90)" font-size="4.0" fill="#444" text-anchor="middle">70</text>
<polyline points="132.1,248.3 133.0,251.4 134.0,247.4 135.0,253.3 136.0,249.9 137.0,252.6 138.4,252.4 140.0,258.3 141.0,263.3 142.0,267.5 143.2,272.1 144.3,277.9 145.4,281.7 146.4,284.2 147.5,287.8 148.6,290.2 149.7,289.5 150.9,289.9 152.0,290.0" fill="none" stroke="#333" stroke-width="1.0" stroke-linejoin="round" stroke-dasharray="1.6 1.1"/>
<line x1="150.00" y1="290.00" x2="202.60" y2="290.00" stroke="#111" stroke-width="2.0" stroke-dasharray="1.7 0.8"/>
<polyline points="135.6,242.2 136.8,247.4 137.8,234.2 138.8,237.6 139.8,226.7 140.6,229.5 141.2,221.0 142.0,231.7 142.8,225.1 143.6,234.8 144.4,232.0 145.4,242.3 146.4,250.7 147.6,261.3 149.2,273.2 150.8,281.1 152.2,286.0 154.0,284.9 156.2,287.1" fill="none" stroke="#808080" stroke-width="0.6" stroke-linejoin="round"/>
<polyline points="132.1,252.1 132.6,244.9 133.4,251.1 134.4,239.6 135.6,242.7 136.6,233.8 137.6,236.4 138.6,224.6 139.4,227.4 140.0,220.1 140.8,230.3 141.6,223.6 142.4,235.5 143.2,231.6 144.2,243.0 145.2,250.3 146.4,259.7 148.0,268.6 149.6,281.7 151.0,283.3 152.8,285.4 155.0,284.4 156.5,284.7 158.0,287.8 159.3,288.2 160.7,288.3 162.0,287.1 163.1,288.3 164.2,289.7 165.4,289.6 166.5,291.0 167.7,287.8 168.9,290.3 170.1,287.4 171.4,289.6 172.6,289.2 173.8,287.4 175.0,288.7 176.1,289.7 177.2,290.5 178.3,287.6 179.4,289.3 180.6,290.5 181.7,287.9 182.8,291.0 183.9,291.2 185.0,289.0 186.1,288.5 187.3,288.2 188.4,288.5 189.6,289.2 190.7,290.3 191.8,291.2 193.0,289.7 194.1,291.2 195.3,289.2 196.4,290.1 197.5,287.6 198.7,289.1 199.8,287.6 201.0,288.0 202.1,289.4" fill="none" stroke="#3a3a3a" stroke-width="0.8" stroke-linejoin="round"/>
<line x1="155.00" y1="259.30" x2="202.60" y2="259.30" stroke="#111" stroke-width="1.1"/>
<line x1="155.00" y1="253.20" x2="155.00" y2="265.20" stroke="#111" stroke-width="1.1"/>
<text x="182.40" y="227.80" font-size="7.0" font-weight="bold" stroke="#000" stroke-width="0.3">3.7%</text>
<text x="182.30" y="309.50" font-size="10.0" font-weight="bold" stroke="#000" stroke-width="0.3" textLength="26.20" lengthAdjust="spacingAndGlyphs">CD16</text>
<line x1="207.20" y1="265.40" x2="225.40" y2="265.40" stroke="#000" stroke-width="1.3"/>
<polyline points="218.80,261.00 225.40,265.40 218.80,269.80" fill="none" stroke="#000" stroke-width="1.3"/>
<text x="1.50" y="356.40" font-size="11.5" font-weight="bold" stroke="#000" stroke-width="0.3">B</text>
<rect x="68.10" y="363.70" width="135.50" height="92.50" fill="none" stroke="#111" stroke-width="1.25"/>
<line x1="65.40" y1="456.20" x2="68.10" y2="456.20" stroke="#000" stroke-width="1.0"/>
<text x="64.40" y="458.14" font-size="9.0" text-anchor="end" fill="#151515">0</text>
<line x1="66.50" y1="451.57" x2="68.10" y2="451.57" stroke="#000" stroke-width="0.8"/>
<line x1="66.50" y1="446.95" x2="68.10" y2="446.95" stroke="#000" stroke-width="0.8"/>
<line x1="66.50" y1="442.32" x2="68.10" y2="442.32" stroke="#000" stroke-width="0.8"/>
<line x1="65.40" y1="437.70" x2="68.10" y2="437.70" stroke="#000" stroke-width="1.0"/>
<text x="64.40" y="439.64" font-size="9.0" text-anchor="end" fill="#151515">20</text>
<line x1="66.50" y1="433.07" x2="68.10" y2="433.07" stroke="#000" stroke-width="0.8"/>
<line x1="66.50" y1="428.45" x2="68.10" y2="428.45" stroke="#000" stroke-width="0.8"/>
<line x1="66.50" y1="423.82" x2="68.10" y2="423.82" stroke="#000" stroke-width="0.8"/>
<line x1="65.40" y1="419.20" x2="68.10" y2="419.20" stroke="#000" stroke-width="1.0"/>
<text x="64.40" y="421.14" font-size="9.0" text-anchor="end" fill="#151515">40</text>
<line x1="66.50" y1="414.57" x2="68.10" y2="414.57" stroke="#000" stroke-width="0.8"/>
<line x1="66.50" y1="409.95" x2="68.10" y2="409.95" stroke="#000" stroke-width="0.8"/>
<line x1="66.50" y1="405.32" x2="68.10" y2="405.32" stroke="#000" stroke-width="0.8"/>
<line x1="65.40" y1="400.70" x2="68.10" y2="400.70" stroke="#000" stroke-width="1.0"/>
<text x="64.40" y="402.64" font-size="9.0" text-anchor="end" fill="#151515">60</text>
<line x1="66.50" y1="396.07" x2="68.10" y2="396.07" stroke="#000" stroke-width="0.8"/>
<line x1="66.50" y1="391.45" x2="68.10" y2="391.45" stroke="#000" stroke-width="0.8"/>
<line x1="66.50" y1="386.82" x2="68.10" y2="386.82" stroke="#000" stroke-width="0.8"/>
<line x1="65.40" y1="382.20" x2="68.10" y2="382.20" stroke="#000" stroke-width="1.0"/>
<text x="64.40" y="384.14" font-size="9.0" text-anchor="end" fill="#151515">80</text>
<line x1="66.50" y1="377.57" x2="68.10" y2="377.57" stroke="#000" stroke-width="0.8"/>
<line x1="66.50" y1="372.95" x2="68.10" y2="372.95" stroke="#000" stroke-width="0.8"/>
<line x1="66.50" y1="368.32" x2="68.10" y2="368.32" stroke="#000" stroke-width="0.8"/>
<line x1="65.40" y1="363.70" x2="68.10" y2="363.70" stroke="#000" stroke-width="1.0"/>
<text x="64.40" y="365.64" font-size="9.0" text-anchor="end" fill="#151515">100</text>
<line x1="135.20" y1="456.20" x2="135.20" y2="458.00" stroke="#1a1a1a" stroke-width="0.7"/>
<line x1="106.45" y1="368.80" x2="106.45" y2="378.10" stroke="#1a1a1a" stroke-width="1.0"/>
<line x1="99.20" y1="368.80" x2="113.70" y2="368.80" stroke="#1a1a1a" stroke-width="1.0"/>
<line x1="106.45" y1="424.50" x2="106.45" y2="447.50" stroke="#1a1a1a" stroke-width="1.0"/>
<line x1="99.20" y1="447.50" x2="113.70" y2="447.50" stroke="#1a1a1a" stroke-width="1.0"/>
<rect x="80.40" y="378.10" width="52.10" height="46.40" fill="#6e6e6e" stroke="#1a1a1a" stroke-width="1.0"/>
<line x1="80.40" y1="403.30" x2="132.50" y2="403.30" stroke="#1a1a1a" stroke-width="1.1"/>
<line x1="165.40" y1="372.00" x2="165.40" y2="379.50" stroke="#1a1a1a" stroke-width="1.0"/>
<line x1="157.90" y1="372.00" x2="172.90" y2="372.00" stroke="#1a1a1a" stroke-width="1.0"/>
<line x1="165.40" y1="404.50" x2="165.40" y2="421.80" stroke="#1a1a1a" stroke-width="1.0"/>
<line x1="157.90" y1="421.80" x2="172.90" y2="421.80" stroke="#1a1a1a" stroke-width="1.0"/>
<rect x="139.50" y="379.50" width="51.80" height="25.00" fill="#e2e2e2" stroke="#1a1a1a" stroke-width="1.0"/>
<line x1="139.50" y1="392.50" x2="191.30" y2="392.50" stroke="#1a1a1a" stroke-width="1.1"/>
<text x="130.20" y="445.00" font-size="8.6" font-weight="bold" stroke="#000" stroke-width="0.3" textLength="23.20" lengthAdjust="spacingAndGlyphs">p=0.5</text>
<text x="75.20" y="472.50" font-size="11.6" font-weight="bold" stroke="#000" stroke-width="0.3" textLength="57.80" lengthAdjust="spacingAndGlyphs">No HSV1/2</text>
<text x="151.40" y="472.50" font-size="11.6" font-weight="bold" stroke="#000" stroke-width="0.3" textLength="38.40" lengthAdjust="spacingAndGlyphs">HSV1/2</text>
<text x="96.00" y="485.00" font-size="9.6" fill="#111" textLength="16.60" lengthAdjust="spacingAndGlyphs">n=8</text>
<text x="159.00" y="485.00" font-size="9.6" fill="#111" textLength="22.00" lengthAdjust="spacingAndGlyphs">n=21</text>
<text transform="translate(33.60,446.20) rotate(-90)" font-size="9.4" font-weight="bold" stroke="#000" stroke-width="0.3" textLength="82.00" lengthAdjust="spacingAndGlyphs">% CD16+ cells in</text>
<text transform="translate(45.60,444.40) rotate(-90)" font-size="9.4" font-weight="bold" stroke="#000" stroke-width="0.3" textLength="78.40" lengthAdjust="spacingAndGlyphs">Vδ2<tspan font-size="5.83" dy="-3.10">neg</tspan><tspan dy="3.10"> </tspan>γδ T cells</text>
<rect x="65.60" y="504.20" width="135.60" height="91.10" fill="none" stroke="#111" stroke-width="1.25"/>
<line x1="62.90" y1="595.30" x2="65.60" y2="595.30" stroke="#000" stroke-width="1.0"/>
<text x="61.90" y="599.24" font-size="9.0" text-anchor="end" fill="#151515">0</text>
<line x1="64.00" y1="590.75" x2="65.60" y2="590.75" stroke="#000" stroke-width="0.8"/>
<line x1="64.00" y1="586.19" x2="65.60" y2="586.19" stroke="#000" stroke-width="0.8"/>
<line x1="64.00" y1="581.63" x2="65.60" y2="581.63" stroke="#000" stroke-width="0.8"/>
<line x1="62.90" y1="577.08" x2="65.60" y2="577.08" stroke="#000" stroke-width="1.0"/>
<text x="61.90" y="581.02" font-size="9.0" text-anchor="end" fill="#151515">20</text>
<line x1="64.00" y1="572.52" x2="65.60" y2="572.52" stroke="#000" stroke-width="0.8"/>
<line x1="64.00" y1="567.97" x2="65.60" y2="567.97" stroke="#000" stroke-width="0.8"/>
<line x1="64.00" y1="563.41" x2="65.60" y2="563.41" stroke="#000" stroke-width="0.8"/>
<line x1="62.90" y1="558.86" x2="65.60" y2="558.86" stroke="#000" stroke-width="1.0"/>
<text x="61.90" y="562.80" font-size="9.0" text-anchor="end" fill="#151515">40</text>
<line x1="64.00" y1="554.31" x2="65.60" y2="554.31" stroke="#000" stroke-width="0.8"/>
<line x1="64.00" y1="549.75" x2="65.60" y2="549.75" stroke="#000" stroke-width="0.8"/>
<line x1="64.00" y1="545.20" x2="65.60" y2="545.20" stroke="#000" stroke-width="0.8"/>
<line x1="62.90" y1="540.64" x2="65.60" y2="540.64" stroke="#000" stroke-width="1.0"/>
<text x="61.90" y="544.58" font-size="9.0" text-anchor="end" fill="#151515">60</text>
<line x1="64.00" y1="536.09" x2="65.60" y2="536.09" stroke="#000" stroke-width="0.8"/>
<line x1="64.00" y1="531.53" x2="65.60" y2="531.53" stroke="#000" stroke-width="0.8"/>
<line x1="64.00" y1="526.98" x2="65.60" y2="526.98" stroke="#000" stroke-width="0.8"/>
<line x1="62.90" y1="522.42" x2="65.60" y2="522.42" stroke="#000" stroke-width="1.0"/>
<text x="61.90" y="526.36" font-size="9.0" text-anchor="end" fill="#151515">80</text>
<line x1="64.00" y1="517.87" x2="65.60" y2="517.87" stroke="#000" stroke-width="0.8"/>
<line x1="64.00" y1="513.31" x2="65.60" y2="513.31" stroke="#000" stroke-width="0.8"/>
<line x1="64.00" y1="508.75" x2="65.60" y2="508.75" stroke="#000" stroke-width="0.8"/>
<line x1="62.90" y1="504.20" x2="65.60" y2="504.20" stroke="#000" stroke-width="1.0"/>
<text x="61.90" y="508.14" font-size="9.0" text-anchor="end" fill="#151515">100</text>
<line x1="133.30" y1="595.30" x2="133.30" y2="597.10" stroke="#1a1a1a" stroke-width="0.7"/>
<line x1="201.20" y1="595.30" x2="201.20" y2="597.10" stroke="#1a1a1a" stroke-width="0.7"/>
<line x1="93.90" y1="513.00" x2="93.90" y2="526.80" stroke="#111" stroke-width="1.2"/>
<line x1="88.40" y1="513.00" x2="99.40" y2="513.00" stroke="#111" stroke-width="1.2"/>
<line x1="93.90" y1="556.30" x2="93.90" y2="582.50" stroke="#111" stroke-width="1.2"/>
<line x1="88.40" y1="582.50" x2="99.40" y2="582.50" stroke="#111" stroke-width="1.2"/>
<rect x="76.30" y="526.80" width="35.20" height="29.50" fill="#464646" stroke="#111" stroke-width="1.2"/>
<line x1="76.30" y1="535.70" x2="111.50" y2="535.70" stroke="#111" stroke-width="1.3"/>
<rect x="116.00" y="521.30" width="35.30" height="39.50" fill="#a5a5a5" stroke="#2a2a2a" stroke-width="1.1"/>
<line x1="116.00" y1="540.70" x2="151.30" y2="540.70" stroke="#2a2a2a" stroke-width="1.2000000000000002"/>
<line x1="173.15" y1="514.30" x2="173.15" y2="520.50" stroke="#1a1a1a" stroke-width="1.0"/>
<line x1="167.65" y1="514.30" x2="178.65" y2="514.30" stroke="#1a1a1a" stroke-width="1.0"/>
<line x1="173.15" y1="553.80" x2="173.15" y2="588.80" stroke="#1a1a1a" stroke-width="1.0"/>
<line x1="167.65" y1="588.80" x2="178.65" y2="588.80" stroke="#1a1a1a" stroke-width="1.0"/>
<rect x="155.50" y="520.50" width="35.30" height="33.30" fill="#f2f2f2" stroke="#1a1a1a" stroke-width="1.0"/>
<line x1="155.50" y1="535.80" x2="190.80" y2="535.80" stroke="#1a1a1a" stroke-width="1.1"/>
<text x="120.60" y="586.20" font-size="8.6" font-weight="bold" stroke="#000" stroke-width="0.3" textLength="23.60" lengthAdjust="spacingAndGlyphs">p=0.9</text>
<text transform="translate(32.40,587.40) rotate(-90)" font-size="9.4" font-weight="bold" stroke="#000" stroke-width="0.3" textLength="82.60" lengthAdjust="spacingAndGlyphs">% CD16+ cells in</text>
<text transform="translate(44.80,586.20) rotate(-90)" font-size="9.4" font-weight="bold" stroke="#000" stroke-width="0.3" textLength="78.80" lengthAdjust="spacingAndGlyphs">Vδ2<tspan font-size="5.83" dy="-3.10">neg</tspan><tspan dy="3.10"> </tspan>γδ T cells</text>
<text x="3.50" y="615.70" font-size="11.4" font-weight="bold" stroke="#000" stroke-width="0.3" textLength="40.00" lengthAdjust="spacingAndGlyphs">Ag Hbs</text>
<text x="3.50" y="636.60" font-size="11.4" font-weight="bold" stroke="#000" stroke-width="0.3" textLength="63.80" lengthAdjust="spacingAndGlyphs">Ac anti-Hbs</text>
<text x="3.50" y="657.30" font-size="11.4" font-weight="bold" stroke="#000" stroke-width="0.3" textLength="63.80" lengthAdjust="spacingAndGlyphs">Ac anti-Hbc</text>
<text x="90.80" y="614.10" font-size="10.5" font-weight="bold" stroke="#000" stroke-width="0.3" text-anchor="middle">-</text>
<text x="133.40" y="614.10" font-size="10.5" font-weight="bold" stroke="#000" stroke-width="0.3" text-anchor="middle">-</text>
<text x="175.80" y="614.10" font-size="10.5" font-weight="bold" stroke="#000" stroke-width="0.3" text-anchor="middle">-</text>
<text x="90.80" y="634.80" font-size="10.5" font-weight="bold" stroke="#000" stroke-width="0.3" text-anchor="middle">-</text>
<text x="133.60" y="634.90" font-size="10.5" font-weight="bold" stroke="#000" stroke-width="0.3" text-anchor="middle">+/-</text>
<text x="175.90" y="635.70" font-size="10.5" font-weight="bold" stroke="#000" stroke-width="0.3" text-anchor="middle">+</text>
<text x="90.80" y="655.40" font-size="10.5" font-weight="bold" stroke="#000" stroke-width="0.3" text-anchor="middle">-</text>
<text x="133.10" y="656.00" font-size="10.5" font-weight="bold" stroke="#000" stroke-width="0.3" text-anchor="middle">+</text>
<text x="175.80" y="656.00" font-size="10.5" font-weight="bold" stroke="#000" stroke-width="0.3" text-anchor="middle">-</text>
<text x="78.40" y="675.20" font-size="9.8" fill="#111" textLength="23.60" lengthAdjust="spacingAndGlyphs">n=11</text>
<text x="124.90" y="675.20" font-size="9.8" fill="#111" textLength="17.80" lengthAdjust="spacingAndGlyphs">n=5</text>
<text x="164.50" y="675.20" font-size="9.8" fill="#111" textLength="23.00" lengthAdjust="spacingAndGlyphs">n=13</text>
<text x="239.30" y="358.80" font-size="12.0" font-weight="bold" stroke="#000" stroke-width="0.3">C</text>
<line x1="285.00" y1="368.00" x2="285.00" y2="461.80" stroke="#7a7a7a" stroke-width="1.0"/>
<line x1="285.00" y1="461.80" x2="497.60" y2="461.80" stroke="#7a7a7a" stroke-width="1.0"/>
<line x1="282.40" y1="461.80" x2="285.00" y2="461.80" stroke="#7a7a7a" stroke-width="0.9"/>
<text x="279.40" y="464.88" font-size="9.1" text-anchor="end" fill="#111">0</text>
<line x1="282.40" y1="450.26" x2="285.00" y2="450.26" stroke="#7a7a7a" stroke-width="0.9"/>
<text x="279.40" y="453.34" font-size="9.1" text-anchor="end" fill="#111">1</text>
<line x1="282.40" y1="438.73" x2="285.00" y2="438.73" stroke="#7a7a7a" stroke-width="0.9"/>
<text x="279.40" y="441.80" font-size="9.1" text-anchor="end" fill="#111">2</text>
<line x1="282.40" y1="427.19" x2="285.00" y2="427.19" stroke="#7a7a7a" stroke-width="0.9"/>
<text x="279.40" y="430.26" font-size="9.1" text-anchor="end" fill="#111">3</text>
<line x1="282.40" y1="415.65" x2="285.00" y2="415.65" stroke="#7a7a7a" stroke-width="0.9"/>
<text x="279.40" y="418.73" font-size="9.1" text-anchor="end" fill="#111">4</text>
<line x1="282.40" y1="404.11" x2="285.00" y2="404.11" stroke="#7a7a7a" stroke-width="0.9"/>
<text x="279.40" y="407.19" font-size="9.1" text-anchor="end" fill="#111">5</text>
<line x1="282.40" y1="392.57" x2="285.00" y2="392.57" stroke="#7a7a7a" stroke-width="0.9"/>
<text x="279.40" y="395.65" font-size="9.1" text-anchor="end" fill="#111">6</text>
<line x1="282.40" y1="381.04" x2="285.00" y2="381.04" stroke="#7a7a7a" stroke-width="0.9"/>
<text x="279.40" y="384.11" font-size="9.1" text-anchor="end" fill="#111">7</text>
<line x1="282.40" y1="369.50" x2="285.00" y2="369.50" stroke="#7a7a7a" stroke-width="0.9"/>
<text x="279.40" y="372.58" font-size="9.1" text-anchor="end" fill="#111">8</text>
<line x1="285.00" y1="461.80" x2="285.00" y2="464.60" stroke="#7a7a7a" stroke-width="0.9"/>
<line x1="313.80" y1="461.80" x2="313.80" y2="464.60" stroke="#7a7a7a" stroke-width="0.9"/>
<line x1="342.50" y1="461.80" x2="342.50" y2="464.60" stroke="#7a7a7a" stroke-width="0.9"/>
<line x1="371.30" y1="461.80" x2="371.30" y2="464.60" stroke="#7a7a7a" stroke-width="0.9"/>
<line x1="400.00" y1="461.80" x2="400.00" y2="464.60" stroke="#7a7a7a" stroke-width="0.9"/>
<line x1="429.60" y1="461.80" x2="429.60" y2="464.60" stroke="#7a7a7a" stroke-width="0.9"/>
<line x1="459.40" y1="461.80" x2="459.40" y2="464.60" stroke="#7a7a7a" stroke-width="0.9"/>
<line x1="485.70" y1="461.80" x2="485.70" y2="464.60" stroke="#7a7a7a" stroke-width="0.9"/>
<polyline points="286.30,458.20 296.30,458.00 311.80,457.20 335.00,457.40 368.80,455.80 384.50,455.00 474.50,377.50 497.50,393.30" fill="none" stroke="#000" stroke-width="3.0" stroke-linejoin="round"/>
<path d="M282.60 458.20 L286.30 454.50 L290.00 458.20 L286.30 461.90 Z" fill="#000" stroke="#fff" stroke-width="0.9" stroke-opacity="0.8"/>
<path d="M292.60 458.00 L296.30 454.30 L300.00 458.00 L296.30 461.70 Z" fill="#000" stroke="#fff" stroke-width="0.9" stroke-opacity="0.8"/>
<path d="M308.10 457.20 L311.80 453.50 L315.50 457.20 L311.80 460.90 Z" fill="#000" stroke="#fff" stroke-width="0.9" stroke-opacity="0.8"/>
<path d="M331.30 457.40 L335.00 453.70 L338.70 457.40 L335.00 461.10 Z" fill="#000" stroke="#fff" stroke-width="0.9" stroke-opacity="0.8"/>
<path d="M365.10 455.80 L368.80 452.10 L372.50 455.80 L368.80 459.50 Z" fill="#000" stroke="#fff" stroke-width="0.9" stroke-opacity="0.8"/>
<path d="M380.80 455.00 L384.50 451.30 L388.20 455.00 L384.50 458.70 Z" fill="#000" stroke="#fff" stroke-width="0.9" stroke-opacity="0.8"/>
<path d="M470.80 377.50 L474.50 373.80 L478.20 377.50 L474.50 381.20 Z" fill="#000" stroke="#fff" stroke-width="0.9" stroke-opacity="0.8"/>
<path d="M493.80 393.30 L497.50 389.60 L501.20 393.30 L497.50 397.00 Z" fill="#000" stroke="#fff" stroke-width="0.9" stroke-opacity="0.8"/>
<text x="280.30" y="476.60" font-size="11.2" font-weight="bold" stroke="#000" stroke-width="0.3" textLength="13.60" lengthAdjust="spacingAndGlyphs">D0</text>
<text x="335.20" y="476.60" font-size="11.2" font-weight="bold" stroke="#000" stroke-width="0.3" textLength="15.20" lengthAdjust="spacingAndGlyphs">M2</text>
<text x="394.00" y="476.60" font-size="11.2" font-weight="bold" stroke="#000" stroke-width="0.3" textLength="15.20" lengthAdjust="spacingAndGlyphs">M4</text>
<text x="453.40" y="476.60" font-size="11.2" font-weight="bold" stroke="#000" stroke-width="0.3" textLength="15.20" lengthAdjust="spacingAndGlyphs">M6</text>
<rect x="345.80" y="384.50" width="80.00" height="23.50" fill="#f0f0f0" stroke="#111" stroke-width="0.9"/>
<text x="372.70" y="401.20" font-size="12.2" font-weight="bold" stroke="#000" stroke-width="0.3" textLength="26.60" lengthAdjust="spacingAndGlyphs">CMV</text>
<text transform="translate(263.30,465.80) rotate(-90)" font-size="11.2" font-weight="bold" stroke="#000" stroke-width="0.3" textLength="101.00" lengthAdjust="spacingAndGlyphs">% Vδ2<tspan font-size="6.94" dy="-3.70">neg</tspan><tspan dy="3.70"> </tspan>γδ T cells</text>
<line x1="283.00" y1="503.00" x2="283.00" y2="596.30" stroke="#7a7a7a" stroke-width="1.0"/>
<line x1="283.00" y1="596.30" x2="495.60" y2="596.30" stroke="#7a7a7a" stroke-width="1.0"/>
<line x1="280.40" y1="596.30" x2="283.00" y2="596.30" stroke="#7a7a7a" stroke-width="0.9"/>
<text x="277.40" y="599.38" font-size="9.1" text-anchor="end" fill="#111">0</text>
<line x1="280.40" y1="583.19" x2="283.00" y2="583.19" stroke="#7a7a7a" stroke-width="0.9"/>
<text x="277.40" y="586.26" font-size="9.1" text-anchor="end" fill="#111">10</text>
<line x1="280.40" y1="570.07" x2="283.00" y2="570.07" stroke="#7a7a7a" stroke-width="0.9"/>
<text x="277.40" y="573.15" font-size="9.1" text-anchor="end" fill="#111">20</text>
<line x1="280.40" y1="556.96" x2="283.00" y2="556.96" stroke="#7a7a7a" stroke-width="0.9"/>
<text x="277.40" y="560.03" font-size="9.1" text-anchor="end" fill="#111">30</text>
<line x1="280.40" y1="543.84" x2="283.00" y2="543.84" stroke="#7a7a7a" stroke-width="0.9"/>
<text x="277.40" y="546.92" font-size="9.1" text-anchor="end" fill="#111">40</text>
<line x1="280.40" y1="530.73" x2="283.00" y2="530.73" stroke="#7a7a7a" stroke-width="0.9"/>
<text x="277.40" y="533.80" font-size="9.1" text-anchor="end" fill="#111">50</text>
<line x1="280.40" y1="517.61" x2="283.00" y2="517.61" stroke="#7a7a7a" stroke-width="0.9"/>
<text x="277.40" y="520.69" font-size="9.1" text-anchor="end" fill="#111">60</text>
<line x1="280.40" y1="504.50" x2="283.00" y2="504.50" stroke="#7a7a7a" stroke-width="0.9"/>
<text x="277.40" y="507.58" font-size="9.1" text-anchor="end" fill="#111">70</text>
<line x1="283.00" y1="596.30" x2="283.00" y2="599.10" stroke="#7a7a7a" stroke-width="0.9"/>
<line x1="312.00" y1="596.30" x2="312.00" y2="599.10" stroke="#7a7a7a" stroke-width="0.9"/>
<line x1="340.50" y1="596.30" x2="340.50" y2="599.10" stroke="#7a7a7a" stroke-width="0.9"/>
<line x1="369.50" y1="596.30" x2="369.50" y2="599.10" stroke="#7a7a7a" stroke-width="0.9"/>
<line x1="398.30" y1="596.30" x2="398.30" y2="599.10" stroke="#7a7a7a" stroke-width="0.9"/>
<line x1="428.00" y1="596.30" x2="428.00" y2="599.10" stroke="#7a7a7a" stroke-width="0.9"/>
<line x1="457.00" y1="596.30" x2="457.00" y2="599.10" stroke="#7a7a7a" stroke-width="0.9"/>
<line x1="483.80" y1="596.30" x2="483.80" y2="599.10" stroke="#7a7a7a" stroke-width="0.9"/>
<polyline points="283.80,581.30 293.80,582.50 309.50,578.00 333.00,577.00 367.50,592.00 382.00,588.80 472.00,523.00 496.30,511.30" fill="none" stroke="#000" stroke-width="3.0" stroke-linejoin="round"/>
<path d="M280.10 581.30 L283.80 577.60 L287.50 581.30 L283.80 585.00 Z" fill="#000" stroke="#fff" stroke-width="0.9" stroke-opacity="0.8"/>
<path d="M290.10 582.50 L293.80 578.80 L297.50 582.50 L293.80 586.20 Z" fill="#000" stroke="#fff" stroke-width="0.9" stroke-opacity="0.8"/>
<path d="M305.80 578.00 L309.50 574.30 L313.20 578.00 L309.50 581.70 Z" fill="#000" stroke="#fff" stroke-width="0.9" stroke-opacity="0.8"/>
<path d="M329.30 577.00 L333.00 573.30 L336.70 577.00 L333.00 580.70 Z" fill="#000" stroke="#fff" stroke-width="0.9" stroke-opacity="0.8"/>
<path d="M363.80 592.00 L367.50 588.30 L371.20 592.00 L367.50 595.70 Z" fill="#000" stroke="#fff" stroke-width="0.9" stroke-opacity="0.8"/>
<path d="M378.30 588.80 L382.00 585.10 L385.70 588.80 L382.00 592.50 Z" fill="#000" stroke="#fff" stroke-width="0.9" stroke-opacity="0.8"/>
<path d="M468.30 523.00 L472.00 519.30 L475.70 523.00 L472.00 526.70 Z" fill="#000" stroke="#fff" stroke-width="0.9" stroke-opacity="0.8"/>
<path d="M492.60 511.30 L496.30 507.60 L500.00 511.30 L496.30 515.00 Z" fill="#000" stroke="#fff" stroke-width="0.9" stroke-opacity="0.8"/>
<text x="279.70" y="612.90" font-size="11.2" font-weight="bold" stroke="#000" stroke-width="0.3" textLength="13.20" lengthAdjust="spacingAndGlyphs">D0</text>
<text x="337.00" y="612.90" font-size="11.2" font-weight="bold" stroke="#000" stroke-width="0.3" textLength="15.40" lengthAdjust="spacingAndGlyphs">M2</text>
<text x="397.20" y="612.90" font-size="11.2" font-weight="bold" stroke="#000" stroke-width="0.3" textLength="15.20" lengthAdjust="spacingAndGlyphs">M4</text>
<text x="452.70" y="612.90" font-size="11.2" font-weight="bold" stroke="#000" stroke-width="0.3" textLength="15.40" lengthAdjust="spacingAndGlyphs">M6</text>
<rect x="342.50" y="513.80" width="81.30" height="23.70" fill="#f0f0f0" stroke="#111" stroke-width="0.9"/>
<text x="369.00" y="530.70" font-size="12.2" font-weight="bold" stroke="#000" stroke-width="0.3" textLength="27.00" lengthAdjust="spacingAndGlyphs">CMV</text>
<text transform="translate(248.00,593.70) rotate(-90)" font-size="9.4" font-weight="bold" stroke="#000" stroke-width="0.3" textLength="82.20" lengthAdjust="spacingAndGlyphs">% CD16+ cells in</text>
<text transform="translate(260.40,592.40) rotate(-90)" font-size="9.4" font-weight="bold" stroke="#000" stroke-width="0.3" textLength="78.60" lengthAdjust="spacingAndGlyphs">Vδ2<tspan font-size="5.83" dy="-3.10">neg</tspan><tspan dy="3.10"> </tspan>γδ T cells</text>
</svg>
</body></html>
